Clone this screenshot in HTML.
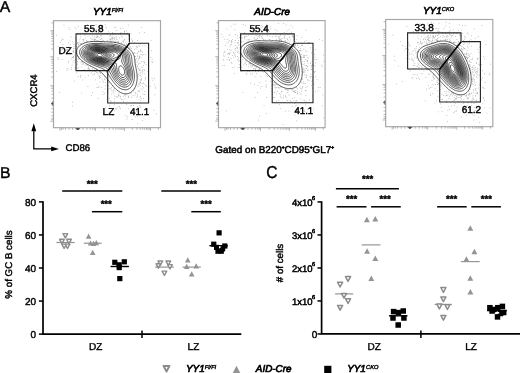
<!DOCTYPE html><html><head><meta charset="utf-8"><title>Figure</title><style>html,body{margin:0;padding:0;background:#fff;}body{width:520px;height:373px;overflow:hidden;font-family:"Liberation Sans",sans-serif;}svg text{font-family:"Liberation Sans",sans-serif;}</style></head><body><svg width="520" height="373" viewBox="0 0 520 373" font-family="Liberation Sans, sans-serif" style="display:block;font-family:'Liberation Sans',sans-serif"><rect x="0" y="0" width="520" height="373" fill="#fff"/><path fill="#555" opacity="0.55" d="M71.7 64.7h.75v.75h-.75zM116.6 40.9h.75v.75h-.75zM79.3 42.5h.75v.75h-.75zM101.0 41.6h.75v.75h-.75zM67.0 49.0h.75v.75h-.75zM75.5 53.0h.75v.75h-.75zM74.6 26.9h.75v.75h-.75zM76.5 43.3h.75v.75h-.75zM73.5 52.0h.75v.75h-.75zM77.0 61.5h.75v.75h-.75zM70.6 58.8h.75v.75h-.75zM94.6 70.8h.75v.75h-.75zM84.3 41.8h.75v.75h-.75zM85.3 37.8h.75v.75h-.75zM97.9 39.9h.75v.75h-.75zM76.1 40.2h.75v.75h-.75zM111.2 41.7h.75v.75h-.75zM101.3 37.8h.75v.75h-.75zM89.4 69.4h.75v.75h-.75zM80.4 43.5h.75v.75h-.75zM86.3 40.3h.75v.75h-.75zM73.4 50.0h.75v.75h-.75zM71.1 52.9h.75v.75h-.75zM76.2 38.7h.75v.75h-.75zM78.5 44.5h.75v.75h-.75zM100.9 38.7h.75v.75h-.75zM82.6 40.7h.75v.75h-.75zM71.7 57.3h.75v.75h-.75zM81.5 43.0h.75v.75h-.75zM68.1 60.9h.75v.75h-.75zM74.8 37.0h.75v.75h-.75zM75.2 52.3h.75v.75h-.75zM93.7 70.0h.75v.75h-.75zM102.6 39.8h.75v.75h-.75zM96.8 41.0h.75v.75h-.75zM73.6 44.0h.75v.75h-.75zM80.9 61.1h.75v.75h-.75zM93.8 74.0h.75v.75h-.75zM87.3 41.1h.75v.75h-.75zM73.2 56.1h.75v.75h-.75zM96.2 68.9h.75v.75h-.75zM66.6 50.0h.75v.75h-.75zM69.6 48.1h.75v.75h-.75zM75.4 44.6h.75v.75h-.75zM88.1 66.7h.75v.75h-.75zM75.4 58.2h.75v.75h-.75zM140.8 54.1h.75v.75h-.75zM76.1 50.8h.75v.75h-.75zM100.2 73.3h.75v.75h-.75zM76.9 61.5h.75v.75h-.75zM77.0 61.0h.75v.75h-.75zM82.4 61.3h.75v.75h-.75zM76.8 63.6h.75v.75h-.75zM137.4 55.3h.75v.75h-.75zM65.9 54.3h.75v.75h-.75zM68.1 42.6h.75v.75h-.75zM103.1 40.5h.75v.75h-.75zM69.7 40.8h.75v.75h-.75zM76.1 53.7h.75v.75h-.75zM82.4 69.9h.75v.75h-.75zM77.9 43.9h.75v.75h-.75zM77.9 56.7h.75v.75h-.75zM76.4 50.8h.75v.75h-.75zM97.4 35.7h.75v.75h-.75zM58.2 58.8h.75v.75h-.75zM97.6 36.4h.75v.75h-.75zM77.6 56.0h.75v.75h-.75zM91.7 39.3h.75v.75h-.75zM57.7 58.8h.75v.75h-.75zM94.1 35.8h.75v.75h-.75zM102.3 30.3h.75v.75h-.75zM57.7 56.9h.75v.75h-.75zM77.6 58.7h.75v.75h-.75zM73.2 48.2h.75v.75h-.75zM90.0 37.6h.75v.75h-.75zM83.2 39.8h.75v.75h-.75zM74.6 48.2h.75v.75h-.75zM73.1 51.1h.75v.75h-.75zM86.3 41.0h.75v.75h-.75zM85.6 28.5h.75v.75h-.75zM89.3 68.7h.75v.75h-.75zM99.5 71.9h.75v.75h-.75zM84.7 34.8h.75v.75h-.75zM80.4 43.4h.75v.75h-.75zM72.7 51.2h.75v.75h-.75zM71.3 53.0h.75v.75h-.75zM77.8 59.1h.75v.75h-.75zM135.3 56.3h.75v.75h-.75zM86.9 64.4h.75v.75h-.75zM72.2 53.6h.75v.75h-.75zM72.9 56.6h.75v.75h-.75zM99.6 41.5h.75v.75h-.75zM78.3 58.1h.75v.75h-.75zM98.8 41.0h.75v.75h-.75zM82.6 63.1h.75v.75h-.75zM90.2 65.8h.75v.75h-.75zM101.6 41.0h.75v.75h-.75zM144.6 84.0h.75v.75h-.75zM135.4 93.1h.75v.75h-.75zM139.8 79.3h.75v.75h-.75zM120.8 42.1h.75v.75h-.75zM130.6 92.7h.75v.75h-.75zM135.5 92.9h.75v.75h-.75zM140.6 87.9h.75v.75h-.75zM121.0 98.9h.75v.75h-.75zM125.1 95.8h.75v.75h-.75zM137.1 85.7h.75v.75h-.75zM124.9 45.5h.75v.75h-.75zM139.5 83.7h.75v.75h-.75zM144.4 73.4h.75v.75h-.75zM124.2 43.7h.75v.75h-.75zM141.0 78.9h.75v.75h-.75zM88.0 75.0h.75v.75h-.75zM119.0 37.4h.75v.75h-.75zM139.9 72.3h.75v.75h-.75zM131.2 47.9h.75v.75h-.75zM133.1 105.2h.75v.75h-.75zM112.4 85.5h.75v.75h-.75zM113.0 92.5h.75v.75h-.75zM110.8 101.2h.75v.75h-.75zM114.0 104.6h.75v.75h-.75zM141.7 82.9h.75v.75h-.75zM136.4 111.0h.75v.75h-.75zM142.7 82.9h.75v.75h-.75zM100.5 75.5h.75v.75h-.75zM139.6 62.9h.75v.75h-.75zM115.7 96.3h.75v.75h-.75zM141.8 67.0h.75v.75h-.75zM126.0 104.0h.75v.75h-.75zM112.6 40.7h.75v.75h-.75zM131.6 119.3h.75v.75h-.75zM146.6 108.4h.75v.75h-.75zM136.8 96.8h.75v.75h-.75zM127.9 24.8h.75v.75h-.75zM140.4 80.0h.75v.75h-.75zM139.3 68.8h.75v.75h-.75zM128.3 97.0h.75v.75h-.75zM100.8 86.9h.75v.75h-.75zM118.5 94.6h.75v.75h-.75zM154.2 78.3h.75v.75h-.75zM134.2 102.3h.75v.75h-.75zM134.6 94.7h.75v.75h-.75zM116.9 96.4h.75v.75h-.75zM137.3 106.1h.75v.75h-.75zM138.1 83.7h.75v.75h-.75zM99.1 77.6h.75v.75h-.75zM123.9 94.9h.75v.75h-.75zM117.8 42.2h.75v.75h-.75zM124.5 98.0h.75v.75h-.75zM119.2 106.8h.75v.75h-.75zM124.7 45.7h.75v.75h-.75zM118.2 94.7h.75v.75h-.75zM137.7 68.6h.75v.75h-.75zM124.2 31.3h.75v.75h-.75zM129.3 34.5h.75v.75h-.75zM142.0 86.2h.75v.75h-.75zM137.8 91.2h.75v.75h-.75zM104.2 78.7h.75v.75h-.75zM139.9 84.9h.75v.75h-.75zM139.6 70.3h.75v.75h-.75zM140.8 76.5h.75v.75h-.75zM124.0 31.7h.75v.75h-.75zM141.6 71.6h.75v.75h-.75zM139.5 73.1h.75v.75h-.75zM128.8 46.7h.75v.75h-.75zM131.1 104.9h.75v.75h-.75zM127.7 95.4h.75v.75h-.75zM128.3 35.0h.75v.75h-.75zM114.1 101.2h.75v.75h-.75zM140.1 82.2h.75v.75h-.75zM140.0 75.1h.75v.75h-.75zM102.6 80.5h.75v.75h-.75zM139.1 83.5h.75v.75h-.75zM144.1 32.2h.75v.75h-.75zM117.9 42.1h.75v.75h-.75zM102.9 81.7h.75v.75h-.75zM137.1 116.6h.75v.75h-.75zM107.9 85.1h.75v.75h-.75zM126.1 30.6h.75v.75h-.75zM137.7 58.0h.75v.75h-.75zM145.3 77.2h.75v.75h-.75zM135.9 109.1h.75v.75h-.75zM104.2 92.9h.75v.75h-.75zM118.8 106.2h.75v.75h-.75zM122.6 99.2h.75v.75h-.75zM113.6 89.3h.75v.75h-.75zM102.5 91.5h.75v.75h-.75zM139.8 54.6h.75v.75h-.75zM122.8 96.1h.75v.75h-.75zM113.9 39.2h.75v.75h-.75zM112.6 37.1h.75v.75h-.75zM111.2 37.4h.75v.75h-.75zM140.9 61.1h.75v.75h-.75zM138.0 74.0h.75v.75h-.75zM132.6 46.2h.75v.75h-.75zM120.1 96.0h.75v.75h-.75zM92.2 68.5h.75v.75h-.75zM140.3 100.3h.75v.75h-.75zM114.1 98.4h.75v.75h-.75zM142.3 54.7h.75v.75h-.75zM138.4 90.0h.75v.75h-.75zM142.5 71.4h.75v.75h-.75zM115.5 26.7h.75v.75h-.75zM142.3 70.0h.75v.75h-.75zM126.9 32.8h.75v.75h-.75zM139.3 102.9h.75v.75h-.75zM134.5 88.6h.75v.75h-.75zM107.8 40.8h.75v.75h-.75zM143.1 87.6h.75v.75h-.75zM114.3 27.0h.75v.75h-.75zM136.8 65.4h.75v.75h-.75zM143.8 69.2h.75v.75h-.75zM141.0 78.1h.75v.75h-.75zM116.6 38.9h.75v.75h-.75zM107.0 97.4h.75v.75h-.75zM137.9 50.7h.75v.75h-.75zM142.1 51.7h.75v.75h-.75zM107.8 80.1h.75v.75h-.75zM135.6 48.5h.75v.75h-.75zM134.4 56.1h.75v.75h-.75zM136.2 58.4h.75v.75h-.75zM126.9 46.4h.75v.75h-.75zM115.3 40.7h.75v.75h-.75zM135.2 59.4h.75v.75h-.75zM128.5 47.9h.75v.75h-.75zM115.9 38.5h.75v.75h-.75zM135.6 64.2h.75v.75h-.75zM140.1 69.7h.75v.75h-.75zM113.6 38.2h.75v.75h-.75zM110.5 42.0h.75v.75h-.75zM135.4 62.3h.75v.75h-.75zM138.5 51.5h.75v.75h-.75zM134.0 49.2h.75v.75h-.75zM125.3 42.3h.75v.75h-.75zM138.7 62.6h.75v.75h-.75zM123.2 41.7h.75v.75h-.75zM99.2 37.1h.75v.75h-.75zM142.6 61.6h.75v.75h-.75zM106.2 40.9h.75v.75h-.75zM94.4 39.2h.75v.75h-.75zM129.0 48.0h.75v.75h-.75zM135.7 46.5h.75v.75h-.75zM117.8 41.2h.75v.75h-.75zM128.9 47.9h.75v.75h-.75zM137.1 56.1h.75v.75h-.75zM144.2 62.5h.75v.75h-.75zM124.2 43.9h.75v.75h-.75zM131.2 38.7h.75v.75h-.75zM137.5 52.5h.75v.75h-.75zM104.0 41.5h.75v.75h-.75zM104.9 82.1h.75v.75h-.75zM73.6 60.0h.75v.75h-.75zM111.4 93.7h.75v.75h-.75zM94.3 40.3h.75v.75h-.75zM139.4 104.9h.75v.75h-.75zM107.3 33.1h.75v.75h-.75zM69.5 29.0h.75v.75h-.75zM139.8 97.2h.75v.75h-.75zM139.4 91.6h.75v.75h-.75zM114.6 90.8h.75v.75h-.75zM92.1 92.3h.75v.75h-.75zM108.7 82.3h.75v.75h-.75zM117.9 95.4h.75v.75h-.75zM91.0 40.9h.75v.75h-.75zM98.1 31.9h.75v.75h-.75zM73.3 50.4h.75v.75h-.75zM82.2 61.0h.75v.75h-.75zM144.0 94.1h.75v.75h-.75zM151.6 77.8h.75v.75h-.75zM138.8 90.3h.75v.75h-.75zM62.6 43.9h.75v.75h-.75zM143.0 98.3h.75v.75h-.75zM110.6 41.3h.75v.75h-.75zM80.4 38.3h.75v.75h-.75zM95.3 30.2h.75v.75h-.75zM102.7 94.2h.75v.75h-.75zM127.9 38.6h.75v.75h-.75zM122.6 28.0h.75v.75h-.75zM118.6 93.1h.75v.75h-.75zM97.2 33.8h.75v.75h-.75zM128.0 96.3h.75v.75h-.75zM114.4 95.7h.75v.75h-.75zM107.2 33.0h.75v.75h-.75zM136.8 61.6h.75v.75h-.75zM77.2 33.7h.75v.75h-.75zM140.1 96.2h.75v.75h-.75zM75.8 28.6h.75v.75h-.75zM97.6 98.0h.75v.75h-.75zM104.9 24.1h.75v.75h-.75zM96.1 37.0h.75v.75h-.75zM92.2 35.6h.75v.75h-.75zM108.0 89.4h.75v.75h-.75zM147.5 71.0h.75v.75h-.75zM74.7 67.1h.75v.75h-.75zM84.1 28.0h.75v.75h-.75zM100.9 35.1h.75v.75h-.75zM138.9 56.9h.75v.75h-.75zM59.9 42.3h.75v.75h-.75zM138.6 99.0h.75v.75h-.75zM115.9 30.2h.75v.75h-.75zM90.7 72.4h.75v.75h-.75zM62.6 38.9h.75v.75h-.75zM99.4 81.5h.75v.75h-.75zM142.2 73.6h.75v.75h-.75zM99.2 77.7h.75v.75h-.75zM82.4 79.6h.75v.75h-.75zM91.7 37.9h.75v.75h-.75zM94.9 41.1h.75v.75h-.75zM94.2 73.4h.75v.75h-.75zM110.9 87.2h.75v.75h-.75zM119.5 95.4h.75v.75h-.75zM109.3 38.4h.75v.75h-.75zM98.4 75.6h.75v.75h-.75zM98.9 76.0h.75v.75h-.75zM137.2 66.3h.75v.75h-.75zM95.1 79.4h.75v.75h-.75zM66.7 69.8h.75v.75h-.75zM84.7 77.5h.75v.75h-.75zM100.7 40.9h.75v.75h-.75zM88.2 29.3h.75v.75h-.75zM120.0 33.3h.75v.75h-.75zM110.7 38.0h.75v.75h-.75zM81.3 66.8h.75v.75h-.75zM84.6 34.2h.75v.75h-.75zM95.4 70.9h.75v.75h-.75zM61.0 53.6h.75v.75h-.75zM139.8 43.7h.75v.75h-.75zM140.8 57.1h.75v.75h-.75zM72.4 61.6h.75v.75h-.75zM80.0 77.3h.75v.75h-.75zM61.7 38.5h.75v.75h-.75zM98.0 32.3h.75v.75h-.75zM87.9 69.5h.75v.75h-.75zM77.5 56.3h.75v.75h-.75zM96.6 36.3h.75v.75h-.75zM80.4 34.2h.75v.75h-.75zM82.6 39.0h.75v.75h-.75zM61.8 59.0h.75v.75h-.75zM62.2 49.3h.75v.75h-.75zM100.0 29.9h.75v.75h-.75zM100.0 35.4h.75v.75h-.75zM123.1 40.5h.75v.75h-.75zM114.0 37.1h.75v.75h-.75zM112.3 39.5h.75v.75h-.75zM97.3 72.6h.75v.75h-.75zM87.5 86.2h.75v.75h-.75zM139.8 75.2h.75v.75h-.75zM74.7 62.0h.75v.75h-.75zM113.9 41.8h.75v.75h-.75zM132.3 40.1h.75v.75h-.75zM71.2 66.9h.75v.75h-.75zM140.6 50.0h.75v.75h-.75zM75.6 60.3h.75v.75h-.75zM79.1 58.6h.75v.75h-.75zM110.2 35.2h.75v.75h-.75zM73.0 57.0h.75v.75h-.75zM66.2 53.3h.75v.75h-.75zM71.3 69.1h.75v.75h-.75zM80.6 62.5h.75v.75h-.75zM76.0 54.0h.75v.75h-.75zM70.7 36.5h.75v.75h-.75zM73.9 46.2h.75v.75h-.75zM61.0 48.6h.75v.75h-.75zM124.0 39.0h.75v.75h-.75zM69.7 44.3h.75v.75h-.75zM80.4 36.3h.75v.75h-.75zM91.9 74.6h.75v.75h-.75zM96.2 40.6h.75v.75h-.75zM77.1 42.3h.75v.75h-.75zM109.1 35.7h.75v.75h-.75zM104.7 33.2h.75v.75h-.75zM114.3 33.0h.75v.75h-.75zM79.4 39.6h.75v.75h-.75zM63.8 50.7h.75v.75h-.75zM84.7 64.8h.75v.75h-.75zM97.2 36.4h.75v.75h-.75zM108.2 31.4h.75v.75h-.75zM80.7 75.7h.75v.75h-.75zM144.6 45.6h.75v.75h-.75zM83.3 63.7h.75v.75h-.75zM136.6 52.9h.75v.75h-.75zM77.3 64.6h.75v.75h-.75zM121.5 43.2h.75v.75h-.75zM143.3 54.0h.75v.75h-.75zM72.0 41.5h.75v.75h-.75zM81.8 61.8h.75v.75h-.75zM118.1 41.8h.75v.75h-.75zM88.2 67.1h.75v.75h-.75zM68.6 46.8h.75v.75h-.75zM99.7 39.0h.75v.75h-.75zM77.3 67.8h.75v.75h-.75zM56.0 71.3h.75v.75h-.75zM72.4 57.1h.75v.75h-.75zM76.2 51.7h.75v.75h-.75zM77.4 42.9h.75v.75h-.75zM57.6 46.1h.75v.75h-.75zM68.6 68.4h.75v.75h-.75zM77.7 76.0h.75v.75h-.75zM86.5 65.3h.75v.75h-.75zM77.8 42.5h.75v.75h-.75zM111.9 33.0h.75v.75h-.75zM76.4 49.6h.75v.75h-.75zM96.3 72.3h.75v.75h-.75zM73.9 80.7h.75v.75h-.75zM78.3 67.6h.75v.75h-.75zM152.4 79.7h.75v.75h-.75zM75.4 55.7h.75v.75h-.75zM66.8 68.6h.75v.75h-.75zM93.0 25.4h.75v.75h-.75zM139.1 56.3h.75v.75h-.75zM138.8 70.1h.75v.75h-.75zM134.6 53.3h.75v.75h-.75zM83.4 39.2h.75v.75h-.75zM81.7 64.0h.75v.75h-.75zM95.3 39.3h.75v.75h-.75zM141.8 45.6h.75v.75h-.75zM130.7 32.9h.75v.75h-.75zM87.5 68.2h.75v.75h-.75zM93.7 39.3h.75v.75h-.75zM66.2 49.0h.75v.75h-.75zM62.3 46.8h.75v.75h-.75zM95.6 37.4h.75v.75h-.75zM56.1 34.7h.75v.75h-.75zM77.2 55.2h.75v.75h-.75zM67.9 62.6h.75v.75h-.75zM63.6 24.8h.75v.75h-.75zM91.9 29.0h.75v.75h-.75zM74.4 54.8h.75v.75h-.75zM110.6 39.0h.75v.75h-.75zM61.0 40.6h.75v.75h-.75zM102.0 27.9h.75v.75h-.75zM109.3 105.5h.75v.75h-.75zM138.2 68.2h.75v.75h-.75zM93.5 68.7h.75v.75h-.75zM156.1 113.4h.75v.75h-.75zM137.9 63.7h.75v.75h-.75zM135.3 92.3h.75v.75h-.75zM139.7 106.6h.75v.75h-.75zM113.0 90.6h.75v.75h-.75zM110.2 88.0h.75v.75h-.75zM120.2 97.7h.75v.75h-.75zM139.6 82.5h.75v.75h-.75zM108.7 88.2h.75v.75h-.75zM104.8 79.4h.75v.75h-.75zM147.8 52.0h.75v.75h-.75zM115.0 108.3h.75v.75h-.75zM134.1 42.0h.75v.75h-.75zM152.3 62.3h.75v.75h-.75zM142.5 93.7h.75v.75h-.75zM137.5 75.6h.75v.75h-.75zM144.1 61.8h.75v.75h-.75zM120.0 28.1h.75v.75h-.75zM134.8 116.6h.75v.75h-.75zM142.7 68.8h.75v.75h-.75zM93.5 29.6h.75v.75h-.75zM120.1 108.0h.75v.75h-.75zM111.7 90.8h.75v.75h-.75zM144.7 79.5h.75v.75h-.75zM98.5 86.3h.75v.75h-.75zM102.1 41.5h.75v.75h-.75zM97.8 87.2h.75v.75h-.75zM120.5 32.1h.75v.75h-.75zM125.4 115.5h.75v.75h-.75zM105.1 107.8h.75v.75h-.75zM139.3 57.6h.75v.75h-.75zM153.6 109.8h.75v.75h-.75zM144.3 91.2h.75v.75h-.75zM132.9 90.8h.75v.75h-.75zM95.7 24.1h.75v.75h-.75zM137.2 94.6h.75v.75h-.75zM116.8 97.0h.75v.75h-.75zM108.7 41.6h.75v.75h-.75zM125.1 94.2h.75v.75h-.75zM96.6 87.0h.75v.75h-.75zM132.2 41.0h.75v.75h-.75zM113.0 33.9h.75v.75h-.75zM139.9 49.0h.75v.75h-.75zM154.4 84.1h.75v.75h-.75zM109.1 111.4h.75v.75h-.75zM139.9 81.4h.75v.75h-.75zM135.6 109.8h.75v.75h-.75zM136.8 95.8h.75v.75h-.75zM145.4 54.1h.75v.75h-.75zM97.7 73.6h.75v.75h-.75zM138.4 107.2h.75v.75h-.75zM114.4 110.4h.75v.75h-.75zM127.7 47.3h.75v.75h-.75zM142.2 120.2h.75v.75h-.75zM139.2 57.8h.75v.75h-.75zM140.5 51.3h.75v.75h-.75zM155.1 87.7h.75v.75h-.75zM131.3 97.0h.75v.75h-.75zM90.1 41.2h.75v.75h-.75zM154.8 86.6h.75v.75h-.75zM107.0 39.8h.75v.75h-.75zM135.3 60.1h.75v.75h-.75zM123.2 101.1h.75v.75h-.75zM109.1 98.0h.75v.75h-.75zM80.2 75.1h.75v.75h-.75zM105.3 26.4h.75v.75h-.75zM145.5 84.9h.75v.75h-.75zM133.3 52.8h.75v.75h-.75zM101.6 78.4h.75v.75h-.75zM122.2 36.5h.75v.75h-.75zM96.7 83.6h.75v.75h-.75zM104.0 75.8h.75v.75h-.75zM129.3 36.9h.75v.75h-.75zM100.2 76.9h.75v.75h-.75zM151.7 59.0h.75v.75h-.75zM145.8 64.0h.75v.75h-.75zM111.3 89.5h.75v.75h-.75zM126.6 118.8h.75v.75h-.75zM128.4 108.4h.75v.75h-.75zM72.2 101.8h.75v.75h-.75zM112.2 115.2h.75v.75h-.75zM119.9 33.9h.75v.75h-.75zM130.5 110.9h.75v.75h-.75zM138.0 85.8h.75v.75h-.75zM142.3 89.4h.75v.75h-.75zM136.5 45.8h.75v.75h-.75zM92.5 71.2h.75v.75h-.75zM137.2 40.3h.75v.75h-.75zM130.1 105.5h.75v.75h-.75zM130.1 46.0h.75v.75h-.75zM112.1 37.2h.75v.75h-.75zM110.1 102.4h.75v.75h-.75zM107.3 92.1h.75v.75h-.75zM132.7 95.5h.75v.75h-.75zM138.0 59.4h.75v.75h-.75zM122.4 40.7h.75v.75h-.75zM114.1 39.4h.75v.75h-.75zM151.6 61.0h.75v.75h-.75zM115.6 37.6h.75v.75h-.75zM120.9 35.8h.75v.75h-.75zM141.4 66.5h.75v.75h-.75zM139.3 56.1h.75v.75h-.75zM124.2 39.8h.75v.75h-.75zM106.2 27.8h.75v.75h-.75zM140.3 50.5h.75v.75h-.75zM137.0 46.7h.75v.75h-.75zM126.1 43.7h.75v.75h-.75zM69.6 52.6h.75v.75h-.75zM114.5 42.3h.75v.75h-.75zM95.6 30.9h.75v.75h-.75zM150.8 40.1h.75v.75h-.75zM130.4 47.4h.75v.75h-.75zM139.2 32.5h.75v.75h-.75zM109.9 39.3h.75v.75h-.75zM134.3 51.9h.75v.75h-.75zM86.9 24.0h.75v.75h-.75zM112.2 38.3h.75v.75h-.75zM84.3 28.7h.75v.75h-.75zM144.1 70.0h.75v.75h-.75zM110.4 39.9h.75v.75h-.75zM96.5 29.5h.75v.75h-.75zM127.9 35.6h.75v.75h-.75zM104.2 41.8h.75v.75h-.75zM138.5 45.3h.75v.75h-.75zM139.3 45.9h.75v.75h-.75zM87.7 35.8h.75v.75h-.75zM112.3 32.0h.75v.75h-.75zM101.3 26.1h.75v.75h-.75zM87.3 29.1h.75v.75h-.75zM142.9 61.6h.75v.75h-.75zM145.1 78.0h.75v.75h-.75zM100.4 28.4h.75v.75h-.75zM90.1 70.4h.75v.75h-.75zM96.3 34.5h.75v.75h-.75zM105.0 85.4h.75v.75h-.75zM137.6 123.4h.75v.75h-.75zM154.5 94.4h.75v.75h-.75zM151.1 50.6h.75v.75h-.75zM150.5 57.0h.75v.75h-.75zM131.9 119.3h.75v.75h-.75zM91.2 95.0h.75v.75h-.75zM76.5 46.0h.75v.75h-.75zM136.8 47.1h.75v.75h-.75zM115.9 36.0h.75v.75h-.75zM127.2 116.5h.75v.75h-.75zM124.1 30.7h.75v.75h-.75zM116.0 108.8h.75v.75h-.75zM107.8 91.7h.75v.75h-.75zM94.6 71.1h.75v.75h-.75zM59.0 92.1h.75v.75h-.75zM93.6 37.6h.75v.75h-.75zM76.4 72.6h.75v.75h-.75zM84.8 32.8h.75v.75h-.75zM146.5 86.2h.75v.75h-.75zM114.1 88.0h.75v.75h-.75zM143.0 65.3h.75v.75h-.75zM143.0 82.7h.75v.75h-.75zM75.7 46.1h.75v.75h-.75zM96.6 41.1h.75v.75h-.75zM140.8 98.0h.75v.75h-.75zM75.2 58.7h.75v.75h-.75zM68.7 27.1h.75v.75h-.75zM78.0 26.1h.75v.75h-.75zM83.7 69.0h.75v.75h-.75zM109.8 100.2h.75v.75h-.75zM141.0 27.1h.75v.75h-.75zM72.3 105.4h.75v.75h-.75zM80.4 43.3h.75v.75h-.75zM80.3 43.1h.75v.75h-.75zM81.4 92.7h.75v.75h-.75zM140.4 106.7h.75v.75h-.75zM111.7 35.5h.75v.75h-.75zM104.8 88.5h.75v.75h-.75zM148.1 80.3h.75v.75h-.75zM88.4 68.2h.75v.75h-.75zM116.6 107.5h.75v.75h-.75zM149.8 86.2h.75v.75h-.75z"/><g fill="none" stroke="#111" stroke-width="0.7" style="filter:blur(0.35px)"><path d="M127.0,93.8 L126.0,93.8 L125.0,93.8 L124.2,93.7 L123.5,93.6 L122.5,93.3 L122.0,93.1 L121.1,92.7 L120.5,92.4 L120.0,92.1 L119.3,91.7 L118.5,91.2 L118.0,90.8 L117.5,90.5 L117.0,90.1 L116.5,89.6 L116.0,89.2 L115.5,88.7 L115.0,88.2 L114.5,87.7 L114.0,87.2 L113.5,86.6 L113.0,86.1 L112.5,85.5 L112.0,84.9 L111.5,84.3 L111.0,83.7 L110.6,83.2 L110.2,82.7 L109.9,82.2 L109.5,81.7 L109.0,81.1 L108.5,80.5 L108.0,79.8 L107.5,79.2 L107.1,78.7 L106.7,78.2 L106.2,77.7 L105.8,77.2 L105.4,76.7 L105.0,76.2 L104.5,75.7 L104.0,75.2 L103.5,74.6 L103.0,74.1 L102.5,73.6 L102.0,73.2 L101.5,72.7 L100.9,72.2 L100.3,71.7 L99.7,71.2 L99.0,70.7 L98.5,70.4 L98.0,70.0 L97.5,69.7 L96.7,69.2 L96.0,68.8 L95.5,68.6 L94.8,68.2 L94.0,67.8 L93.5,67.5 L92.9,67.2 L92.0,66.8 L91.5,66.5 L90.9,66.2 L90.0,65.8 L89.5,65.5 L88.9,65.2 L88.0,64.7 L87.5,64.4 L87.0,64.1 L86.3,63.7 L85.5,63.2 L85.0,62.9 L84.5,62.6 L83.9,62.2 L83.2,61.7 L82.5,61.2 L82.0,60.8 L81.5,60.3 L81.0,59.9 L80.5,59.4 L80.0,58.9 L79.5,58.4 L79.0,57.8 L78.5,57.2 L78.2,56.7 L77.9,56.2 L77.5,55.5 L77.1,54.7 L77.0,54.2 L76.7,53.2 L76.6,52.2 L76.6,51.2 L76.7,50.2 L77.0,49.3 L77.2,48.7 L77.5,48.2 L78.0,47.4 L78.5,46.8 L79.0,46.3 L79.5,45.8 L80.0,45.4 L80.5,45.1 L81.0,44.7 L81.9,44.2 L82.5,43.9 L83.0,43.6 L84.0,43.2 L84.5,43.0 L85.5,42.7 L86.0,42.5 L87.0,42.3 L87.5,42.2 L88.5,41.9 L89.5,41.8 L90.1,41.7 L91.0,41.6 L92.0,41.5 L93.0,41.4 L94.0,41.4 L95.0,41.4 L96.0,41.4 L97.0,41.4 L98.0,41.4 L99.0,41.5 L100.0,41.5 L101.0,41.6 L102.0,41.6 L103.0,41.7 L103.6,41.7 L104.5,41.7 L105.5,41.8 L106.5,41.8 L107.5,41.8 L108.5,41.9 L109.5,41.9 L110.5,41.9 L111.5,42.0 L112.5,42.1 L113.3,42.2 L114.0,42.3 L115.0,42.4 L116.0,42.6 L116.5,42.7 L117.5,42.9 L118.5,43.2 L119.0,43.3 L120.0,43.6 L120.5,43.8 L121.5,44.2 L122.0,44.4 L122.7,44.7 L123.5,45.1 L124.0,45.3 L124.7,45.7 L125.5,46.1 L126.0,46.4 L126.5,46.8 L127.1,47.2 L127.8,47.7 L128.4,48.2 L129.0,48.7 L129.5,49.1 L130.0,49.6 L130.5,50.1 L131.0,50.6 L131.5,51.2 L131.9,51.7 L132.3,52.2 L132.6,52.7 L133.0,53.4 L133.4,54.2 L133.7,54.7 L134.0,55.6 L134.2,56.2 L134.4,57.2 L134.5,57.7 L134.7,58.7 L134.7,59.7 L134.8,60.7 L134.9,61.7 L135.0,62.7 L135.0,63.2 L135.2,64.2 L135.3,65.2 L135.5,66.0 L135.7,66.7 L135.9,67.7 L136.0,68.2 L136.2,69.2 L136.4,70.2 L136.5,70.7 L136.7,71.7 L136.8,72.7 L137.0,73.7 L137.0,74.2 L137.1,75.2 L137.1,76.2 L137.2,77.2 L137.2,78.2 L137.1,79.2 L137.0,80.2 L137.0,80.7 L136.8,81.7 L136.6,82.7 L136.5,83.3 L136.3,84.2 L136.0,85.1 L135.8,85.7 L135.5,86.4 L135.2,87.2 L134.9,87.7 L134.5,88.4 L134.0,89.2 L133.6,89.7 L133.2,90.2 L132.8,90.7 L132.3,91.2 L131.7,91.7 L131.1,92.2 L130.5,92.6 L130.0,92.8 L129.2,93.2 L128.5,93.5 L127.5,93.7 L127.0,93.8Z"/><path d="M126.0,89.8 L125.0,89.8 L124.0,89.7 L123.5,89.6 L122.5,89.4 L122.0,89.2 L121.0,88.8 L120.5,88.5 L120.0,88.2 L119.2,87.7 L118.5,87.2 L118.0,86.8 L117.5,86.4 L117.0,85.9 L116.5,85.5 L116.0,85.0 L115.5,84.4 L115.0,83.9 L114.5,83.3 L114.0,82.7 L113.6,82.2 L113.2,81.7 L112.9,81.2 L112.5,80.7 L112.0,80.0 L111.5,79.2 L111.1,78.7 L110.8,78.2 L110.5,77.7 L110.0,76.9 L109.5,76.2 L109.2,75.7 L108.9,75.2 L108.5,74.5 L108.0,73.8 L107.6,73.2 L107.3,72.7 L106.9,72.2 L106.5,71.7 L106.0,71.1 L105.5,70.6 L105.0,70.2 L104.4,69.7 L103.6,69.2 L103.0,68.9 L102.5,68.6 L101.6,68.2 L101.0,68.0 L100.3,67.7 L99.5,67.4 L99.0,67.2 L98.0,66.8 L97.5,66.6 L96.5,66.3 L96.0,66.1 L95.0,65.7 L94.5,65.5 L93.8,65.2 L93.0,64.9 L92.5,64.7 L91.5,64.2 L91.0,64.0 L90.4,63.7 L89.5,63.2 L89.0,63.0 L88.5,62.7 L87.6,62.2 L87.0,61.8 L86.5,61.5 L86.0,61.2 L85.3,60.7 L84.7,60.2 L84.0,59.7 L83.5,59.2 L83.0,58.7 L82.5,58.2 L82.0,57.7 L81.6,57.2 L81.2,56.7 L80.9,56.2 L80.5,55.4 L80.2,54.7 L80.0,54.2 L79.7,53.2 L79.7,52.2 L79.7,51.2 L80.0,50.2 L80.2,49.7 L80.5,49.1 L81.0,48.4 L81.5,47.8 L82.0,47.3 L82.5,46.9 L83.0,46.5 L83.5,46.2 L84.4,45.7 L85.0,45.4 L85.5,45.2 L86.5,44.8 L87.0,44.6 L88.0,44.3 L88.5,44.2 L89.5,44.0 L90.5,43.8 L91.2,43.7 L92.0,43.6 L93.0,43.5 L94.0,43.5 L95.0,43.4 L96.0,43.4 L97.0,43.4 L98.0,43.5 L99.0,43.5 L100.0,43.6 L101.0,43.6 L102.0,43.7 L102.5,43.7 L103.5,43.8 L104.5,43.8 L105.5,43.8 L106.5,43.9 L107.5,43.9 L108.5,43.9 L109.5,43.9 L110.5,44.0 L111.5,44.0 L112.5,44.1 L113.3,44.2 L114.0,44.3 L115.0,44.4 L116.0,44.6 L116.5,44.7 L117.5,44.9 L118.5,45.2 L119.0,45.3 L120.0,45.7 L120.5,45.9 L121.3,46.2 L122.0,46.5 L122.5,46.7 L123.4,47.2 L124.0,47.5 L124.5,47.8 L125.1,48.2 L125.8,48.7 L126.4,49.2 L127.0,49.7 L127.5,50.1 L128.0,50.6 L128.5,51.1 L129.0,51.7 L129.4,52.2 L129.8,52.7 L130.1,53.2 L130.5,53.9 L130.9,54.7 L131.1,55.2 L131.4,56.2 L131.5,56.7 L131.7,57.7 L131.8,58.7 L131.9,59.7 L131.9,60.7 L132.0,61.7 L132.0,62.2 L132.2,63.2 L132.4,64.2 L132.5,64.7 L132.7,65.7 L133.0,66.7 L133.1,67.2 L133.4,68.2 L133.5,68.8 L133.7,69.7 L133.9,70.7 L134.0,71.3 L134.1,72.2 L134.3,73.2 L134.3,74.2 L134.4,75.2 L134.4,76.2 L134.4,77.2 L134.3,78.2 L134.2,79.2 L134.0,80.2 L133.9,80.7 L133.7,81.7 L133.5,82.4 L133.2,83.2 L133.0,83.8 L132.6,84.7 L132.3,85.2 L132.0,85.7 L131.5,86.4 L131.0,87.0 L130.5,87.6 L130.0,88.0 L129.5,88.4 L129.0,88.7 L128.1,89.2 L127.5,89.4 L126.5,89.7 L126.0,89.8Z"/><path d="M127.0,86.7 L126.0,87.0 L125.0,87.1 L124.0,87.1 L123.0,86.9 L122.2,86.7 L121.5,86.4 L121.0,86.2 L120.1,85.7 L119.5,85.3 L119.0,84.9 L118.5,84.6 L118.0,84.1 L117.5,83.7 L117.0,83.2 L116.5,82.6 L116.0,82.1 L115.5,81.5 L115.0,80.9 L114.5,80.2 L114.2,79.7 L113.8,79.2 L113.5,78.7 L113.0,77.9 L112.6,77.2 L112.3,76.7 L112.0,76.2 L111.5,75.3 L111.2,74.7 L110.9,74.2 L110.5,73.4 L110.1,72.7 L109.9,72.2 L109.5,71.5 L109.0,70.7 L108.7,70.2 L108.3,69.7 L107.9,69.2 L107.4,68.7 L106.7,68.2 L106.0,67.8 L105.5,67.6 L104.5,67.2 L104.0,67.0 L103.0,66.7 L102.5,66.6 L101.5,66.3 L101.0,66.2 L100.0,65.9 L99.3,65.7 L98.5,65.5 L97.6,65.2 L97.0,65.0 L96.1,64.7 L95.5,64.5 L94.7,64.2 L94.0,64.0 L93.4,63.7 L92.5,63.3 L92.0,63.1 L91.1,62.7 L90.5,62.4 L90.0,62.1 L89.2,61.7 L88.5,61.3 L88.0,61.0 L87.5,60.7 L86.8,60.2 L86.1,59.7 L85.5,59.2 L85.0,58.7 L84.5,58.3 L84.0,57.7 L83.5,57.2 L83.2,56.7 L82.8,56.2 L82.5,55.7 L82.1,54.7 L81.9,54.2 L81.7,53.2 L81.6,52.2 L81.8,51.2 L82.0,50.5 L82.4,49.7 L82.7,49.2 L83.1,48.7 L83.6,48.2 L84.2,47.7 L84.9,47.2 L85.5,46.8 L86.0,46.6 L86.8,46.2 L87.5,45.9 L88.2,45.7 L89.0,45.4 L90.0,45.2 L90.5,45.1 L91.5,44.9 L92.5,44.8 L93.5,44.7 L94.0,44.7 L95.0,44.6 L96.0,44.6 L97.0,44.6 L98.0,44.7 L98.5,44.7 L99.5,44.8 L100.5,44.8 L101.5,44.9 L102.5,45.0 L103.5,45.0 L104.5,45.1 L105.5,45.1 L106.5,45.2 L107.0,45.2 L108.0,45.2 L109.0,45.3 L110.0,45.3 L111.0,45.3 L112.0,45.4 L113.0,45.5 L114.0,45.6 L115.0,45.7 L115.5,45.8 L116.5,46.0 L117.4,46.2 L118.0,46.3 L119.0,46.7 L119.5,46.8 L120.5,47.2 L121.0,47.4 L121.6,47.7 L122.5,48.2 L123.0,48.4 L123.5,48.7 L124.2,49.2 L124.9,49.7 L125.5,50.2 L126.0,50.6 L126.5,51.1 L127.0,51.6 L127.5,52.2 L127.9,52.7 L128.2,53.2 L128.5,53.7 L129.0,54.7 L129.2,55.2 L129.5,56.1 L129.6,56.7 L129.8,57.7 L129.9,58.7 L129.9,59.7 L130.0,60.7 L130.0,61.2 L130.1,62.2 L130.3,63.2 L130.5,64.1 L130.7,64.7 L130.9,65.7 L131.1,66.2 L131.4,67.2 L131.5,67.8 L131.7,68.7 L132.0,69.7 L132.1,70.2 L132.3,71.2 L132.4,72.2 L132.5,73.1 L132.6,73.7 L132.6,74.7 L132.6,75.7 L132.6,76.7 L132.5,77.5 L132.4,78.2 L132.2,79.2 L132.0,80.2 L131.9,80.7 L131.5,81.7 L131.3,82.2 L131.0,82.8 L130.5,83.7 L130.2,84.2 L129.8,84.7 L129.3,85.2 L128.7,85.7 L128.0,86.2 L127.5,86.5 L127.0,86.7Z"/><path d="M126.0,84.7 L125.0,85.0 L124.0,85.0 L123.0,84.9 L122.4,84.7 L121.5,84.4 L121.0,84.1 L120.2,83.7 L119.5,83.2 L119.0,82.8 L118.5,82.4 L118.0,81.9 L117.5,81.4 L117.0,80.9 L116.5,80.3 L116.0,79.7 L115.7,79.2 L115.3,78.7 L115.0,78.2 L114.5,77.4 L114.1,76.7 L113.8,76.2 L113.5,75.7 L113.0,74.7 L112.8,74.2 L112.5,73.6 L112.1,72.7 L111.9,72.2 L111.5,71.3 L111.2,70.7 L111.0,70.2 L110.5,69.2 L110.2,68.7 L109.8,68.2 L109.3,67.7 L108.7,67.2 L108.0,66.8 L107.5,66.6 L106.5,66.2 L106.0,66.1 L105.0,65.8 L104.4,65.7 L103.5,65.5 L102.5,65.3 L101.9,65.2 L101.0,65.0 L100.0,64.8 L99.5,64.7 L98.5,64.4 L97.7,64.2 L97.0,64.0 L96.1,63.7 L95.5,63.5 L94.6,63.2 L94.0,63.0 L93.3,62.7 L92.5,62.3 L92.0,62.1 L91.1,61.7 L90.5,61.4 L90.0,61.1 L89.3,60.7 L88.5,60.2 L88.0,59.8 L87.5,59.5 L87.0,59.1 L86.5,58.7 L86.0,58.2 L85.5,57.7 L85.0,57.2 L84.5,56.5 L84.0,55.7 L83.7,55.2 L83.5,54.7 L83.2,53.7 L83.1,52.7 L83.2,51.7 L83.5,50.8 L83.8,50.2 L84.1,49.7 L84.5,49.2 L85.0,48.7 L85.6,48.2 L86.4,47.7 L87.0,47.4 L87.5,47.1 L88.5,46.7 L89.0,46.5 L90.0,46.2 L90.5,46.1 L91.5,45.9 L92.5,45.8 L93.1,45.7 L94.0,45.6 L95.0,45.6 L96.0,45.5 L97.0,45.5 L98.0,45.6 L99.0,45.6 L100.0,45.7 L100.5,45.7 L101.5,45.8 L102.5,45.9 L103.5,46.0 L104.5,46.1 L105.5,46.1 L106.5,46.2 L107.0,46.2 L108.0,46.3 L109.0,46.3 L110.0,46.3 L111.0,46.4 L112.0,46.4 L113.0,46.5 L114.0,46.6 L114.8,46.7 L115.5,46.8 L116.5,47.0 L117.3,47.2 L118.0,47.4 L119.0,47.7 L119.5,47.9 L120.3,48.2 L121.0,48.5 L121.5,48.8 L122.3,49.2 L123.0,49.7 L123.5,50.0 L124.0,50.4 L124.5,50.8 L125.0,51.2 L125.5,51.7 L126.0,52.3 L126.5,52.9 L127.0,53.7 L127.3,54.2 L127.5,54.7 L127.9,55.7 L128.0,56.2 L128.2,57.2 L128.3,58.2 L128.3,59.2 L128.3,60.2 L128.4,61.2 L128.5,61.9 L128.6,62.7 L128.9,63.7 L129.0,64.2 L129.3,65.2 L129.5,65.8 L129.8,66.7 L130.0,67.4 L130.2,68.2 L130.5,69.2 L130.6,69.7 L130.8,70.7 L131.0,71.7 L131.0,72.2 L131.1,73.2 L131.2,74.2 L131.2,75.2 L131.1,76.2 L131.0,77.2 L130.9,77.7 L130.7,78.7 L130.5,79.5 L130.3,80.2 L130.0,80.8 L129.5,81.7 L129.2,82.2 L128.9,82.7 L128.4,83.2 L127.9,83.7 L127.2,84.2 L126.5,84.6 L126.0,84.7Z"/><path d="M125.5,82.9 L124.5,83.1 L123.5,83.1 L122.5,82.9 L121.9,82.7 L121.0,82.3 L120.5,82.0 L120.0,81.7 L119.4,81.2 L118.8,80.7 L118.3,80.2 L117.8,79.7 L117.4,79.2 L117.0,78.7 L116.5,78.1 L116.0,77.3 L115.6,76.7 L115.3,76.2 L115.0,75.6 L114.5,74.7 L114.3,74.2 L114.0,73.5 L113.7,72.7 L113.5,72.2 L113.1,71.2 L112.9,70.7 L112.6,69.7 L112.4,69.2 L112.0,68.4 L111.6,67.7 L111.3,67.2 L110.9,66.7 L110.3,66.2 L109.5,65.7 L109.0,65.5 L108.0,65.2 L107.5,65.1 L106.5,64.9 L105.5,64.8 L104.9,64.7 L104.0,64.6 L103.0,64.5 L102.0,64.3 L101.4,64.2 L100.5,64.0 L99.5,63.8 L98.9,63.7 L98.0,63.5 L97.0,63.2 L96.5,63.0 L95.5,62.7 L95.0,62.5 L94.1,62.2 L93.5,62.0 L92.9,61.7 L92.0,61.3 L91.5,61.0 L90.9,60.7 L90.0,60.2 L89.5,59.9 L89.0,59.6 L88.5,59.2 L87.9,58.7 L87.3,58.2 L86.7,57.7 L86.3,57.2 L85.9,56.7 L85.5,56.2 L85.0,55.4 L84.7,54.7 L84.5,54.0 L84.4,53.2 L84.4,52.2 L84.5,51.7 L84.9,50.7 L85.2,50.2 L85.6,49.7 L86.1,49.2 L86.7,48.7 L87.5,48.2 L88.0,47.9 L88.5,47.7 L89.5,47.3 L90.0,47.1 L91.0,46.9 L91.7,46.7 L92.5,46.6 L93.5,46.4 L94.5,46.3 L95.5,46.3 L96.5,46.3 L97.5,46.3 L98.5,46.3 L99.5,46.4 L100.5,46.5 L101.5,46.6 L102.5,46.7 L103.0,46.7 L104.0,46.8 L105.0,46.9 L106.0,47.0 L107.0,47.1 L108.0,47.1 L109.0,47.2 L109.5,47.2 L110.5,47.3 L111.5,47.3 L112.5,47.4 L113.5,47.4 L114.5,47.6 L115.4,47.7 L116.0,47.8 L117.0,48.0 L117.6,48.2 L118.5,48.5 L119.1,48.7 L120.0,49.1 L120.5,49.3 L121.3,49.7 L122.0,50.1 L122.5,50.4 L123.0,50.8 L123.5,51.2 L124.0,51.7 L124.5,52.2 L125.0,52.7 L125.5,53.4 L125.9,54.2 L126.2,54.7 L126.5,55.6 L126.6,56.2 L126.8,57.2 L126.8,58.2 L126.8,59.2 L126.9,60.2 L126.9,61.2 L127.0,61.7 L127.2,62.7 L127.5,63.7 L127.6,64.2 L128.0,65.2 L128.1,65.7 L128.5,66.7 L128.7,67.2 L129.0,68.2 L129.1,68.7 L129.4,69.7 L129.5,70.3 L129.7,71.2 L129.8,72.2 L129.9,73.2 L129.9,74.2 L129.9,75.2 L129.8,76.2 L129.6,77.2 L129.5,77.7 L129.2,78.7 L129.0,79.2 L128.5,80.2 L128.2,80.7 L127.8,81.2 L127.4,81.7 L126.8,82.2 L126.0,82.7 L125.5,82.9Z"/><path d="M124.5,81.2 L123.5,81.3 L122.7,81.2 L122.0,81.0 L121.3,80.7 L120.5,80.3 L120.0,79.9 L119.5,79.5 L119.0,79.0 L118.5,78.5 L118.0,77.9 L117.5,77.3 L117.1,76.7 L116.8,76.2 L116.5,75.7 L116.0,74.9 L115.7,74.2 L115.5,73.7 L115.0,72.7 L114.9,72.2 L114.5,71.2 L114.4,70.7 L114.1,69.7 L113.9,69.2 L113.6,68.2 L113.5,67.7 L113.0,66.7 L112.7,66.2 L112.3,65.7 L111.8,65.2 L111.0,64.7 L110.5,64.5 L109.5,64.3 L109.0,64.2 L108.0,64.1 L107.0,64.0 L106.0,63.9 L105.0,63.8 L104.0,63.8 L103.4,63.7 L102.5,63.6 L101.5,63.5 L100.5,63.3 L99.9,63.2 L99.0,63.0 L98.0,62.8 L97.5,62.7 L96.5,62.4 L96.0,62.2 L95.0,61.9 L94.5,61.7 L93.5,61.3 L93.0,61.0 L92.3,60.7 L91.5,60.3 L91.0,60.0 L90.5,59.7 L89.7,59.2 L89.0,58.7 L88.5,58.3 L88.0,57.8 L87.5,57.3 L87.0,56.8 L86.6,56.2 L86.2,55.7 L86.0,55.2 L85.6,54.2 L85.5,53.7 L85.5,52.7 L85.5,52.2 L85.9,51.2 L86.1,50.7 L86.5,50.2 L87.0,49.7 L87.6,49.2 L88.4,48.7 L89.0,48.4 L89.5,48.1 L90.5,47.8 L91.0,47.6 L92.0,47.4 L92.9,47.2 L93.5,47.1 L94.5,47.0 L95.5,46.9 L96.5,46.9 L97.5,46.9 L98.5,47.0 L99.5,47.0 L100.5,47.1 L101.2,47.2 L102.0,47.3 L103.0,47.4 L104.0,47.5 L105.0,47.6 L105.5,47.7 L106.5,47.8 L107.5,47.9 L108.5,48.0 L109.5,48.0 L110.5,48.1 L111.5,48.1 L112.5,48.2 L113.0,48.2 L114.0,48.3 L115.0,48.5 L116.0,48.7 L116.5,48.8 L117.5,49.0 L118.1,49.2 L119.0,49.5 L119.5,49.8 L120.4,50.2 L121.0,50.5 L121.5,50.8 L122.0,51.2 L122.6,51.7 L123.2,52.2 L123.6,52.7 L124.0,53.2 L124.5,53.9 L124.9,54.7 L125.1,55.2 L125.3,56.2 L125.4,57.2 L125.4,58.2 L125.4,59.2 L125.4,60.2 L125.5,61.2 L125.5,61.7 L125.8,62.7 L126.0,63.4 L126.3,64.2 L126.5,64.8 L126.9,65.7 L127.1,66.2 L127.4,67.2 L127.6,67.7 L127.9,68.7 L128.1,69.2 L128.3,70.2 L128.5,71.2 L128.6,71.7 L128.7,72.7 L128.7,73.7 L128.7,74.7 L128.6,75.7 L128.5,76.2 L128.2,77.2 L128.0,77.8 L127.6,78.7 L127.3,79.2 L126.9,79.7 L126.4,80.2 L125.8,80.7 L125.0,81.1 L124.5,81.2Z"/><path d="M124.5,79.3 L123.5,79.5 L122.5,79.4 L121.8,79.2 L121.0,78.8 L120.5,78.5 L120.0,78.1 L119.5,77.7 L119.0,77.1 L118.5,76.5 L118.0,75.8 L117.6,75.2 L117.3,74.7 L117.0,74.1 L116.6,73.2 L116.4,72.7 L116.0,71.7 L115.9,71.2 L115.6,70.2 L115.5,69.7 L115.3,68.7 L115.1,67.7 L115.0,67.2 L114.7,66.2 L114.5,65.7 L114.0,64.8 L113.5,64.3 L113.0,63.9 L112.5,63.7 L111.5,63.3 L110.6,63.2 L110.0,63.1 L109.0,63.1 L108.0,63.1 L107.0,63.1 L106.0,63.1 L105.0,63.1 L104.0,63.0 L103.0,63.0 L102.0,62.9 L101.0,62.8 L100.5,62.7 L99.5,62.5 L98.5,62.3 L98.0,62.2 L97.0,61.9 L96.3,61.7 L95.5,61.4 L94.9,61.2 L94.0,60.8 L93.5,60.6 L92.6,60.2 L92.0,59.9 L91.5,59.6 L90.9,59.2 L90.1,58.7 L89.5,58.2 L89.0,57.8 L88.5,57.3 L88.0,56.8 L87.5,56.2 L87.2,55.7 L86.9,55.2 L86.6,54.2 L86.5,53.7 L86.5,52.7 L86.6,52.2 L87.0,51.2 L87.3,50.7 L87.7,50.2 L88.3,49.7 L89.0,49.2 L89.5,49.0 L90.0,48.7 L91.0,48.3 L91.5,48.2 L92.5,47.9 L93.5,47.7 L94.0,47.7 L95.0,47.6 L96.0,47.5 L97.0,47.5 L98.0,47.5 L99.0,47.6 L100.0,47.7 L100.5,47.7 L101.5,47.8 L102.5,47.9 L103.5,48.1 L104.3,48.2 L105.0,48.3 L106.0,48.4 L107.0,48.6 L108.0,48.7 L108.5,48.7 L109.5,48.8 L110.5,48.9 L111.5,49.0 L112.5,49.0 L113.5,49.1 L114.3,49.2 L115.0,49.3 L116.0,49.5 L116.9,49.7 L117.5,49.9 L118.4,50.2 L119.0,50.5 L119.5,50.7 L120.4,51.2 L121.0,51.6 L121.5,52.0 L122.0,52.4 L122.5,52.9 L123.0,53.6 L123.4,54.2 L123.6,54.7 L123.9,55.7 L124.0,56.2 L124.1,57.2 L124.0,58.0 L123.9,58.7 L123.8,59.7 L123.8,60.7 L123.9,61.7 L124.1,62.2 L124.4,63.2 L124.6,63.7 L125.0,64.6 L125.3,65.2 L125.5,65.7 L126.0,66.7 L126.2,67.2 L126.5,68.0 L126.7,68.7 L127.0,69.6 L127.2,70.2 L127.3,71.2 L127.5,72.2 L127.5,72.9 L127.5,73.6 L127.5,74.2 L127.3,75.2 L127.1,76.2 L126.9,76.7 L126.5,77.5 L126.0,78.2 L125.5,78.7 L125.0,79.1 L124.5,79.3Z"/><path d="M124.0,77.4 L123.0,77.6 L122.0,77.4 L121.5,77.2 L120.7,76.7 L120.1,76.2 L119.6,75.7 L119.2,75.2 L118.8,74.7 L118.5,74.2 L118.0,73.2 L117.8,72.7 L117.5,71.9 L117.3,71.2 L117.0,70.2 L116.9,69.7 L116.8,68.7 L116.7,67.7 L116.6,66.7 L116.6,65.7 L116.5,65.1 L116.3,64.2 L116.0,63.6 L115.5,63.0 L115.0,62.6 L114.0,62.2 L113.5,62.1 L112.5,62.0 L111.5,62.0 L110.5,62.0 L109.5,62.1 L108.5,62.2 L108.0,62.2 L107.0,62.3 L106.0,62.4 L105.0,62.4 L104.0,62.4 L103.0,62.4 L102.0,62.3 L101.2,62.2 L100.5,62.1 L99.5,61.9 L98.5,61.7 L98.0,61.6 L97.0,61.3 L96.5,61.2 L95.5,60.9 L95.0,60.7 L94.0,60.3 L93.5,60.0 L92.9,59.7 L92.0,59.2 L91.5,58.9 L91.0,58.6 L90.5,58.2 L89.9,57.7 L89.3,57.2 L88.8,56.7 L88.4,56.2 L88.0,55.5 L87.6,54.7 L87.5,54.2 L87.4,53.2 L87.5,52.3 L87.7,51.7 L88.0,51.2 L88.5,50.6 L89.0,50.2 L89.6,49.7 L90.5,49.2 L91.0,49.0 L91.9,48.7 L92.5,48.5 L93.5,48.3 L94.3,48.2 L95.0,48.1 L96.0,48.1 L97.0,48.0 L98.0,48.1 L99.0,48.1 L100.0,48.2 L100.5,48.2 L101.5,48.4 L102.5,48.5 L103.5,48.7 L104.0,48.8 L105.0,48.9 L106.0,49.1 L106.7,49.2 L107.5,49.3 L108.5,49.5 L109.5,49.6 L110.5,49.7 L111.0,49.7 L112.0,49.8 L113.0,49.9 L114.0,50.0 L115.0,50.2 L115.5,50.3 L116.5,50.5 L117.2,50.7 L118.0,51.0 L118.5,51.2 L119.4,51.7 L120.0,52.1 L120.5,52.5 L121.0,52.9 L121.5,53.5 L122.0,54.2 L122.2,54.7 L122.5,55.7 L122.6,56.2 L122.5,57.2 L122.4,57.7 L122.2,58.7 L122.0,59.3 L121.8,60.2 L121.7,61.2 L121.9,62.2 L122.1,62.7 L122.5,63.4 L123.0,64.2 L123.3,64.7 L123.6,65.2 L124.0,65.8 L124.5,66.7 L124.8,67.2 L125.0,67.7 L125.4,68.7 L125.6,69.2 L125.9,70.2 L126.0,70.7 L126.2,71.7 L126.2,72.7 L126.2,73.7 L126.0,74.6 L125.8,75.2 L125.5,75.9 L125.0,76.6 L124.5,77.1 L124.0,77.4Z"/><path d="M105.5,61.7 L104.5,61.8 L103.5,61.8 L102.5,61.8 L101.6,61.7 L101.0,61.6 L100.0,61.5 L99.0,61.3 L98.5,61.2 L97.5,61.0 L96.6,60.7 L96.0,60.5 L95.2,60.2 L94.5,59.9 L94.0,59.7 L93.0,59.2 L92.5,58.9 L92.0,58.6 L91.4,58.2 L90.8,57.7 L90.2,57.2 L89.7,56.7 L89.3,56.2 L89.0,55.7 L88.5,54.8 L88.3,54.2 L88.2,53.2 L88.5,52.2 L88.7,51.7 L89.1,51.2 L89.5,50.7 L90.2,50.2 L91.0,49.7 L91.5,49.5 L92.3,49.2 L93.0,49.0 L94.0,48.8 L94.7,48.7 L95.5,48.6 L96.5,48.6 L97.5,48.5 L98.5,48.6 L99.5,48.7 L100.0,48.7 L101.0,48.8 L102.0,49.0 L103.0,49.1 L103.5,49.2 L104.5,49.4 L105.5,49.6 L106.0,49.7 L107.0,49.9 L108.0,50.1 L108.6,50.2 L109.5,50.4 L110.5,50.5 L111.5,50.6 L112.0,50.7 L113.0,50.8 L114.0,51.0 L115.0,51.1 L115.5,51.2 L116.5,51.5 L117.0,51.7 L118.0,52.1 L118.5,52.4 L119.0,52.7 L119.6,53.2 L120.0,53.7 L120.5,54.5 L120.8,55.2 L120.8,56.2 L120.5,57.2 L120.2,57.7 L119.9,58.2 L119.4,58.7 L118.7,59.2 L118.0,59.6 L117.5,59.7 L116.5,59.9 L115.5,60.0 L114.5,60.1 L114.0,60.2 L113.0,60.4 L112.0,60.6 L111.5,60.7 L110.5,60.9 L109.5,61.2 L109.0,61.3 L108.0,61.4 L107.0,61.6 L106.0,61.7 L105.5,61.7Z"/><path d="M123.5,74.9 L122.5,75.2 L121.5,74.9 L121.0,74.6 L120.5,74.1 L120.0,73.5 L119.5,72.7 L119.3,72.2 L119.0,71.4 L118.8,70.7 L118.7,69.7 L118.7,68.7 L118.8,67.7 L119.0,66.9 L119.5,66.2 L120.0,65.8 L121.0,65.8 L121.7,66.2 L122.3,66.7 L122.8,67.2 L123.2,67.7 L123.5,68.2 L124.0,69.2 L124.2,69.7 L124.5,70.7 L124.5,71.2 L124.6,72.2 L124.5,73.1 L124.3,73.7 L124.0,74.4 L123.5,74.9Z"/><path d="M104.0,61.2 L103.0,61.2 L102.0,61.2 L101.5,61.2 L100.5,61.1 L99.5,60.9 L98.5,60.7 L98.0,60.6 L97.0,60.3 L96.5,60.2 L95.5,59.8 L95.0,59.6 L94.1,59.2 L93.5,58.9 L93.0,58.6 L92.4,58.2 L91.7,57.7 L91.1,57.2 L90.6,56.7 L90.1,56.2 L89.8,55.7 L89.5,55.2 L89.1,54.2 L89.1,53.2 L89.4,52.2 L89.7,51.7 L90.1,51.2 L90.7,50.7 L91.5,50.2 L92.0,50.0 L92.7,49.7 L93.5,49.5 L94.5,49.3 L95.0,49.2 L96.0,49.1 L97.0,49.0 L98.0,49.0 L99.0,49.1 L100.0,49.2 L100.5,49.2 L101.5,49.4 L102.5,49.6 L103.2,49.7 L104.0,49.9 L105.0,50.1 L105.5,50.2 L106.5,50.4 L107.5,50.7 L108.0,50.8 L109.0,51.1 L109.6,51.2 L110.5,51.4 L111.5,51.6 L112.0,51.7 L113.0,51.9 L114.0,52.1 L114.5,52.2 L115.5,52.5 L116.0,52.7 L117.0,53.2 L117.5,53.6 L118.0,54.1 L118.3,54.7 L118.3,55.7 L118.0,56.3 L117.5,56.7 L116.7,57.2 L116.0,57.5 L115.5,57.7 L114.5,58.1 L114.0,58.3 L113.2,58.7 L112.5,59.0 L112.0,59.2 L111.0,59.7 L110.5,59.9 L109.6,60.2 L109.0,60.4 L108.0,60.7 L107.5,60.8 L106.5,61.0 L105.5,61.1 L104.5,61.2 L104.0,61.2Z"/><path d="M103.0,60.7 L102.1,60.7 L101.5,60.7 L100.5,60.6 L99.5,60.4 L98.5,60.2 L98.0,60.1 L97.0,59.8 L96.5,59.7 L95.5,59.3 L95.0,59.1 L94.2,58.7 L93.5,58.3 L93.0,58.0 L92.5,57.6 L91.9,57.2 L91.4,56.7 L91.0,56.2 L90.5,55.6 L90.1,54.7 L89.9,54.2 L89.9,53.2 L90.1,52.7 L90.5,51.9 L91.0,51.4 L91.5,51.0 L92.0,50.6 L93.0,50.2 L93.5,50.0 L94.5,49.8 L95.0,49.7 L96.0,49.6 L97.0,49.5 L98.0,49.5 L99.0,49.6 L100.0,49.7 L100.5,49.7 L101.5,49.9 L102.5,50.1 L103.2,50.2 L104.0,50.4 L105.0,50.7 L105.5,50.8 L106.5,51.1 L107.0,51.2 L108.0,51.6 L108.5,51.7 L109.5,52.1 L110.0,52.3 L111.0,52.6 L111.5,52.9 L112.3,53.2 L113.0,53.6 L113.5,54.0 L114.0,54.6 L114.1,55.2 L113.8,55.7 L113.5,56.2 L113.0,56.7 L112.5,57.2 L111.9,57.7 L111.2,58.2 L110.5,58.7 L110.0,59.0 L109.5,59.2 L108.5,59.7 L108.0,59.9 L107.0,60.2 L106.5,60.3 L105.5,60.5 L104.5,60.6 L103.5,60.7 L103.0,60.7Z"/><path d="M106.0,59.7 L105.0,60.0 L104.0,60.1 L103.0,60.2 L102.0,60.2 L101.0,60.1 L100.0,60.0 L99.0,59.9 L98.3,59.7 L97.5,59.5 L96.6,59.2 L96.0,59.0 L95.3,58.7 L94.5,58.3 L94.0,58.0 L93.5,57.7 L92.8,57.2 L92.2,56.7 L91.8,56.2 L91.4,55.7 L91.0,55.0 L90.8,54.2 L90.8,53.2 L91.0,52.6 L91.5,51.9 L92.0,51.4 L92.5,51.1 L93.3,50.7 L94.0,50.5 L95.0,50.2 L95.5,50.1 L96.5,50.0 L97.5,50.0 L98.5,50.0 L99.5,50.1 L100.5,50.2 L101.0,50.3 L102.0,50.4 L103.0,50.7 L103.5,50.8 L104.5,51.1 L105.0,51.2 L106.0,51.6 L106.5,51.8 L107.5,52.2 L108.0,52.4 L108.6,52.7 L109.5,53.2 L110.0,53.6 L110.5,54.0 L111.0,54.7 L111.1,55.2 L111.0,56.1 L110.7,56.7 L110.4,57.2 L109.9,57.7 L109.3,58.2 L108.6,58.7 L108.0,59.0 L107.5,59.2 L106.5,59.6 L106.0,59.7Z"/><path d="M105.5,59.2 L104.5,59.5 L103.5,59.6 L102.5,59.7 L101.5,59.7 L100.5,59.6 L99.5,59.5 L98.5,59.3 L98.0,59.2 L97.0,58.8 L96.5,58.7 L95.5,58.2 L95.0,58.0 L94.5,57.7 L93.7,57.2 L93.1,56.7 L92.6,56.2 L92.2,55.7 L91.9,55.2 L91.6,54.2 L91.6,53.2 L92.0,52.5 L92.5,52.0 L93.0,51.6 L93.7,51.2 L94.5,50.9 L95.3,50.7 L96.0,50.6 L97.0,50.5 L98.0,50.5 L99.0,50.5 L100.0,50.6 L100.7,50.7 L101.5,50.8 L102.5,51.1 L103.0,51.2 L104.0,51.5 L104.6,51.7 L105.5,52.0 L106.0,52.3 L106.9,52.7 L107.5,53.1 L108.0,53.4 L108.5,53.8 L109.0,54.4 L109.4,55.2 L109.3,56.2 L109.0,56.9 L108.5,57.5 L108.0,58.0 L107.5,58.3 L106.8,58.7 L106.0,59.0 L105.5,59.2Z"/><path d="M104.5,58.8 L103.5,59.0 L102.5,59.1 L101.5,59.2 L100.5,59.1 L99.5,59.0 L98.5,58.8 L98.0,58.7 L97.0,58.3 L96.5,58.1 L95.5,57.7 L95.0,57.4 L94.5,57.1 L94.0,56.7 L93.5,56.2 L93.0,55.6 L92.5,54.7 L92.4,54.2 L92.5,53.4 L92.9,52.7 L93.3,52.2 L94.0,51.8 L94.5,51.5 L95.5,51.2 L96.0,51.1 L97.0,51.0 L98.0,50.9 L99.0,51.0 L100.0,51.1 L100.8,51.2 L101.5,51.3 L102.5,51.6 L103.0,51.7 L104.0,52.1 L104.5,52.3 L105.4,52.7 L106.0,53.1 L106.5,53.4 L107.0,53.8 L107.5,54.3 L107.9,55.2 L108.0,55.7 L107.9,56.2 L107.5,57.0 L107.0,57.6 L106.5,58.0 L106.0,58.3 L105.0,58.7 L104.5,58.8Z"/><path d="M104.0,58.3 L103.0,58.5 L102.0,58.6 L101.0,58.6 L100.0,58.5 L99.0,58.4 L98.2,58.2 L97.5,58.0 L96.8,57.7 L96.0,57.3 L95.5,57.0 L95.0,56.7 L94.4,56.2 L93.9,55.7 L93.5,55.0 L93.3,54.2 L93.5,53.3 L94.0,52.7 L94.5,52.3 L95.0,52.0 L96.0,51.7 L96.5,51.6 L97.5,51.5 L98.5,51.5 L99.5,51.5 L100.5,51.7 L101.0,51.8 L102.0,52.0 L102.7,52.2 L103.5,52.5 L104.0,52.7 L104.9,53.2 L105.5,53.6 L106.0,54.1 L106.5,54.7 L106.7,55.2 L106.7,56.2 L106.4,56.7 L106.0,57.2 L105.4,57.7 L104.5,58.1 L104.0,58.3Z"/><path d="M103.0,57.8 L102.0,58.0 L101.0,58.1 L100.0,58.0 L99.0,57.8 L98.4,57.7 L97.5,57.4 L97.0,57.2 L96.1,56.7 L95.5,56.3 L95.0,55.8 L94.5,55.2 L94.3,54.7 L94.4,53.7 L94.7,53.2 L95.3,52.7 L96.0,52.4 L96.6,52.2 L97.5,52.1 L98.5,52.0 L99.5,52.1 L100.4,52.2 L101.0,52.3 L102.0,52.6 L102.5,52.8 L103.4,53.2 L104.0,53.5 L104.5,53.9 L105.0,54.4 L105.4,55.2 L105.4,56.2 L105.0,56.8 L104.5,57.2 L103.5,57.7 L103.0,57.8Z"/><path d="M102.0,57.3 L101.0,57.4 L100.0,57.4 L99.0,57.2 L98.5,57.1 L97.5,56.7 L97.0,56.4 L96.5,56.1 L96.0,55.7 L95.5,54.8 L95.4,54.2 L95.7,53.7 L96.2,53.2 L97.0,52.9 L97.8,52.7 L98.5,52.7 L99.5,52.7 L100.0,52.8 L101.0,53.0 L101.7,53.2 L102.5,53.6 L103.0,53.9 L103.5,54.3 L104.0,55.0 L104.1,55.7 L103.9,56.2 L103.5,56.7 L102.5,57.2 L102.0,57.3Z"/><path d="M101.5,56.4 L100.5,56.5 L99.5,56.5 L98.5,56.2 L98.0,56.0 L97.5,55.6 L97.0,55.0 L97.0,54.3 L97.5,53.8 L98.0,53.6 L99.0,53.5 L100.0,53.6 L100.5,53.7 L101.5,54.1 L102.0,54.5 L102.5,55.2 L102.5,55.2 L102.0,56.1 L101.5,56.4Z"/></g><path fill="#555" opacity="0.55" d="M250.0 63.2h.75v.75h-.75zM237.1 52.1h.75v.75h-.75zM233.1 52.4h.75v.75h-.75zM259.0 69.6h.75v.75h-.75zM233.2 52.0h.75v.75h-.75zM246.3 36.0h.75v.75h-.75zM244.8 62.1h.75v.75h-.75zM240.5 56.5h.75v.75h-.75zM255.0 71.2h.75v.75h-.75zM242.5 41.0h.75v.75h-.75zM229.6 34.4h.75v.75h-.75zM230.5 50.1h.75v.75h-.75zM229.8 52.0h.75v.75h-.75zM266.4 40.7h.75v.75h-.75zM237.1 56.0h.75v.75h-.75zM244.1 36.9h.75v.75h-.75zM307.0 66.1h.75v.75h-.75zM266.1 29.7h.75v.75h-.75zM233.9 66.7h.75v.75h-.75zM223.3 52.7h.75v.75h-.75zM228.8 34.8h.75v.75h-.75zM252.4 65.2h.75v.75h-.75zM280.3 33.8h.75v.75h-.75zM232.3 39.1h.75v.75h-.75zM237.1 47.1h.75v.75h-.75zM252.7 64.4h.75v.75h-.75zM250.0 32.9h.75v.75h-.75zM229.2 40.2h.75v.75h-.75zM246.2 43.2h.75v.75h-.75zM246.0 64.3h.75v.75h-.75zM240.1 46.3h.75v.75h-.75zM242.5 59.1h.75v.75h-.75zM247.3 41.8h.75v.75h-.75zM252.1 73.6h.75v.75h-.75zM221.0 34.0h.75v.75h-.75zM254.3 37.6h.75v.75h-.75zM238.1 39.9h.75v.75h-.75zM237.3 50.5h.75v.75h-.75zM239.7 47.4h.75v.75h-.75zM244.0 38.5h.75v.75h-.75zM241.1 53.3h.75v.75h-.75zM249.4 62.8h.75v.75h-.75zM231.3 42.5h.75v.75h-.75zM256.4 35.3h.75v.75h-.75zM245.7 42.3h.75v.75h-.75zM248.4 63.8h.75v.75h-.75zM257.7 69.6h.75v.75h-.75zM225.1 45.3h.75v.75h-.75zM229.5 46.4h.75v.75h-.75zM259.1 40.4h.75v.75h-.75zM235.4 23.7h.75v.75h-.75zM257.0 37.9h.75v.75h-.75zM247.9 40.8h.75v.75h-.75zM258.7 68.6h.75v.75h-.75zM241.0 37.6h.75v.75h-.75zM249.7 62.3h.75v.75h-.75zM228.2 57.0h.75v.75h-.75zM223.1 55.5h.75v.75h-.75zM239.8 32.4h.75v.75h-.75zM224.6 51.3h.75v.75h-.75zM278.7 37.7h.75v.75h-.75zM238.8 53.1h.75v.75h-.75zM230.3 44.5h.75v.75h-.75zM241.9 37.8h.75v.75h-.75zM230.9 41.5h.75v.75h-.75zM306.0 68.0h.75v.75h-.75zM234.6 55.0h.75v.75h-.75zM258.1 40.6h.75v.75h-.75zM227.6 53.3h.75v.75h-.75zM302.7 54.8h.75v.75h-.75zM229.3 49.3h.75v.75h-.75zM253.3 68.6h.75v.75h-.75zM235.5 49.7h.75v.75h-.75zM250.4 64.7h.75v.75h-.75zM246.6 39.5h.75v.75h-.75zM262.2 35.4h.75v.75h-.75zM226.9 39.2h.75v.75h-.75zM234.5 41.8h.75v.75h-.75zM234.7 51.8h.75v.75h-.75zM224.0 51.7h.75v.75h-.75zM244.0 35.9h.75v.75h-.75zM249.0 30.6h.75v.75h-.75zM245.9 61.5h.75v.75h-.75zM302.9 69.3h.75v.75h-.75zM245.2 60.3h.75v.75h-.75zM238.8 64.2h.75v.75h-.75zM243.8 43.5h.75v.75h-.75zM236.9 48.0h.75v.75h-.75zM239.2 37.1h.75v.75h-.75zM239.4 47.4h.75v.75h-.75zM257.4 36.7h.75v.75h-.75zM250.7 64.4h.75v.75h-.75zM257.9 35.8h.75v.75h-.75zM233.3 57.1h.75v.75h-.75zM272.2 40.3h.75v.75h-.75zM306.1 77.2h.75v.75h-.75zM304.1 100.3h.75v.75h-.75zM263.2 39.1h.75v.75h-.75zM273.8 82.3h.75v.75h-.75zM276.7 87.3h.75v.75h-.75zM305.9 74.6h.75v.75h-.75zM306.4 65.5h.75v.75h-.75zM303.5 48.7h.75v.75h-.75zM302.4 61.5h.75v.75h-.75zM299.8 98.5h.75v.75h-.75zM292.5 27.5h.75v.75h-.75zM294.7 40.9h.75v.75h-.75zM300.2 48.2h.75v.75h-.75zM304.1 74.5h.75v.75h-.75zM260.4 76.1h.75v.75h-.75zM265.5 85.7h.75v.75h-.75zM285.6 24.5h.75v.75h-.75zM297.1 88.4h.75v.75h-.75zM302.2 79.3h.75v.75h-.75zM278.3 87.1h.75v.75h-.75zM295.1 90.3h.75v.75h-.75zM305.3 83.2h.75v.75h-.75zM268.9 31.1h.75v.75h-.75zM264.8 39.5h.75v.75h-.75zM313.3 64.9h.75v.75h-.75zM273.6 33.5h.75v.75h-.75zM311.0 65.6h.75v.75h-.75zM301.9 87.0h.75v.75h-.75zM304.6 71.4h.75v.75h-.75zM283.0 23.2h.75v.75h-.75zM287.7 34.1h.75v.75h-.75zM305.3 104.6h.75v.75h-.75zM305.6 90.3h.75v.75h-.75zM307.0 69.7h.75v.75h-.75zM283.2 95.4h.75v.75h-.75zM270.7 40.6h.75v.75h-.75zM272.0 98.3h.75v.75h-.75zM285.0 89.1h.75v.75h-.75zM294.6 114.4h.75v.75h-.75zM292.9 91.1h.75v.75h-.75zM273.0 84.5h.75v.75h-.75zM301.8 88.4h.75v.75h-.75zM303.9 63.4h.75v.75h-.75zM313.2 76.9h.75v.75h-.75zM300.2 50.5h.75v.75h-.75zM300.7 56.1h.75v.75h-.75zM308.0 42.1h.75v.75h-.75zM301.2 59.2h.75v.75h-.75zM275.6 36.2h.75v.75h-.75zM288.6 94.7h.75v.75h-.75zM315.3 76.0h.75v.75h-.75zM281.4 91.0h.75v.75h-.75zM303.8 82.7h.75v.75h-.75zM272.5 83.8h.75v.75h-.75zM307.7 69.8h.75v.75h-.75zM289.8 100.0h.75v.75h-.75zM316.5 78.9h.75v.75h-.75zM302.9 71.0h.75v.75h-.75zM296.3 87.0h.75v.75h-.75zM281.3 97.4h.75v.75h-.75zM279.0 93.2h.75v.75h-.75zM301.4 50.2h.75v.75h-.75zM273.8 83.4h.75v.75h-.75zM274.2 92.3h.75v.75h-.75zM292.7 90.3h.75v.75h-.75zM280.3 86.2h.75v.75h-.75zM279.0 40.6h.75v.75h-.75zM266.1 23.7h.75v.75h-.75zM271.5 85.5h.75v.75h-.75zM295.0 45.1h.75v.75h-.75zM285.1 40.4h.75v.75h-.75zM301.0 45.0h.75v.75h-.75zM304.6 65.1h.75v.75h-.75zM305.7 100.9h.75v.75h-.75zM274.8 87.1h.75v.75h-.75zM287.7 40.5h.75v.75h-.75zM295.6 100.8h.75v.75h-.75zM305.6 94.9h.75v.75h-.75zM275.2 83.5h.75v.75h-.75zM289.4 41.8h.75v.75h-.75zM305.5 68.2h.75v.75h-.75zM298.7 91.9h.75v.75h-.75zM301.2 93.7h.75v.75h-.75zM292.4 90.4h.75v.75h-.75zM297.1 93.6h.75v.75h-.75zM272.1 80.8h.75v.75h-.75zM312.5 79.6h.75v.75h-.75zM274.2 84.8h.75v.75h-.75zM287.1 92.0h.75v.75h-.75zM289.1 36.9h.75v.75h-.75zM302.3 86.0h.75v.75h-.75zM265.6 80.6h.75v.75h-.75zM286.6 30.5h.75v.75h-.75zM294.0 91.4h.75v.75h-.75zM297.1 92.8h.75v.75h-.75zM306.8 86.2h.75v.75h-.75zM294.4 45.6h.75v.75h-.75zM291.8 89.3h.75v.75h-.75zM311.3 85.3h.75v.75h-.75zM270.1 28.4h.75v.75h-.75zM292.5 36.8h.75v.75h-.75zM263.1 71.4h.75v.75h-.75zM267.3 76.2h.75v.75h-.75zM266.1 97.1h.75v.75h-.75zM297.5 45.2h.75v.75h-.75zM294.1 45.9h.75v.75h-.75zM307.1 60.9h.75v.75h-.75zM276.3 93.4h.75v.75h-.75zM301.6 37.2h.75v.75h-.75zM274.8 87.8h.75v.75h-.75zM258.3 71.0h.75v.75h-.75zM274.1 82.0h.75v.75h-.75zM314.6 56.8h.75v.75h-.75zM286.7 89.4h.75v.75h-.75zM307.3 66.6h.75v.75h-.75zM312.3 64.5h.75v.75h-.75zM279.1 41.0h.75v.75h-.75zM259.0 35.2h.75v.75h-.75zM301.3 53.8h.75v.75h-.75zM299.5 49.8h.75v.75h-.75zM306.4 55.0h.75v.75h-.75zM258.1 40.7h.75v.75h-.75zM261.0 25.5h.75v.75h-.75zM254.7 31.4h.75v.75h-.75zM304.3 71.8h.75v.75h-.75zM301.0 57.4h.75v.75h-.75zM306.5 51.0h.75v.75h-.75zM304.3 61.0h.75v.75h-.75zM276.2 38.8h.75v.75h-.75zM307.4 56.9h.75v.75h-.75zM295.3 44.3h.75v.75h-.75zM299.6 50.3h.75v.75h-.75zM310.7 67.4h.75v.75h-.75zM304.3 57.0h.75v.75h-.75zM276.0 40.6h.75v.75h-.75zM269.4 39.3h.75v.75h-.75zM260.7 36.4h.75v.75h-.75zM280.9 40.4h.75v.75h-.75zM303.8 55.6h.75v.75h-.75zM291.7 43.8h.75v.75h-.75zM276.9 84.4h.75v.75h-.75zM301.1 91.2h.75v.75h-.75zM250.1 82.7h.75v.75h-.75zM254.8 97.1h.75v.75h-.75zM261.8 37.8h.75v.75h-.75zM311.4 64.9h.75v.75h-.75zM292.1 98.3h.75v.75h-.75zM243.9 34.2h.75v.75h-.75zM295.7 102.0h.75v.75h-.75zM310.8 69.1h.75v.75h-.75zM309.2 99.5h.75v.75h-.75zM267.6 32.8h.75v.75h-.75zM256.5 66.9h.75v.75h-.75zM307.4 80.5h.75v.75h-.75zM312.3 95.6h.75v.75h-.75zM226.7 42.6h.75v.75h-.75zM231.6 63.2h.75v.75h-.75zM300.4 88.3h.75v.75h-.75zM254.9 39.1h.75v.75h-.75zM252.0 65.7h.75v.75h-.75zM304.9 90.1h.75v.75h-.75zM258.5 31.8h.75v.75h-.75zM254.8 34.7h.75v.75h-.75zM274.6 91.4h.75v.75h-.75zM251.8 34.3h.75v.75h-.75zM305.5 87.0h.75v.75h-.75zM275.9 83.9h.75v.75h-.75zM302.7 83.0h.75v.75h-.75zM262.3 37.9h.75v.75h-.75zM255.4 27.0h.75v.75h-.75zM293.5 99.9h.75v.75h-.75zM255.0 68.4h.75v.75h-.75zM237.3 43.1h.75v.75h-.75zM231.1 44.4h.75v.75h-.75zM260.7 27.3h.75v.75h-.75zM228.0 53.1h.75v.75h-.75zM244.6 63.2h.75v.75h-.75zM295.2 91.9h.75v.75h-.75zM248.6 42.0h.75v.75h-.75zM276.9 30.4h.75v.75h-.75zM289.5 36.6h.75v.75h-.75zM295.0 105.7h.75v.75h-.75zM235.2 34.0h.75v.75h-.75zM248.9 71.1h.75v.75h-.75zM266.0 86.7h.75v.75h-.75zM237.7 66.9h.75v.75h-.75zM255.9 24.9h.75v.75h-.75zM280.1 96.6h.75v.75h-.75zM307.5 79.2h.75v.75h-.75zM306.0 65.1h.75v.75h-.75zM312.6 77.1h.75v.75h-.75zM284.7 40.6h.75v.75h-.75zM269.8 81.3h.75v.75h-.75zM319.8 86.9h.75v.75h-.75zM278.9 87.4h.75v.75h-.75zM260.3 87.8h.75v.75h-.75zM265.7 28.4h.75v.75h-.75zM255.0 69.2h.75v.75h-.75zM259.0 82.2h.75v.75h-.75zM250.8 64.5h.75v.75h-.75zM269.5 36.3h.75v.75h-.75zM259.7 35.3h.75v.75h-.75zM285.3 94.8h.75v.75h-.75zM238.4 51.4h.75v.75h-.75zM308.6 80.3h.75v.75h-.75zM278.7 39.8h.75v.75h-.75zM302.6 99.8h.75v.75h-.75zM248.0 66.4h.75v.75h-.75zM322.5 94.6h.75v.75h-.75zM250.1 73.7h.75v.75h-.75zM224.5 55.8h.75v.75h-.75zM276.4 87.2h.75v.75h-.75zM248.4 38.9h.75v.75h-.75zM256.2 39.1h.75v.75h-.75zM253.8 37.7h.75v.75h-.75zM241.5 71.1h.75v.75h-.75zM299.5 50.3h.75v.75h-.75zM231.9 55.2h.75v.75h-.75zM234.0 73.0h.75v.75h-.75zM241.2 56.4h.75v.75h-.75zM240.5 50.6h.75v.75h-.75zM318.9 39.2h.75v.75h-.75zM228.1 41.4h.75v.75h-.75zM228.8 58.9h.75v.75h-.75zM250.8 66.8h.75v.75h-.75zM244.3 38.6h.75v.75h-.75zM247.3 71.6h.75v.75h-.75zM266.5 25.5h.75v.75h-.75zM222.8 59.6h.75v.75h-.75zM306.5 60.5h.75v.75h-.75zM239.7 64.7h.75v.75h-.75zM231.1 39.9h.75v.75h-.75zM314.6 65.6h.75v.75h-.75zM239.4 44.2h.75v.75h-.75zM248.7 70.0h.75v.75h-.75zM245.4 25.2h.75v.75h-.75zM231.6 41.2h.75v.75h-.75zM241.0 35.6h.75v.75h-.75zM248.6 69.9h.75v.75h-.75zM226.9 49.3h.75v.75h-.75zM238.2 57.8h.75v.75h-.75zM314.1 53.7h.75v.75h-.75zM253.5 68.0h.75v.75h-.75zM228.9 53.3h.75v.75h-.75zM246.4 74.2h.75v.75h-.75zM249.4 40.9h.75v.75h-.75zM246.0 64.5h.75v.75h-.75zM222.6 36.6h.75v.75h-.75zM305.3 59.2h.75v.75h-.75zM235.0 47.9h.75v.75h-.75zM234.2 53.7h.75v.75h-.75zM253.8 65.6h.75v.75h-.75zM226.5 28.6h.75v.75h-.75zM235.2 40.3h.75v.75h-.75zM265.9 75.2h.75v.75h-.75zM222.2 65.2h.75v.75h-.75zM254.6 76.6h.75v.75h-.75zM235.1 45.2h.75v.75h-.75zM253.7 68.6h.75v.75h-.75zM259.2 37.0h.75v.75h-.75zM301.8 43.5h.75v.75h-.75zM231.9 67.0h.75v.75h-.75zM267.2 35.4h.75v.75h-.75zM254.2 83.8h.75v.75h-.75zM241.5 45.7h.75v.75h-.75zM234.5 29.4h.75v.75h-.75zM248.8 63.5h.75v.75h-.75zM237.3 34.9h.75v.75h-.75zM226.6 59.6h.75v.75h-.75zM304.3 40.9h.75v.75h-.75zM244.9 36.6h.75v.75h-.75zM293.8 35.7h.75v.75h-.75zM287.1 39.0h.75v.75h-.75zM240.0 64.9h.75v.75h-.75zM304.7 70.0h.75v.75h-.75zM249.8 63.1h.75v.75h-.75zM255.6 66.7h.75v.75h-.75zM236.0 46.7h.75v.75h-.75zM237.9 45.2h.75v.75h-.75zM304.6 55.3h.75v.75h-.75zM242.0 45.5h.75v.75h-.75zM230.9 61.9h.75v.75h-.75zM278.2 36.2h.75v.75h-.75zM243.9 43.9h.75v.75h-.75zM307.8 58.6h.75v.75h-.75zM243.5 64.5h.75v.75h-.75zM244.3 32.0h.75v.75h-.75zM246.4 35.7h.75v.75h-.75zM241.5 54.7h.75v.75h-.75zM237.5 42.3h.75v.75h-.75zM230.6 57.9h.75v.75h-.75zM293.9 91.0h.75v.75h-.75zM310.1 47.6h.75v.75h-.75zM311.2 52.5h.75v.75h-.75zM239.7 49.1h.75v.75h-.75zM263.9 26.5h.75v.75h-.75zM292.5 35.7h.75v.75h-.75zM293.0 42.9h.75v.75h-.75zM245.7 73.2h.75v.75h-.75zM241.0 66.7h.75v.75h-.75zM223.4 59.6h.75v.75h-.75zM239.2 67.0h.75v.75h-.75zM241.0 41.8h.75v.75h-.75zM252.8 70.0h.75v.75h-.75zM256.3 67.1h.75v.75h-.75zM238.2 42.4h.75v.75h-.75zM256.0 73.0h.75v.75h-.75zM224.4 38.7h.75v.75h-.75zM234.7 48.6h.75v.75h-.75zM238.1 60.5h.75v.75h-.75zM239.0 60.6h.75v.75h-.75zM239.9 51.3h.75v.75h-.75zM242.3 55.7h.75v.75h-.75zM303.0 71.9h.75v.75h-.75zM229.2 53.4h.75v.75h-.75zM254.8 28.1h.75v.75h-.75zM250.6 65.5h.75v.75h-.75zM277.0 84.6h.75v.75h-.75zM296.4 104.8h.75v.75h-.75zM280.3 34.2h.75v.75h-.75zM295.9 39.3h.75v.75h-.75zM281.0 91.8h.75v.75h-.75zM258.3 119.7h.75v.75h-.75zM261.9 71.2h.75v.75h-.75zM305.7 40.3h.75v.75h-.75zM280.1 39.2h.75v.75h-.75zM259.7 68.0h.75v.75h-.75zM303.8 69.1h.75v.75h-.75zM271.6 88.2h.75v.75h-.75zM301.3 81.8h.75v.75h-.75zM301.2 93.8h.75v.75h-.75zM294.4 103.2h.75v.75h-.75zM278.8 87.7h.75v.75h-.75zM314.7 59.3h.75v.75h-.75zM299.7 86.7h.75v.75h-.75zM274.0 96.9h.75v.75h-.75zM278.5 100.3h.75v.75h-.75zM322.1 105.6h.75v.75h-.75zM318.2 87.3h.75v.75h-.75zM269.9 26.5h.75v.75h-.75zM252.9 32.2h.75v.75h-.75zM302.9 67.4h.75v.75h-.75zM280.4 108.3h.75v.75h-.75zM257.0 92.3h.75v.75h-.75zM304.9 76.7h.75v.75h-.75zM278.9 104.2h.75v.75h-.75zM293.7 45.8h.75v.75h-.75zM288.8 29.2h.75v.75h-.75zM262.4 26.3h.75v.75h-.75zM284.6 35.2h.75v.75h-.75zM274.9 85.2h.75v.75h-.75zM278.8 85.2h.75v.75h-.75zM291.8 35.6h.75v.75h-.75zM299.6 46.1h.75v.75h-.75zM315.3 62.4h.75v.75h-.75zM296.8 91.2h.75v.75h-.75zM315.3 49.0h.75v.75h-.75zM291.9 105.9h.75v.75h-.75zM286.6 100.1h.75v.75h-.75zM248.2 34.8h.75v.75h-.75zM273.0 96.9h.75v.75h-.75zM263.7 105.2h.75v.75h-.75zM303.5 56.3h.75v.75h-.75zM291.0 31.7h.75v.75h-.75zM271.1 90.7h.75v.75h-.75zM275.0 32.8h.75v.75h-.75zM267.3 31.7h.75v.75h-.75zM265.8 84.2h.75v.75h-.75zM301.5 88.7h.75v.75h-.75zM310.4 74.0h.75v.75h-.75zM323.2 54.7h.75v.75h-.75zM310.0 63.2h.75v.75h-.75zM266.0 113.0h.75v.75h-.75zM304.3 111.2h.75v.75h-.75zM294.5 92.0h.75v.75h-.75zM301.9 57.1h.75v.75h-.75zM312.3 87.8h.75v.75h-.75zM288.5 110.8h.75v.75h-.75zM283.7 37.2h.75v.75h-.75zM302.0 45.0h.75v.75h-.75zM307.0 108.5h.75v.75h-.75zM284.9 110.7h.75v.75h-.75zM285.9 97.0h.75v.75h-.75zM310.3 61.7h.75v.75h-.75zM312.4 83.8h.75v.75h-.75zM290.6 25.5h.75v.75h-.75zM285.8 89.1h.75v.75h-.75zM313.7 83.4h.75v.75h-.75zM276.2 101.3h.75v.75h-.75zM308.9 42.4h.75v.75h-.75zM294.2 38.7h.75v.75h-.75zM296.0 120.5h.75v.75h-.75zM285.4 40.8h.75v.75h-.75zM301.8 78.1h.75v.75h-.75zM290.6 101.2h.75v.75h-.75zM287.2 38.5h.75v.75h-.75zM282.7 124.1h.75v.75h-.75zM321.3 64.8h.75v.75h-.75zM287.9 90.5h.75v.75h-.75zM302.9 81.5h.75v.75h-.75zM322.2 40.0h.75v.75h-.75zM305.9 75.6h.75v.75h-.75zM310.9 76.3h.75v.75h-.75zM277.9 23.0h.75v.75h-.75zM296.3 99.9h.75v.75h-.75zM296.7 35.0h.75v.75h-.75zM258.8 68.8h.75v.75h-.75zM299.7 93.7h.75v.75h-.75zM303.8 101.9h.75v.75h-.75zM280.7 87.0h.75v.75h-.75zM277.3 91.0h.75v.75h-.75zM307.5 62.8h.75v.75h-.75zM309.4 76.0h.75v.75h-.75zM317.7 90.4h.75v.75h-.75zM284.2 36.0h.75v.75h-.75zM252.0 28.9h.75v.75h-.75zM278.8 37.6h.75v.75h-.75zM278.8 38.2h.75v.75h-.75zM294.1 41.9h.75v.75h-.75zM301.8 43.7h.75v.75h-.75zM279.8 35.5h.75v.75h-.75zM272.2 36.6h.75v.75h-.75zM281.2 40.0h.75v.75h-.75zM281.8 38.1h.75v.75h-.75zM280.8 38.6h.75v.75h-.75zM305.5 29.7h.75v.75h-.75zM268.7 39.1h.75v.75h-.75zM297.0 43.5h.75v.75h-.75zM254.8 65.8h.75v.75h-.75zM311.3 69.3h.75v.75h-.75zM263.6 40.0h.75v.75h-.75zM315.9 59.3h.75v.75h-.75zM298.2 46.9h.75v.75h-.75zM307.1 60.1h.75v.75h-.75zM302.7 64.2h.75v.75h-.75zM270.6 40.7h.75v.75h-.75zM278.8 33.4h.75v.75h-.75zM321.9 66.3h.75v.75h-.75zM323.4 60.9h.75v.75h-.75zM303.2 57.0h.75v.75h-.75zM315.1 71.0h.75v.75h-.75zM283.8 31.9h.75v.75h-.75zM279.5 39.3h.75v.75h-.75zM313.7 71.2h.75v.75h-.75zM228.0 41.6h.75v.75h-.75zM275.1 36.0h.75v.75h-.75zM278.6 36.4h.75v.75h-.75zM255.4 32.6h.75v.75h-.75zM290.2 39.6h.75v.75h-.75zM261.2 36.2h.75v.75h-.75zM274.8 29.4h.75v.75h-.75zM233.4 23.7h.75v.75h-.75zM310.2 77.4h.75v.75h-.75zM323.0 117.4h.75v.75h-.75zM261.6 86.3h.75v.75h-.75zM287.0 89.7h.75v.75h-.75zM287.5 100.0h.75v.75h-.75zM226.3 110.5h.75v.75h-.75zM305.4 50.6h.75v.75h-.75zM311.8 80.4h.75v.75h-.75zM230.5 25.9h.75v.75h-.75zM229.2 60.2h.75v.75h-.75zM284.6 38.1h.75v.75h-.75zM253.0 30.2h.75v.75h-.75zM315.2 90.9h.75v.75h-.75zM249.5 39.6h.75v.75h-.75zM235.0 56.2h.75v.75h-.75zM237.4 37.8h.75v.75h-.75zM294.4 96.9h.75v.75h-.75zM228.7 54.2h.75v.75h-.75zM237.5 58.9h.75v.75h-.75zM285.1 96.2h.75v.75h-.75zM266.6 34.4h.75v.75h-.75zM311.7 81.3h.75v.75h-.75zM224.3 65.1h.75v.75h-.75zM282.8 97.5h.75v.75h-.75zM313.1 108.7h.75v.75h-.75zM303.8 109.6h.75v.75h-.75zM280.1 94.6h.75v.75h-.75zM242.5 92.1h.75v.75h-.75zM314.3 71.9h.75v.75h-.75zM243.1 24.2h.75v.75h-.75zM259.2 115.8h.75v.75h-.75zM250.3 31.1h.75v.75h-.75zM257.6 85.0h.75v.75h-.75zM259.0 69.2h.75v.75h-.75z"/><g fill="none" stroke="#111" stroke-width="0.7" style="filter:blur(0.35px)"><path d="M291.0,88.6 L290.0,88.7 L289.0,88.7 L288.0,88.7 L287.5,88.6 L286.5,88.4 L285.5,88.2 L285.0,88.0 L284.0,87.7 L283.5,87.5 L282.6,87.1 L282.0,86.8 L281.5,86.6 L280.6,86.1 L280.0,85.7 L279.5,85.4 L279.0,85.1 L278.3,84.6 L277.6,84.1 L277.0,83.6 L276.5,83.2 L276.0,82.8 L275.5,82.4 L275.0,82.0 L274.5,81.5 L274.0,81.0 L273.5,80.6 L273.0,80.1 L272.5,79.6 L272.0,79.1 L271.5,78.6 L271.0,78.1 L270.5,77.6 L270.0,77.0 L269.5,76.5 L269.0,76.0 L268.5,75.4 L268.0,74.9 L267.5,74.4 L267.0,73.8 L266.5,73.3 L266.0,72.8 L265.5,72.3 L265.0,71.8 L264.5,71.4 L264.0,70.9 L263.5,70.5 L263.0,70.1 L262.3,69.6 L261.6,69.1 L261.0,68.7 L260.5,68.4 L260.0,68.1 L259.1,67.6 L258.5,67.3 L258.0,67.0 L257.3,66.6 L256.5,66.2 L256.0,65.9 L255.4,65.6 L254.5,65.1 L254.0,64.9 L253.5,64.6 L252.6,64.1 L252.0,63.7 L251.5,63.5 L250.9,63.1 L250.1,62.6 L249.5,62.2 L249.0,61.9 L248.5,61.6 L247.8,61.1 L247.1,60.6 L246.5,60.1 L246.0,59.7 L245.5,59.3 L245.0,58.8 L244.5,58.3 L244.0,57.8 L243.5,57.3 L243.0,56.7 L242.6,56.1 L242.2,55.6 L241.9,55.1 L241.5,54.3 L241.2,53.6 L241.0,53.1 L240.7,52.1 L240.6,51.1 L240.6,50.1 L240.8,49.1 L241.0,48.4 L241.3,47.6 L241.6,47.1 L242.0,46.5 L242.5,45.9 L243.0,45.4 L243.5,45.0 L244.0,44.6 L244.7,44.1 L245.5,43.6 L246.0,43.3 L246.5,43.1 L247.5,42.6 L248.0,42.4 L248.9,42.1 L249.5,41.9 L250.5,41.6 L251.0,41.5 L252.0,41.3 L253.0,41.1 L253.5,41.0 L254.5,40.9 L255.5,40.8 L256.5,40.7 L257.5,40.7 L258.5,40.7 L259.5,40.7 L260.5,40.7 L261.5,40.7 L262.5,40.8 L263.5,40.8 L264.5,40.8 L265.5,40.9 L266.5,40.9 L267.5,40.9 L268.5,40.9 L269.5,40.9 L270.5,40.9 L271.5,40.9 L272.5,40.8 L273.5,40.8 L274.5,40.8 L275.5,40.8 L276.5,40.8 L277.5,40.9 L278.5,41.0 L279.5,41.1 L280.0,41.1 L281.0,41.3 L282.0,41.4 L282.8,41.6 L283.5,41.8 L284.5,42.0 L285.0,42.2 L286.0,42.5 L286.5,42.7 L287.5,43.1 L288.0,43.3 L288.7,43.6 L289.5,44.0 L290.0,44.3 L290.6,44.6 L291.5,45.1 L292.0,45.4 L292.5,45.8 L293.0,46.1 L293.7,46.6 L294.3,47.1 L294.9,47.6 L295.4,48.1 L296.0,48.6 L296.4,49.1 L296.9,49.6 L297.3,50.1 L297.7,50.6 L298.1,51.1 L298.5,51.8 L299.0,52.6 L299.2,53.1 L299.5,53.7 L299.8,54.6 L300.0,55.1 L300.3,56.1 L300.4,57.1 L300.5,57.6 L300.6,58.6 L300.7,59.6 L300.8,60.6 L301.0,61.6 L301.0,62.1 L301.2,63.1 L301.3,64.1 L301.5,65.1 L301.6,65.6 L301.7,66.6 L301.9,67.6 L302.0,68.4 L302.1,69.1 L302.2,70.1 L302.2,71.1 L302.3,72.1 L302.3,73.1 L302.2,74.1 L302.1,75.1 L302.0,76.1 L301.9,76.6 L301.7,77.6 L301.5,78.6 L301.3,79.1 L301.0,80.1 L300.8,80.6 L300.5,81.3 L300.1,82.1 L299.9,82.6 L299.5,83.2 L299.0,83.9 L298.5,84.5 L298.0,85.1 L297.5,85.6 L297.0,86.1 L296.5,86.5 L296.0,86.8 L295.5,87.1 L294.6,87.6 L294.0,87.9 L293.4,88.1 L292.5,88.4 L291.5,88.6 L291.0,88.6Z"/><path d="M290.5,84.7 L289.5,84.8 L288.5,84.9 L287.5,84.8 L286.5,84.7 L286.0,84.6 L285.0,84.3 L284.4,84.1 L283.5,83.7 L283.0,83.5 L282.1,83.1 L281.5,82.7 L281.0,82.5 L280.4,82.1 L279.7,81.6 L279.0,81.1 L278.5,80.7 L278.0,80.3 L277.5,79.8 L277.0,79.4 L276.5,78.9 L276.0,78.4 L275.5,77.9 L275.0,77.4 L274.5,76.9 L274.0,76.3 L273.5,75.7 L273.0,75.1 L272.6,74.6 L272.1,74.1 L271.7,73.6 L271.3,73.1 L270.9,72.6 L270.5,72.1 L270.0,71.5 L269.5,70.9 L269.0,70.4 L268.5,69.9 L268.0,69.5 L267.5,69.1 L266.8,68.6 L266.0,68.1 L265.5,67.8 L265.0,67.6 L264.1,67.1 L263.5,66.8 L263.0,66.6 L262.0,66.2 L261.5,66.0 L260.6,65.6 L260.0,65.3 L259.4,65.1 L258.5,64.7 L258.0,64.5 L257.2,64.1 L256.5,63.8 L256.0,63.6 L255.1,63.1 L254.5,62.8 L254.0,62.6 L253.2,62.1 L252.5,61.7 L252.0,61.4 L251.5,61.1 L250.7,60.6 L250.0,60.1 L249.5,59.8 L249.0,59.4 L248.5,59.0 L248.0,58.5 L247.5,58.1 L247.0,57.6 L246.5,57.1 L246.0,56.5 L245.5,55.8 L245.0,55.1 L244.7,54.6 L244.5,54.1 L244.1,53.1 L244.0,52.6 L243.8,51.6 L243.8,50.6 L244.0,49.8 L244.2,49.1 L244.5,48.5 L245.0,47.7 L245.5,47.1 L246.0,46.6 L246.5,46.2 L247.0,45.8 L247.5,45.5 L248.2,45.1 L249.0,44.7 L249.5,44.5 L250.4,44.1 L251.0,43.9 L252.0,43.6 L252.5,43.5 L253.5,43.3 L254.5,43.1 L255.0,43.0 L256.0,42.9 L257.0,42.8 L258.0,42.8 L259.0,42.8 L260.0,42.8 L261.0,42.8 L262.0,42.8 L263.0,42.8 L264.0,42.9 L265.0,43.0 L266.0,43.0 L267.0,43.0 L268.0,43.1 L269.0,43.1 L270.0,43.1 L271.0,43.0 L272.0,43.0 L273.0,43.0 L274.0,42.9 L275.0,42.9 L276.0,42.9 L277.0,42.9 L278.0,42.9 L279.0,43.0 L279.7,43.1 L280.5,43.2 L281.5,43.4 L282.5,43.6 L283.0,43.7 L284.0,43.9 L284.6,44.1 L285.5,44.4 L286.0,44.6 L287.0,45.0 L287.5,45.2 L288.3,45.6 L289.0,45.9 L289.5,46.2 L290.1,46.6 L290.9,47.1 L291.5,47.5 L292.0,47.9 L292.5,48.3 L293.0,48.7 L293.5,49.2 L294.0,49.7 L294.5,50.2 L295.0,50.9 L295.5,51.5 L295.9,52.1 L296.2,52.6 L296.5,53.3 L296.8,54.1 L297.0,54.6 L297.3,55.6 L297.5,56.6 L297.6,57.1 L297.7,58.1 L297.8,59.1 L297.9,60.1 L298.0,61.1 L298.0,61.6 L298.2,62.6 L298.3,63.6 L298.5,64.5 L298.6,65.1 L298.8,66.1 L298.9,67.1 L299.0,67.6 L299.1,68.6 L299.2,69.6 L299.3,70.6 L299.3,71.6 L299.2,72.6 L299.1,73.6 L299.0,74.6 L298.9,75.1 L298.7,76.1 L298.5,76.8 L298.2,77.6 L298.0,78.2 L297.6,79.1 L297.3,79.6 L297.0,80.1 L296.5,80.9 L296.0,81.5 L295.5,82.0 L295.0,82.5 L294.5,82.9 L294.0,83.3 L293.5,83.6 L292.5,84.1 L292.0,84.3 L291.0,84.6 L290.5,84.7Z"/><path d="M290.0,82.1 L289.0,82.3 L288.0,82.3 L287.0,82.3 L286.0,82.1 L285.5,82.0 L284.5,81.7 L284.0,81.5 L283.1,81.1 L282.5,80.8 L282.0,80.5 L281.3,80.1 L280.6,79.6 L280.0,79.2 L279.5,78.8 L279.0,78.4 L278.5,77.9 L278.0,77.5 L277.5,77.0 L277.0,76.4 L276.5,75.9 L276.0,75.3 L275.5,74.7 L275.0,74.1 L274.6,73.6 L274.2,73.1 L273.9,72.6 L273.5,72.1 L273.0,71.4 L272.5,70.8 L272.0,70.2 L271.5,69.6 L271.0,69.1 L270.5,68.6 L270.0,68.2 L269.5,67.8 L269.0,67.5 L268.3,67.1 L267.5,66.7 L267.0,66.5 L266.0,66.1 L265.5,65.9 L264.7,65.6 L264.0,65.4 L263.2,65.1 L262.5,64.8 L261.8,64.6 L261.0,64.3 L260.5,64.1 L259.5,63.7 L259.0,63.5 L258.0,63.1 L257.5,62.9 L256.8,62.6 L256.0,62.2 L255.5,62.0 L254.8,61.6 L254.0,61.2 L253.5,60.9 L253.0,60.6 L252.2,60.1 L251.5,59.6 L251.0,59.2 L250.5,58.9 L250.0,58.5 L249.5,58.0 L249.0,57.6 L248.5,57.1 L248.0,56.5 L247.5,55.9 L247.0,55.1 L246.7,54.6 L246.4,54.1 L246.1,53.1 L246.0,52.6 L245.8,51.6 L245.9,50.6 L246.1,50.1 L246.5,49.1 L246.8,48.6 L247.2,48.1 L247.6,47.6 L248.2,47.1 L248.9,46.6 L249.5,46.2 L250.0,45.9 L250.7,45.6 L251.5,45.3 L252.0,45.1 L253.0,44.8 L253.9,44.6 L254.5,44.5 L255.5,44.3 L256.5,44.2 L257.3,44.1 L258.0,44.1 L259.0,44.0 L260.0,44.0 L261.0,44.0 L262.0,44.0 L263.0,44.1 L263.5,44.1 L264.5,44.2 L265.5,44.2 L266.5,44.3 L267.5,44.3 L268.5,44.4 L269.5,44.4 L270.5,44.4 L271.5,44.4 L272.5,44.3 L273.5,44.3 L274.5,44.3 L275.5,44.2 L276.5,44.2 L277.5,44.2 L278.5,44.3 L279.5,44.3 L280.5,44.5 L281.3,44.6 L282.0,44.7 L283.0,45.0 L283.5,45.1 L284.5,45.4 L285.1,45.6 L286.0,45.9 L286.5,46.1 L287.5,46.6 L288.0,46.8 L288.5,47.1 L289.3,47.6 L290.0,48.1 L290.5,48.4 L291.0,48.8 L291.5,49.2 L292.0,49.7 L292.5,50.2 L293.0,50.8 L293.5,51.4 L294.0,52.1 L294.3,52.6 L294.6,53.1 L295.0,54.1 L295.2,54.6 L295.4,55.6 L295.5,56.1 L295.7,57.1 L295.8,58.1 L295.8,59.1 L295.9,60.1 L296.0,60.9 L296.1,61.6 L296.3,62.6 L296.4,63.6 L296.5,64.1 L296.7,65.1 L296.9,66.1 L297.0,66.8 L297.1,67.6 L297.2,68.6 L297.3,69.6 L297.3,70.6 L297.3,71.6 L297.2,72.6 L297.1,73.6 L297.0,74.1 L296.7,75.1 L296.5,75.8 L296.2,76.6 L296.0,77.1 L295.5,78.0 L295.1,78.6 L294.7,79.1 L294.3,79.6 L293.8,80.1 L293.2,80.6 L292.5,81.1 L292.0,81.4 L291.5,81.6 L290.5,82.0 L290.0,82.1Z"/><path d="M289.0,80.2 L288.0,80.3 L287.0,80.3 L286.0,80.1 L285.5,80.0 L284.5,79.7 L284.0,79.5 L283.1,79.1 L282.5,78.8 L282.0,78.5 L281.4,78.1 L280.7,77.6 L280.1,77.1 L279.5,76.6 L279.0,76.1 L278.5,75.6 L278.0,75.1 L277.6,74.6 L277.2,74.1 L276.8,73.6 L276.4,73.1 L276.0,72.6 L275.5,71.9 L275.0,71.2 L274.6,70.6 L274.2,70.1 L273.9,69.6 L273.5,69.1 L273.0,68.6 L272.5,68.0 L272.0,67.6 L271.4,67.1 L270.5,66.6 L270.0,66.3 L269.5,66.1 L268.5,65.7 L268.0,65.5 L267.0,65.2 L266.5,65.0 L265.5,64.7 L265.0,64.5 L264.0,64.3 L263.5,64.1 L262.5,63.8 L262.0,63.6 L261.0,63.3 L260.5,63.1 L259.5,62.7 L259.0,62.5 L258.0,62.1 L257.5,61.9 L256.9,61.6 L256.0,61.2 L255.5,60.9 L254.9,60.6 L254.0,60.1 L253.5,59.8 L253.0,59.5 L252.5,59.1 L251.8,58.6 L251.2,58.1 L250.6,57.6 L250.1,57.1 L249.6,56.6 L249.2,56.1 L248.8,55.6 L248.5,55.1 L248.0,54.2 L247.7,53.6 L247.5,52.7 L247.4,52.1 L247.5,51.1 L247.6,50.6 L248.0,49.6 L248.3,49.1 L248.6,48.6 L249.1,48.1 L249.7,47.6 L250.4,47.1 L251.0,46.8 L251.5,46.5 L252.5,46.1 L253.0,45.9 L254.0,45.6 L254.5,45.5 L255.5,45.3 L256.5,45.2 L257.0,45.1 L258.0,45.0 L259.0,44.9 L260.0,44.9 L261.0,44.9 L262.0,44.9 L263.0,45.0 L264.0,45.1 L264.6,45.1 L265.5,45.2 L266.5,45.2 L267.5,45.3 L268.5,45.4 L269.5,45.4 L270.5,45.4 L271.5,45.4 L272.5,45.4 L273.5,45.3 L274.5,45.3 L275.5,45.3 L276.5,45.2 L277.5,45.3 L278.5,45.3 L279.5,45.4 L280.5,45.5 L281.3,45.6 L282.0,45.7 L283.0,46.0 L283.5,46.1 L284.5,46.4 L285.0,46.6 L286.0,47.0 L286.5,47.2 L287.3,47.6 L288.0,48.0 L288.5,48.3 L289.0,48.6 L289.6,49.1 L290.3,49.6 L290.8,50.1 L291.3,50.6 L291.8,51.1 L292.2,51.6 L292.5,52.1 L293.0,52.9 L293.3,53.6 L293.5,54.1 L293.8,55.1 L294.0,56.0 L294.1,56.6 L294.2,57.6 L294.2,58.6 L294.3,59.6 L294.4,60.6 L294.5,61.3 L294.6,62.1 L294.8,63.1 L295.0,64.1 L295.1,64.6 L295.3,65.6 L295.5,66.6 L295.5,67.1 L295.7,68.1 L295.7,69.1 L295.7,70.1 L295.7,71.1 L295.6,72.1 L295.5,72.7 L295.3,73.6 L295.0,74.6 L294.8,75.1 L294.5,75.8 L294.1,76.6 L293.8,77.1 L293.4,77.6 L292.9,78.1 L292.4,78.6 L291.7,79.1 L291.0,79.5 L290.5,79.8 L289.5,80.1 L289.0,80.2Z"/><path d="M289.5,78.1 L288.5,78.4 L287.5,78.5 L286.5,78.4 L285.5,78.3 L284.9,78.1 L284.0,77.8 L283.5,77.5 L282.7,77.1 L282.0,76.7 L281.5,76.3 L281.0,75.9 L280.5,75.5 L280.0,75.0 L279.5,74.5 L279.0,74.0 L278.5,73.4 L278.0,72.8 L277.5,72.1 L277.1,71.6 L276.8,71.1 L276.4,70.6 L276.0,70.0 L275.5,69.2 L275.0,68.6 L274.6,68.1 L274.2,67.6 L273.7,67.1 L273.1,66.6 L272.5,66.2 L272.0,65.9 L271.4,65.6 L270.5,65.2 L270.0,65.0 L269.0,64.7 L268.5,64.6 L267.5,64.3 L266.7,64.1 L266.0,63.9 L265.0,63.7 L264.5,63.5 L263.5,63.2 L263.0,63.1 L262.0,62.8 L261.4,62.6 L260.5,62.3 L260.0,62.1 L259.0,61.7 L258.5,61.5 L257.6,61.1 L257.0,60.8 L256.5,60.6 L255.6,60.1 L255.0,59.8 L254.5,59.5 L253.9,59.1 L253.2,58.6 L252.5,58.1 L252.0,57.7 L251.5,57.2 L251.0,56.7 L250.5,56.2 L250.0,55.6 L249.7,55.1 L249.4,54.6 L249.0,53.6 L248.8,53.1 L248.7,52.1 L248.8,51.1 L249.0,50.5 L249.4,49.6 L249.8,49.1 L250.3,48.6 L250.9,48.1 L251.5,47.7 L252.0,47.4 L252.6,47.1 L253.5,46.7 L254.0,46.6 L255.0,46.3 L255.8,46.1 L256.5,46.0 L257.5,45.8 L258.5,45.7 L259.5,45.7 L260.5,45.7 L261.5,45.7 L262.5,45.7 L263.5,45.8 L264.5,45.8 L265.5,45.9 L266.5,46.0 L267.5,46.1 L268.0,46.1 L269.0,46.2 L270.0,46.3 L271.0,46.3 L272.0,46.3 L273.0,46.3 L274.0,46.2 L275.0,46.2 L276.0,46.2 L277.0,46.1 L278.0,46.2 L279.0,46.2 L280.0,46.3 L281.0,46.4 L282.0,46.6 L282.5,46.7 L283.5,47.0 L284.0,47.1 L285.0,47.5 L285.5,47.7 L286.3,48.1 L287.0,48.5 L287.5,48.7 L288.1,49.1 L288.8,49.6 L289.4,50.1 L289.9,50.6 L290.4,51.1 L290.8,51.6 L291.2,52.1 L291.5,52.6 L292.0,53.5 L292.2,54.1 L292.5,55.0 L292.6,55.6 L292.8,56.6 L292.8,57.6 L292.9,58.6 L292.9,59.6 L293.0,60.4 L293.1,61.1 L293.3,62.1 L293.4,63.1 L293.5,63.6 L293.8,64.6 L294.0,65.6 L294.0,66.1 L294.2,67.1 L294.3,68.1 L294.4,69.1 L294.3,70.1 L294.3,71.1 L294.1,72.1 L294.0,72.6 L293.7,73.6 L293.5,74.1 L293.0,75.1 L292.7,75.6 L292.3,76.1 L291.9,76.6 L291.3,77.1 L290.6,77.6 L290.0,77.9 L289.5,78.1Z"/><path d="M288.5,76.6 L287.5,76.8 L286.5,76.8 L285.5,76.6 L285.0,76.5 L284.0,76.1 L283.5,75.9 L283.0,75.6 L282.3,75.1 L281.6,74.6 L281.0,74.1 L280.5,73.6 L280.0,73.1 L279.6,72.6 L279.2,72.1 L278.8,71.6 L278.4,71.1 L278.0,70.5 L277.5,69.8 L277.1,69.1 L276.7,68.6 L276.4,68.1 L276.0,67.6 L275.5,67.0 L275.0,66.5 L274.5,66.1 L273.9,65.6 L273.0,65.1 L272.5,64.9 L271.8,64.6 L271.0,64.3 L270.2,64.1 L269.5,63.9 L268.5,63.7 L268.0,63.6 L267.0,63.4 L266.0,63.1 L265.5,63.0 L264.5,62.8 L263.8,62.6 L263.0,62.4 L262.0,62.1 L261.5,61.9 L260.5,61.6 L260.0,61.4 L259.2,61.1 L258.5,60.8 L258.0,60.6 L257.0,60.1 L256.5,59.8 L256.0,59.6 L255.2,59.1 L254.5,58.6 L254.0,58.3 L253.5,57.9 L253.0,57.5 L252.5,57.1 L252.0,56.6 L251.5,56.0 L251.0,55.4 L250.5,54.6 L250.3,54.1 L250.0,53.3 L249.9,52.6 L249.9,51.6 L250.0,51.1 L250.4,50.1 L250.8,49.6 L251.2,49.1 L251.8,48.6 L252.5,48.1 L253.0,47.9 L253.6,47.6 L254.5,47.2 L255.0,47.1 L256.0,46.8 L257.0,46.6 L257.5,46.5 L258.5,46.4 L259.5,46.4 L260.5,46.3 L261.5,46.3 L262.5,46.4 L263.5,46.4 L264.5,46.5 L265.5,46.6 L266.0,46.6 L267.0,46.7 L268.0,46.8 L269.0,46.9 L270.0,47.0 L271.0,47.0 L272.0,47.1 L273.0,47.1 L274.0,47.1 L275.0,47.0 L276.0,47.0 L277.0,47.0 L278.0,47.0 L279.0,47.0 L280.0,47.1 L280.5,47.2 L281.5,47.3 L282.5,47.5 L283.0,47.7 L284.0,48.0 L284.5,48.2 L285.5,48.6 L286.0,48.8 L286.5,49.1 L287.3,49.6 L288.0,50.1 L288.5,50.5 L289.0,51.0 L289.5,51.5 L290.0,52.1 L290.3,52.6 L290.6,53.1 L291.0,54.0 L291.2,54.6 L291.4,55.6 L291.5,56.5 L291.5,57.1 L291.6,58.1 L291.6,59.1 L291.7,60.1 L291.8,61.1 L292.0,62.1 L292.1,62.6 L292.3,63.6 L292.5,64.6 L292.6,65.1 L292.8,66.1 L292.9,67.1 L293.0,67.7 L293.1,68.6 L293.0,69.6 L293.0,70.2 L292.9,71.1 L292.6,72.1 L292.5,72.6 L292.1,73.6 L291.8,74.1 L291.4,74.6 L291.0,75.1 L290.5,75.6 L289.7,76.1 L289.0,76.5 L288.5,76.6Z"/><path d="M287.0,75.1 L286.1,75.1 L285.5,75.0 L284.5,74.7 L284.0,74.5 L283.3,74.1 L282.6,73.6 L282.0,73.2 L281.5,72.7 L281.0,72.2 L280.5,71.7 L280.1,71.1 L279.7,70.6 L279.3,70.1 L279.0,69.6 L278.5,68.9 L278.0,68.1 L277.7,67.6 L277.3,67.1 L276.9,66.6 L276.5,66.1 L275.9,65.6 L275.3,65.1 L274.5,64.6 L274.0,64.4 L273.4,64.1 L272.5,63.8 L271.7,63.6 L271.0,63.4 L270.0,63.2 L269.3,63.1 L268.5,63.0 L267.5,62.8 L266.6,62.6 L266.0,62.5 L265.0,62.3 L264.3,62.1 L263.5,61.9 L262.5,61.6 L262.0,61.5 L261.0,61.1 L260.5,61.0 L259.5,60.6 L259.0,60.4 L258.4,60.1 L257.5,59.7 L257.0,59.4 L256.4,59.1 L255.6,58.6 L255.0,58.2 L254.5,57.9 L254.0,57.5 L253.5,57.0 L253.0,56.6 L252.5,56.0 L252.0,55.4 L251.5,54.6 L251.3,54.1 L251.0,53.3 L250.9,52.6 L251.0,51.6 L251.1,51.1 L251.5,50.3 L252.0,49.7 L252.5,49.2 L253.0,48.8 L253.5,48.5 L254.3,48.1 L255.0,47.8 L255.7,47.6 L256.5,47.4 L257.5,47.2 L258.1,47.1 L259.0,47.0 L260.0,46.9 L261.0,46.9 L262.0,46.9 L263.0,47.0 L264.0,47.0 L264.7,47.1 L265.5,47.2 L266.5,47.3 L267.5,47.4 L268.5,47.5 L269.3,47.6 L270.0,47.7 L271.0,47.7 L272.0,47.8 L273.0,47.8 L274.0,47.8 L275.0,47.8 L276.0,47.8 L277.0,47.8 L278.0,47.8 L279.0,47.8 L280.0,47.9 L281.0,48.0 L281.6,48.1 L282.5,48.3 L283.5,48.6 L284.0,48.8 L284.7,49.1 L285.5,49.5 L286.0,49.7 L286.6,50.1 L287.2,50.6 L287.8,51.1 L288.3,51.6 L288.8,52.1 L289.1,52.6 L289.5,53.3 L289.9,54.1 L290.0,54.6 L290.2,55.6 L290.3,56.6 L290.3,57.6 L290.3,58.6 L290.4,59.6 L290.4,60.6 L290.5,61.1 L290.7,62.1 L290.9,63.1 L291.0,63.6 L291.3,64.6 L291.5,65.6 L291.6,66.1 L291.7,67.1 L291.8,68.1 L291.8,69.1 L291.7,70.1 L291.5,70.9 L291.3,71.6 L291.0,72.3 L290.5,73.1 L290.1,73.6 L289.6,74.1 L289.0,74.5 L288.5,74.8 L287.5,75.1 L287.0,75.1Z"/><path d="M287.5,73.2 L286.5,73.4 L285.5,73.3 L284.8,73.1 L284.0,72.7 L283.5,72.4 L283.0,72.1 L282.4,71.6 L281.9,71.1 L281.4,70.6 L281.0,70.1 L280.5,69.4 L280.0,68.7 L279.6,68.1 L279.3,67.6 L278.9,67.1 L278.5,66.5 L278.0,65.8 L277.5,65.3 L277.0,64.8 L276.5,64.4 L276.0,64.1 L275.0,63.6 L274.5,63.4 L273.5,63.1 L273.0,63.0 L272.0,62.8 L271.0,62.6 L270.5,62.6 L269.5,62.4 L268.5,62.3 L267.5,62.1 L267.0,62.1 L266.0,61.9 L265.0,61.7 L264.5,61.6 L263.5,61.3 L262.7,61.1 L262.0,60.9 L261.1,60.6 L260.5,60.4 L259.7,60.1 L259.0,59.8 L258.5,59.6 L257.6,59.1 L257.0,58.8 L256.5,58.5 L255.9,58.1 L255.2,57.6 L254.6,57.1 L254.0,56.6 L253.5,56.1 L253.1,55.6 L252.7,55.1 L252.4,54.6 L252.0,53.6 L251.9,53.1 L251.9,52.1 L252.0,51.5 L252.4,50.6 L252.8,50.1 L253.3,49.6 L254.0,49.1 L254.5,48.8 L255.0,48.6 L256.0,48.2 L256.5,48.0 L257.5,47.8 L258.5,47.6 L259.0,47.6 L260.0,47.5 L261.0,47.5 L262.0,47.5 L263.0,47.5 L264.0,47.6 L264.5,47.6 L265.5,47.7 L266.5,47.8 L267.5,48.0 L268.5,48.1 L269.0,48.2 L270.0,48.3 L271.0,48.4 L272.0,48.5 L273.0,48.5 L274.0,48.6 L275.0,48.6 L276.0,48.6 L277.0,48.5 L278.0,48.5 L279.0,48.6 L279.6,48.6 L280.5,48.7 L281.5,48.9 L282.5,49.1 L283.0,49.3 L283.9,49.6 L284.5,49.9 L285.0,50.1 L285.8,50.6 L286.5,51.1 L287.0,51.5 L287.5,52.1 L287.9,52.6 L288.2,53.1 L288.5,53.6 L288.8,54.6 L289.0,55.5 L289.1,56.1 L289.1,57.1 L289.0,58.1 L289.0,59.1 L289.0,60.1 L289.2,61.1 L289.4,62.1 L289.5,62.7 L289.7,63.6 L290.0,64.6 L290.1,65.1 L290.3,66.1 L290.4,67.1 L290.4,68.1 L290.3,69.1 L290.1,70.1 L290.0,70.6 L289.5,71.6 L289.1,72.1 L288.6,72.6 L288.0,73.0 L287.5,73.2Z"/><path d="M286.5,71.2 L285.5,71.3 L284.8,71.1 L284.0,70.7 L283.5,70.4 L283.0,70.0 L282.5,69.5 L282.0,68.9 L281.5,68.2 L281.1,67.6 L280.7,67.1 L280.4,66.6 L280.0,66.0 L279.5,65.3 L279.0,64.8 L278.5,64.3 L278.0,63.8 L277.5,63.5 L276.7,63.1 L276.0,62.8 L275.4,62.6 L274.5,62.4 L273.5,62.2 L272.6,62.1 L272.0,62.0 L271.0,61.9 L270.0,61.8 L269.0,61.7 L268.0,61.6 L267.5,61.6 L266.5,61.4 L265.5,61.2 L264.8,61.1 L264.0,60.9 L263.0,60.7 L262.5,60.5 L261.5,60.2 L261.0,60.0 L260.0,59.7 L259.5,59.4 L258.7,59.1 L258.0,58.7 L257.5,58.4 L256.9,58.1 L256.2,57.6 L255.5,57.1 L255.0,56.7 L254.5,56.2 L254.0,55.6 L253.6,55.1 L253.3,54.6 L253.0,53.9 L252.8,53.1 L252.8,52.1 L253.0,51.4 L253.5,50.6 L254.0,50.1 L254.5,49.7 L255.0,49.4 L255.5,49.1 L256.5,48.7 L257.0,48.5 L258.0,48.3 L259.0,48.1 L259.5,48.1 L260.5,48.0 L261.5,48.0 L262.5,48.0 L263.5,48.0 L264.2,48.1 L265.0,48.2 L266.0,48.3 L267.0,48.4 L268.0,48.6 L268.5,48.7 L269.5,48.8 L270.5,49.0 L271.5,49.1 L272.0,49.1 L273.0,49.2 L274.0,49.3 L275.0,49.3 L276.0,49.3 L277.0,49.3 L278.0,49.3 L279.0,49.4 L280.0,49.4 L281.0,49.6 L281.5,49.7 L282.5,50.0 L283.0,50.1 L284.0,50.5 L284.5,50.8 L285.0,51.1 L285.6,51.6 L286.2,52.1 L286.6,52.6 L287.0,53.1 L287.5,54.1 L287.6,54.6 L287.7,55.6 L287.7,56.6 L287.7,57.6 L287.6,58.6 L287.5,59.6 L287.6,60.6 L287.7,61.6 L288.0,62.6 L288.1,63.1 L288.3,64.1 L288.5,64.7 L288.7,65.6 L288.8,66.6 L288.8,67.6 L288.7,68.6 L288.5,69.4 L288.1,70.1 L287.7,70.6 L287.0,71.1 L286.5,71.2Z"/><path d="M285.5,68.2 L284.8,68.1 L284.0,67.7 L283.5,67.3 L283.0,66.7 L282.5,66.1 L282.1,65.6 L281.8,65.1 L281.4,64.6 L281.0,64.1 L280.5,63.6 L279.9,63.1 L279.1,62.6 L278.5,62.3 L278.0,62.1 L277.0,61.8 L276.0,61.6 L275.5,61.5 L274.5,61.4 L273.5,61.4 L272.5,61.3 L271.5,61.3 L270.5,61.2 L269.5,61.2 L268.5,61.1 L268.0,61.1 L267.0,60.9 L266.0,60.8 L265.0,60.6 L264.5,60.5 L263.5,60.3 L262.8,60.1 L262.0,59.9 L261.2,59.6 L260.5,59.3 L259.9,59.1 L259.0,58.7 L258.5,58.4 L257.9,58.1 L257.1,57.6 L256.5,57.2 L256.0,56.8 L255.5,56.3 L255.0,55.8 L254.5,55.2 L254.1,54.6 L253.9,54.1 L253.6,53.1 L253.7,52.1 L254.0,51.4 L254.5,50.7 L255.0,50.2 L255.5,49.9 L256.0,49.6 L257.0,49.2 L257.5,49.0 L258.5,48.8 L259.5,48.6 L260.0,48.6 L261.0,48.5 L262.0,48.5 L263.0,48.5 L264.0,48.6 L264.5,48.6 L265.5,48.7 L266.5,48.9 L267.5,49.0 L268.0,49.1 L269.0,49.3 L270.0,49.5 L270.8,49.6 L271.5,49.7 L272.5,49.9 L273.5,50.0 L274.5,50.1 L275.0,50.1 L276.0,50.2 L277.0,50.2 L278.0,50.2 L279.0,50.3 L280.0,50.3 L281.0,50.5 L281.5,50.6 L282.5,50.9 L283.0,51.1 L283.9,51.6 L284.5,52.0 L285.0,52.5 L285.5,53.1 L285.8,53.6 L286.1,54.1 L286.3,55.1 L286.3,56.1 L286.1,57.1 L286.0,57.8 L285.8,58.6 L285.7,59.6 L285.7,60.6 L285.7,61.6 L285.9,62.6 L286.0,63.1 L286.3,64.1 L286.5,65.1 L286.6,65.6 L286.6,66.6 L286.5,67.1 L286.0,67.9 L285.5,68.2Z"/><path d="M271.0,60.6 L270.0,60.6 L269.5,60.6 L268.5,60.5 L267.5,60.5 L266.5,60.4 L265.5,60.2 L264.9,60.1 L264.0,59.9 L263.0,59.7 L262.5,59.5 L261.5,59.2 L261.0,59.0 L260.0,58.6 L259.5,58.4 L259.0,58.1 L258.1,57.6 L257.5,57.2 L257.0,56.8 L256.5,56.4 L256.0,56.0 L255.5,55.4 L255.0,54.7 L254.7,54.1 L254.5,53.1 L254.6,52.1 L255.0,51.4 L255.5,50.8 L256.0,50.4 L256.5,50.1 L257.5,49.6 L258.0,49.5 L259.0,49.2 L259.8,49.1 L260.5,49.0 L261.5,49.0 L262.5,49.0 L263.5,49.0 L264.5,49.1 L265.0,49.1 L266.0,49.3 L267.0,49.4 L267.8,49.6 L268.5,49.7 L269.5,49.9 L270.3,50.1 L271.0,50.3 L272.0,50.5 L272.7,50.6 L273.5,50.7 L274.5,50.9 L275.5,51.0 L276.3,51.1 L277.0,51.2 L278.0,51.2 L279.0,51.3 L280.0,51.4 L280.9,51.6 L281.5,51.8 L282.3,52.1 L283.0,52.5 L283.5,53.0 L284.0,53.5 L284.3,54.1 L284.5,55.1 L284.4,56.1 L284.0,57.1 L283.8,57.6 L283.5,58.2 L283.0,59.0 L282.5,59.6 L282.0,60.0 L281.5,60.3 L280.5,60.4 L279.5,60.4 L278.5,60.4 L277.5,60.4 L276.5,60.4 L275.5,60.4 L274.5,60.5 L273.5,60.5 L272.5,60.6 L271.5,60.6 L271.0,60.6Z"/><path d="M273.5,59.7 L272.5,59.8 L271.5,59.9 L270.5,60.0 L269.5,60.0 L268.5,60.0 L267.5,59.9 L266.5,59.9 L265.5,59.7 L264.8,59.6 L264.0,59.4 L263.0,59.2 L262.5,59.0 L261.5,58.7 L261.0,58.5 L260.1,58.1 L259.5,57.8 L259.0,57.5 L258.3,57.1 L257.6,56.6 L257.0,56.1 L256.5,55.6 L256.1,55.1 L255.8,54.6 L255.5,53.9 L255.4,53.1 L255.5,52.3 L255.8,51.6 L256.3,51.1 L257.0,50.6 L257.5,50.3 L258.0,50.1 L259.0,49.8 L260.0,49.6 L260.5,49.5 L261.5,49.5 L262.5,49.4 L263.5,49.5 L264.5,49.6 L265.0,49.6 L266.0,49.8 L267.0,49.9 L267.8,50.1 L268.5,50.3 L269.5,50.5 L270.0,50.6 L271.0,50.9 L271.9,51.1 L272.5,51.3 L273.5,51.5 L274.0,51.7 L275.0,51.9 L275.8,52.1 L276.5,52.3 L277.5,52.5 L278.2,52.6 L279.0,52.8 L280.0,53.1 L280.5,53.4 L281.0,53.7 L281.5,54.4 L281.6,55.1 L281.5,55.6 L281.0,56.4 L280.5,57.0 L280.0,57.4 L279.5,57.8 L278.9,58.1 L278.0,58.5 L277.5,58.7 L276.5,59.0 L276.0,59.2 L275.0,59.4 L274.0,59.6 L273.5,59.7Z"/><path d="M272.0,59.1 L271.0,59.3 L270.0,59.4 L269.0,59.4 L268.0,59.4 L267.0,59.4 L266.0,59.3 L265.0,59.1 L264.5,59.1 L263.5,58.8 L262.7,58.6 L262.0,58.4 L261.3,58.1 L260.5,57.8 L260.0,57.5 L259.3,57.1 L258.5,56.6 L258.0,56.2 L257.5,55.7 L257.0,55.2 L256.6,54.6 L256.4,54.1 L256.2,53.1 L256.5,52.1 L256.9,51.6 L257.5,51.1 L258.0,50.8 L258.5,50.6 L259.5,50.2 L260.2,50.1 L261.0,50.0 L262.0,49.9 L263.0,49.9 L264.0,50.0 L265.0,50.1 L265.5,50.2 L266.5,50.3 L267.5,50.5 L268.0,50.7 L269.0,50.9 L269.6,51.1 L270.5,51.4 L271.2,51.6 L272.0,51.9 L272.6,52.1 L273.5,52.4 L274.0,52.6 L275.0,53.1 L275.5,53.4 L276.0,53.7 L276.6,54.1 L277.1,54.6 L277.3,55.6 L277.0,56.4 L276.5,57.1 L276.0,57.5 L275.5,57.8 L275.0,58.1 L274.0,58.6 L273.5,58.7 L272.5,59.0 L272.0,59.1Z"/><path d="M270.5,58.7 L269.5,58.8 L268.5,58.9 L267.5,58.9 L266.5,58.8 L265.5,58.7 L264.7,58.6 L264.0,58.5 L263.0,58.2 L262.5,58.0 L261.5,57.7 L261.0,57.4 L260.3,57.1 L259.5,56.6 L259.0,56.3 L258.5,55.8 L258.0,55.3 L257.5,54.6 L257.2,54.1 L257.1,53.1 L257.5,52.2 L258.0,51.7 L258.5,51.3 L259.0,51.1 L260.0,50.7 L260.5,50.6 L261.5,50.5 L262.5,50.4 L263.5,50.4 L264.5,50.5 L265.1,50.6 L266.0,50.7 L267.0,51.0 L267.6,51.1 L268.5,51.4 L269.3,51.6 L270.0,51.9 L270.7,52.1 L271.5,52.5 L272.0,52.7 L272.7,53.1 L273.5,53.6 L274.0,54.0 L274.5,54.6 L274.7,55.1 L274.7,56.1 L274.5,56.6 L274.0,57.2 L273.4,57.6 L272.5,58.1 L272.0,58.3 L271.0,58.6 L270.5,58.7Z"/><path d="M269.5,58.1 L268.5,58.3 L267.5,58.3 L266.5,58.3 L265.5,58.2 L264.8,58.1 L264.0,57.9 L263.0,57.7 L262.5,57.5 L261.5,57.1 L261.0,56.8 L260.5,56.6 L259.8,56.1 L259.2,55.6 L258.7,55.1 L258.4,54.6 L258.1,53.6 L258.3,52.6 L258.7,52.1 L259.5,51.6 L260.0,51.4 L261.0,51.1 L261.5,51.0 L262.5,51.0 L263.5,51.0 L264.5,51.0 L265.0,51.1 L266.0,51.3 L267.0,51.5 L267.5,51.6 L268.5,52.0 L269.0,52.1 L270.0,52.6 L270.5,52.8 L271.0,53.1 L271.8,53.6 L272.3,54.1 L272.7,54.6 L273.0,55.6 L272.6,56.6 L272.1,57.1 L271.5,57.5 L271.0,57.7 L270.0,58.0 L269.5,58.1Z"/><path d="M268.0,57.6 L267.0,57.7 L266.0,57.7 L265.2,57.6 L264.5,57.5 L263.5,57.2 L263.0,57.1 L262.0,56.7 L261.5,56.4 L260.9,56.1 L260.2,55.6 L259.7,55.1 L259.4,54.6 L259.1,53.6 L259.5,52.7 L260.0,52.3 L260.5,52.0 L261.5,51.7 L262.0,51.6 L263.0,51.5 L264.0,51.5 L264.6,51.6 L265.5,51.7 L266.5,52.0 L267.0,52.1 L268.0,52.4 L268.5,52.6 L269.4,53.1 L270.0,53.5 L270.5,53.9 L271.0,54.4 L271.3,55.1 L271.2,56.1 L270.8,56.6 L270.0,57.1 L269.5,57.3 L268.5,57.6 L268.0,57.6Z"/><path d="M268.5,56.7 L267.5,56.9 L266.5,57.0 L265.5,57.0 L264.5,56.8 L263.5,56.6 L263.0,56.4 L262.3,56.1 L261.5,55.6 L261.0,55.2 L260.5,54.6 L260.3,54.1 L260.5,53.2 L261.0,52.8 L261.5,52.5 L262.5,52.2 L263.5,52.2 L264.5,52.2 L265.5,52.4 L266.4,52.6 L267.0,52.8 L267.7,53.1 L268.5,53.5 L269.0,53.9 L269.5,54.5 L269.8,55.1 L269.5,56.0 L269.0,56.4 L268.5,56.7Z"/><path d="M266.0,56.1 L265.0,56.1 L264.5,56.0 L263.5,55.7 L263.0,55.5 L262.5,55.1 L262.0,54.6 L262.0,53.8 L262.5,53.3 L263.1,53.1 L264.0,53.0 L264.9,53.1 L265.5,53.2 L266.5,53.6 L267.0,53.9 L267.5,54.3 L267.9,55.1 L267.5,55.7 L266.5,56.1 L266.0,56.1Z"/></g><path fill="#555" opacity="0.55" d="M414.9 50.3h.75v.75h-.75zM417.4 65.5h.75v.75h-.75zM424.5 66.4h.75v.75h-.75zM412.9 54.4h.75v.75h-.75zM427.5 68.8h.75v.75h-.75zM416.3 55.7h.75v.75h-.75zM428.0 40.2h.75v.75h-.75zM460.6 50.0h.75v.75h-.75zM436.6 39.2h.75v.75h-.75zM421.2 63.3h.75v.75h-.75zM414.3 65.1h.75v.75h-.75zM420.5 43.3h.75v.75h-.75zM471.7 73.8h.75v.75h-.75zM407.8 42.3h.75v.75h-.75zM426.6 69.5h.75v.75h-.75zM418.2 50.8h.75v.75h-.75zM408.0 43.7h.75v.75h-.75zM419.7 65.2h.75v.75h-.75zM428.3 36.4h.75v.75h-.75zM411.6 57.8h.75v.75h-.75zM416.9 51.0h.75v.75h-.75zM418.1 51.4h.75v.75h-.75zM425.5 77.3h.75v.75h-.75zM412.9 60.0h.75v.75h-.75zM413.9 57.4h.75v.75h-.75zM404.8 46.1h.75v.75h-.75zM425.8 42.4h.75v.75h-.75zM414.5 63.2h.75v.75h-.75zM421.2 66.5h.75v.75h-.75zM406.7 52.3h.75v.75h-.75zM417.8 49.0h.75v.75h-.75zM411.9 59.4h.75v.75h-.75zM420.1 40.9h.75v.75h-.75zM406.6 54.8h.75v.75h-.75zM415.6 51.7h.75v.75h-.75zM462.3 51.6h.75v.75h-.75zM437.2 40.4h.75v.75h-.75zM420.7 73.6h.75v.75h-.75zM415.7 48.3h.75v.75h-.75zM419.4 47.0h.75v.75h-.75zM421.7 41.7h.75v.75h-.75zM412.9 50.5h.75v.75h-.75zM433.4 78.7h.75v.75h-.75zM471.8 69.1h.75v.75h-.75zM456.7 106.7h.75v.75h-.75zM442.2 32.9h.75v.75h-.75zM434.8 88.6h.75v.75h-.75zM455.7 95.4h.75v.75h-.75zM477.1 92.2h.75v.75h-.75zM466.2 57.3h.75v.75h-.75zM478.9 64.7h.75v.75h-.75zM470.1 66.1h.75v.75h-.75zM474.8 67.4h.75v.75h-.75zM453.1 42.3h.75v.75h-.75zM452.0 34.9h.75v.75h-.75zM476.1 76.5h.75v.75h-.75zM446.3 100.6h.75v.75h-.75zM453.8 41.8h.75v.75h-.75zM472.6 98.5h.75v.75h-.75zM454.6 98.8h.75v.75h-.75zM464.1 48.3h.75v.75h-.75zM437.2 38.0h.75v.75h-.75zM453.7 105.1h.75v.75h-.75zM450.4 38.3h.75v.75h-.75zM449.1 39.6h.75v.75h-.75zM473.9 75.2h.75v.75h-.75zM449.0 33.4h.75v.75h-.75zM470.0 70.0h.75v.75h-.75zM473.4 67.7h.75v.75h-.75zM461.0 96.1h.75v.75h-.75zM476.6 93.3h.75v.75h-.75zM451.4 91.7h.75v.75h-.75zM454.5 99.6h.75v.75h-.75zM433.8 38.5h.75v.75h-.75zM475.4 88.3h.75v.75h-.75zM437.3 79.8h.75v.75h-.75zM465.6 57.2h.75v.75h-.75zM465.9 52.7h.75v.75h-.75zM466.6 105.6h.75v.75h-.75zM470.2 65.9h.75v.75h-.75zM459.6 35.2h.75v.75h-.75zM437.4 35.0h.75v.75h-.75zM435.7 39.0h.75v.75h-.75zM469.1 43.2h.75v.75h-.75zM456.5 33.1h.75v.75h-.75zM427.6 37.8h.75v.75h-.75zM472.4 66.9h.75v.75h-.75zM465.8 94.8h.75v.75h-.75zM449.9 98.4h.75v.75h-.75zM470.7 93.1h.75v.75h-.75zM461.1 96.0h.75v.75h-.75zM453.9 97.0h.75v.75h-.75zM437.7 40.0h.75v.75h-.75zM456.2 98.1h.75v.75h-.75zM468.9 66.9h.75v.75h-.75zM428.8 40.3h.75v.75h-.75zM441.5 86.4h.75v.75h-.75zM460.0 97.1h.75v.75h-.75zM436.4 81.6h.75v.75h-.75zM478.9 84.5h.75v.75h-.75zM463.5 99.3h.75v.75h-.75zM476.7 77.2h.75v.75h-.75zM438.5 33.6h.75v.75h-.75zM453.7 100.4h.75v.75h-.75zM428.9 42.6h.75v.75h-.75zM438.4 27.9h.75v.75h-.75zM477.0 92.6h.75v.75h-.75zM472.3 57.5h.75v.75h-.75zM471.9 99.7h.75v.75h-.75zM472.9 98.4h.75v.75h-.75zM468.3 93.8h.75v.75h-.75zM463.0 39.9h.75v.75h-.75zM471.4 100.5h.75v.75h-.75zM455.9 109.8h.75v.75h-.75zM428.5 74.1h.75v.75h-.75zM470.3 101.5h.75v.75h-.75zM472.9 83.9h.75v.75h-.75zM481.1 79.5h.75v.75h-.75zM458.0 41.2h.75v.75h-.75zM478.6 64.1h.75v.75h-.75zM474.7 112.3h.75v.75h-.75zM450.0 94.6h.75v.75h-.75zM451.7 41.7h.75v.75h-.75zM457.7 44.5h.75v.75h-.75zM440.4 36.0h.75v.75h-.75zM444.0 85.0h.75v.75h-.75zM472.7 97.1h.75v.75h-.75zM472.4 79.3h.75v.75h-.75zM430.5 25.4h.75v.75h-.75zM441.1 84.6h.75v.75h-.75zM439.7 85.0h.75v.75h-.75zM445.8 95.1h.75v.75h-.75zM454.5 44.4h.75v.75h-.75zM456.4 96.2h.75v.75h-.75zM438.3 83.0h.75v.75h-.75zM471.3 78.7h.75v.75h-.75zM451.0 105.5h.75v.75h-.75zM435.5 42.5h.75v.75h-.75zM450.2 29.7h.75v.75h-.75zM468.2 102.5h.75v.75h-.75zM460.9 48.8h.75v.75h-.75zM446.8 34.9h.75v.75h-.75zM472.7 72.1h.75v.75h-.75zM455.8 98.7h.75v.75h-.75zM482.6 86.8h.75v.75h-.75zM469.2 93.3h.75v.75h-.75zM432.7 75.4h.75v.75h-.75zM460.8 94.9h.75v.75h-.75zM450.3 40.4h.75v.75h-.75zM437.0 40.0h.75v.75h-.75zM448.4 98.1h.75v.75h-.75zM462.4 100.9h.75v.75h-.75zM455.1 98.3h.75v.75h-.75zM488.9 73.5h.75v.75h-.75zM470.7 61.9h.75v.75h-.75zM452.1 92.5h.75v.75h-.75zM466.1 108.9h.75v.75h-.75zM462.9 110.0h.75v.75h-.75zM462.5 49.6h.75v.75h-.75zM474.5 82.4h.75v.75h-.75zM458.5 47.6h.75v.75h-.75zM444.2 91.0h.75v.75h-.75zM455.2 102.8h.75v.75h-.75zM462.5 49.2h.75v.75h-.75zM457.5 94.9h.75v.75h-.75zM446.1 33.3h.75v.75h-.75zM424.8 37.5h.75v.75h-.75zM474.5 115.0h.75v.75h-.75zM464.1 94.5h.75v.75h-.75zM449.7 34.4h.75v.75h-.75zM466.8 102.2h.75v.75h-.75zM461.9 33.0h.75v.75h-.75zM454.4 94.9h.75v.75h-.75zM449.1 23.2h.75v.75h-.75zM461.6 46.1h.75v.75h-.75zM467.1 102.3h.75v.75h-.75zM469.7 61.8h.75v.75h-.75zM474.9 95.3h.75v.75h-.75zM469.3 64.7h.75v.75h-.75zM458.5 47.0h.75v.75h-.75zM431.0 43.2h.75v.75h-.75zM447.0 121.3h.75v.75h-.75zM466.7 97.4h.75v.75h-.75zM467.8 97.1h.75v.75h-.75zM472.1 66.5h.75v.75h-.75zM472.3 81.3h.75v.75h-.75zM467.8 94.5h.75v.75h-.75zM420.2 42.2h.75v.75h-.75zM467.8 57.6h.75v.75h-.75zM443.4 28.0h.75v.75h-.75zM484.8 82.0h.75v.75h-.75zM475.7 90.4h.75v.75h-.75zM447.6 36.1h.75v.75h-.75zM469.3 59.9h.75v.75h-.75zM468.9 91.6h.75v.75h-.75zM440.4 89.3h.75v.75h-.75zM473.5 99.1h.75v.75h-.75zM472.3 113.7h.75v.75h-.75zM476.3 108.2h.75v.75h-.75zM463.4 102.9h.75v.75h-.75zM431.3 42.5h.75v.75h-.75zM469.6 64.0h.75v.75h-.75zM474.6 110.0h.75v.75h-.75zM436.9 84.2h.75v.75h-.75zM433.0 23.0h.75v.75h-.75zM445.7 91.1h.75v.75h-.75zM425.8 68.3h.75v.75h-.75zM471.5 71.7h.75v.75h-.75zM466.4 54.5h.75v.75h-.75zM467.2 98.2h.75v.75h-.75zM472.1 59.1h.75v.75h-.75zM471.4 67.6h.75v.75h-.75zM473.7 103.2h.75v.75h-.75zM459.8 42.6h.75v.75h-.75zM427.9 68.7h.75v.75h-.75zM464.9 53.8h.75v.75h-.75zM477.0 68.2h.75v.75h-.75zM437.1 41.3h.75v.75h-.75zM473.8 103.2h.75v.75h-.75zM479.5 46.9h.75v.75h-.75zM481.9 77.2h.75v.75h-.75zM467.3 58.3h.75v.75h-.75zM453.6 42.9h.75v.75h-.75zM476.7 71.1h.75v.75h-.75zM427.4 24.4h.75v.75h-.75zM438.4 83.3h.75v.75h-.75zM451.4 92.1h.75v.75h-.75zM478.6 75.3h.75v.75h-.75zM471.3 73.5h.75v.75h-.75zM468.9 93.4h.75v.75h-.75zM445.6 95.5h.75v.75h-.75zM460.6 96.5h.75v.75h-.75zM465.9 94.4h.75v.75h-.75zM428.9 37.2h.75v.75h-.75zM458.2 47.3h.75v.75h-.75zM481.9 70.2h.75v.75h-.75zM442.8 32.8h.75v.75h-.75zM479.7 73.5h.75v.75h-.75zM475.3 88.6h.75v.75h-.75zM481.2 64.3h.75v.75h-.75zM424.9 68.3h.75v.75h-.75zM464.7 48.7h.75v.75h-.75zM472.9 75.8h.75v.75h-.75zM465.4 95.8h.75v.75h-.75zM470.0 70.0h.75v.75h-.75zM466.7 49.9h.75v.75h-.75zM463.6 101.9h.75v.75h-.75zM445.2 38.7h.75v.75h-.75zM452.9 94.1h.75v.75h-.75zM454.8 35.9h.75v.75h-.75zM458.3 41.7h.75v.75h-.75zM472.6 79.4h.75v.75h-.75zM472.4 80.8h.75v.75h-.75zM472.2 82.9h.75v.75h-.75zM451.3 36.0h.75v.75h-.75zM451.3 93.2h.75v.75h-.75zM456.0 45.3h.75v.75h-.75zM438.4 37.0h.75v.75h-.75zM437.6 40.4h.75v.75h-.75zM466.3 54.0h.75v.75h-.75zM446.5 36.9h.75v.75h-.75zM432.0 38.6h.75v.75h-.75zM449.3 42.0h.75v.75h-.75zM468.4 65.4h.75v.75h-.75zM460.9 47.9h.75v.75h-.75zM435.9 39.9h.75v.75h-.75zM420.9 68.7h.75v.75h-.75zM432.1 36.4h.75v.75h-.75zM404.5 49.7h.75v.75h-.75zM430.1 93.7h.75v.75h-.75zM433.1 73.7h.75v.75h-.75zM392.5 34.8h.75v.75h-.75zM410.8 53.6h.75v.75h-.75zM422.5 64.9h.75v.75h-.75zM409.5 54.0h.75v.75h-.75zM427.9 35.0h.75v.75h-.75zM417.0 51.1h.75v.75h-.75zM418.0 64.2h.75v.75h-.75zM432.5 93.0h.75v.75h-.75zM463.5 47.9h.75v.75h-.75zM419.0 78.8h.75v.75h-.75zM428.2 38.5h.75v.75h-.75zM411.8 78.2h.75v.75h-.75zM465.4 55.9h.75v.75h-.75zM433.0 43.3h.75v.75h-.75zM434.0 78.0h.75v.75h-.75zM446.5 101.6h.75v.75h-.75zM475.3 89.0h.75v.75h-.75zM432.3 40.2h.75v.75h-.75zM418.3 66.9h.75v.75h-.75zM472.9 98.6h.75v.75h-.75zM412.7 31.3h.75v.75h-.75zM426.3 42.9h.75v.75h-.75zM423.1 39.0h.75v.75h-.75zM405.7 48.3h.75v.75h-.75zM409.8 70.7h.75v.75h-.75zM431.7 79.9h.75v.75h-.75zM428.3 40.5h.75v.75h-.75zM408.8 58.6h.75v.75h-.75zM456.2 45.4h.75v.75h-.75zM429.4 40.6h.75v.75h-.75zM433.8 37.2h.75v.75h-.75zM422.1 42.9h.75v.75h-.75zM409.7 45.8h.75v.75h-.75zM416.0 46.0h.75v.75h-.75zM432.6 76.5h.75v.75h-.75zM466.7 60.0h.75v.75h-.75zM443.8 35.9h.75v.75h-.75zM463.3 47.2h.75v.75h-.75zM430.5 41.1h.75v.75h-.75zM408.2 49.4h.75v.75h-.75zM418.1 77.6h.75v.75h-.75zM409.8 69.0h.75v.75h-.75zM423.5 45.7h.75v.75h-.75zM398.3 65.8h.75v.75h-.75zM396.2 83.8h.75v.75h-.75zM413.4 61.6h.75v.75h-.75zM414.9 68.4h.75v.75h-.75zM425.3 39.0h.75v.75h-.75zM447.3 39.6h.75v.75h-.75zM433.0 32.8h.75v.75h-.75zM409.2 44.7h.75v.75h-.75zM418.7 44.3h.75v.75h-.75zM406.5 48.5h.75v.75h-.75zM422.4 72.9h.75v.75h-.75zM440.0 39.8h.75v.75h-.75zM416.8 74.6h.75v.75h-.75zM427.3 42.7h.75v.75h-.75zM410.8 59.0h.75v.75h-.75zM456.8 43.7h.75v.75h-.75zM467.7 56.9h.75v.75h-.75zM430.0 35.2h.75v.75h-.75zM477.8 57.7h.75v.75h-.75zM476.0 62.1h.75v.75h-.75zM450.6 41.5h.75v.75h-.75zM416.3 78.0h.75v.75h-.75zM421.7 67.2h.75v.75h-.75zM412.1 59.6h.75v.75h-.75zM407.6 55.4h.75v.75h-.75zM408.7 52.4h.75v.75h-.75zM417.8 62.9h.75v.75h-.75zM411.6 51.5h.75v.75h-.75zM388.4 43.8h.75v.75h-.75zM446.6 39.5h.75v.75h-.75zM418.7 66.9h.75v.75h-.75zM394.2 55.8h.75v.75h-.75zM402.3 81.0h.75v.75h-.75zM453.2 33.7h.75v.75h-.75zM402.2 44.9h.75v.75h-.75zM411.8 77.3h.75v.75h-.75zM416.3 57.4h.75v.75h-.75zM449.3 34.2h.75v.75h-.75zM433.1 35.4h.75v.75h-.75zM423.6 38.6h.75v.75h-.75zM408.3 69.3h.75v.75h-.75zM435.1 42.1h.75v.75h-.75zM467.4 46.3h.75v.75h-.75zM412.7 68.2h.75v.75h-.75zM460.1 41.4h.75v.75h-.75zM462.4 49.4h.75v.75h-.75zM474.7 85.1h.75v.75h-.75zM448.5 32.0h.75v.75h-.75zM473.9 106.9h.75v.75h-.75zM428.8 88.1h.75v.75h-.75zM477.3 93.4h.75v.75h-.75zM441.6 94.3h.75v.75h-.75zM420.3 39.4h.75v.75h-.75zM442.4 37.2h.75v.75h-.75zM454.1 111.4h.75v.75h-.75zM438.7 31.2h.75v.75h-.75zM458.1 29.9h.75v.75h-.75zM436.9 35.2h.75v.75h-.75zM421.1 43.6h.75v.75h-.75zM437.7 84.1h.75v.75h-.75zM473.7 74.2h.75v.75h-.75zM426.2 88.7h.75v.75h-.75zM464.2 53.4h.75v.75h-.75zM442.5 34.9h.75v.75h-.75zM474.9 69.2h.75v.75h-.75zM439.1 41.2h.75v.75h-.75zM453.3 112.6h.75v.75h-.75zM427.7 39.3h.75v.75h-.75zM448.5 106.5h.75v.75h-.75zM477.8 87.8h.75v.75h-.75zM478.5 51.7h.75v.75h-.75zM461.2 116.6h.75v.75h-.75zM473.1 77.8h.75v.75h-.75zM448.9 30.7h.75v.75h-.75zM476.1 99.8h.75v.75h-.75zM435.1 36.0h.75v.75h-.75zM470.8 58.9h.75v.75h-.75zM412.7 74.1h.75v.75h-.75zM445.9 101.9h.75v.75h-.75zM477.9 101.3h.75v.75h-.75zM476.8 72.0h.75v.75h-.75zM473.9 80.8h.75v.75h-.75zM435.0 84.0h.75v.75h-.75zM417.0 32.3h.75v.75h-.75zM433.4 84.4h.75v.75h-.75zM474.6 101.5h.75v.75h-.75zM423.7 33.7h.75v.75h-.75zM482.6 87.4h.75v.75h-.75zM471.4 92.8h.75v.75h-.75zM473.3 92.1h.75v.75h-.75zM434.6 40.6h.75v.75h-.75zM456.5 39.0h.75v.75h-.75zM431.8 40.2h.75v.75h-.75zM476.2 107.0h.75v.75h-.75zM481.7 25.3h.75v.75h-.75zM472.6 70.9h.75v.75h-.75zM460.5 100.2h.75v.75h-.75zM469.4 95.5h.75v.75h-.75zM461.2 98.6h.75v.75h-.75zM465.8 56.3h.75v.75h-.75zM438.0 82.8h.75v.75h-.75zM474.2 79.1h.75v.75h-.75zM444.6 39.3h.75v.75h-.75zM475.2 72.2h.75v.75h-.75zM437.6 96.0h.75v.75h-.75zM468.3 55.2h.75v.75h-.75zM459.4 45.0h.75v.75h-.75zM437.0 90.5h.75v.75h-.75zM459.0 34.4h.75v.75h-.75zM455.6 42.1h.75v.75h-.75zM464.3 42.8h.75v.75h-.75zM476.4 73.3h.75v.75h-.75zM474.9 67.2h.75v.75h-.75zM450.9 34.9h.75v.75h-.75zM460.9 29.6h.75v.75h-.75zM479.1 122.3h.75v.75h-.75zM477.8 35.9h.75v.75h-.75zM463.3 44.3h.75v.75h-.75zM469.6 88.8h.75v.75h-.75zM428.2 32.0h.75v.75h-.75zM464.5 107.5h.75v.75h-.75zM466.7 57.5h.75v.75h-.75zM469.5 94.0h.75v.75h-.75zM486.5 112.7h.75v.75h-.75zM427.5 22.8h.75v.75h-.75zM466.3 114.8h.75v.75h-.75zM467.6 33.7h.75v.75h-.75zM484.5 107.5h.75v.75h-.75zM445.1 32.7h.75v.75h-.75zM475.8 100.2h.75v.75h-.75zM475.9 63.3h.75v.75h-.75zM445.7 93.0h.75v.75h-.75zM437.5 29.8h.75v.75h-.75zM469.7 68.3h.75v.75h-.75zM489.7 107.7h.75v.75h-.75zM424.0 41.6h.75v.75h-.75zM475.4 83.9h.75v.75h-.75zM475.5 92.7h.75v.75h-.75zM476.7 74.3h.75v.75h-.75zM473.1 89.7h.75v.75h-.75zM431.2 21.9h.75v.75h-.75zM453.2 29.2h.75v.75h-.75zM484.3 100.1h.75v.75h-.75zM477.1 59.3h.75v.75h-.75zM430.4 37.6h.75v.75h-.75zM453.4 100.2h.75v.75h-.75zM417.6 35.5h.75v.75h-.75zM482.0 103.4h.75v.75h-.75zM476.5 102.3h.75v.75h-.75zM468.8 40.1h.75v.75h-.75zM472.4 77.7h.75v.75h-.75zM432.1 41.9h.75v.75h-.75zM459.3 24.4h.75v.75h-.75zM464.0 36.3h.75v.75h-.75zM484.0 58.5h.75v.75h-.75zM452.2 100.9h.75v.75h-.75zM447.6 94.8h.75v.75h-.75zM461.1 35.5h.75v.75h-.75zM467.7 52.7h.75v.75h-.75zM475.2 37.8h.75v.75h-.75zM442.0 99.0h.75v.75h-.75zM449.0 109.1h.75v.75h-.75zM456.8 97.1h.75v.75h-.75zM473.4 89.5h.75v.75h-.75zM440.8 107.3h.75v.75h-.75zM453.0 93.0h.75v.75h-.75zM485.7 44.2h.75v.75h-.75zM468.2 98.5h.75v.75h-.75zM455.7 110.9h.75v.75h-.75zM447.8 90.7h.75v.75h-.75zM417.8 38.1h.75v.75h-.75zM464.0 38.8h.75v.75h-.75zM471.4 102.8h.75v.75h-.75zM470.5 53.1h.75v.75h-.75zM452.2 95.4h.75v.75h-.75zM447.5 109.9h.75v.75h-.75zM434.8 102.5h.75v.75h-.75zM460.3 44.9h.75v.75h-.75zM438.4 33.9h.75v.75h-.75zM471.2 45.7h.75v.75h-.75zM421.2 35.9h.75v.75h-.75zM467.6 43.8h.75v.75h-.75zM445.4 25.6h.75v.75h-.75zM431.6 86.8h.75v.75h-.75zM446.4 115.0h.75v.75h-.75zM427.2 35.7h.75v.75h-.75zM421.6 25.2h.75v.75h-.75zM438.1 80.0h.75v.75h-.75zM483.4 56.1h.75v.75h-.75zM464.8 25.1h.75v.75h-.75zM467.0 58.1h.75v.75h-.75zM416.7 66.2h.75v.75h-.75zM407.4 49.0h.75v.75h-.75zM466.2 52.9h.75v.75h-.75zM483.2 98.2h.75v.75h-.75zM475.6 71.2h.75v.75h-.75zM463.2 94.6h.75v.75h-.75zM435.3 28.2h.75v.75h-.75zM435.4 35.0h.75v.75h-.75zM472.7 95.5h.75v.75h-.75zM470.6 38.7h.75v.75h-.75zM427.9 85.3h.75v.75h-.75zM449.3 96.1h.75v.75h-.75zM448.8 92.5h.75v.75h-.75zM467.4 32.6h.75v.75h-.75zM457.4 100.7h.75v.75h-.75zM417.1 42.6h.75v.75h-.75zM471.3 105.0h.75v.75h-.75zM461.4 46.3h.75v.75h-.75zM475.4 95.8h.75v.75h-.75zM418.2 42.2h.75v.75h-.75zM431.8 83.8h.75v.75h-.75zM468.6 55.6h.75v.75h-.75zM458.3 100.9h.75v.75h-.75zM458.9 94.7h.75v.75h-.75zM483.8 73.2h.75v.75h-.75zM445.6 21.7h.75v.75h-.75zM469.9 69.4h.75v.75h-.75zM462.1 25.1h.75v.75h-.75zM475.7 109.8h.75v.75h-.75zM452.8 42.1h.75v.75h-.75zM440.4 103.6h.75v.75h-.75zM419.6 23.4h.75v.75h-.75zM471.0 35.6h.75v.75h-.75zM445.3 40.1h.75v.75h-.75zM478.0 117.2h.75v.75h-.75zM436.2 100.0h.75v.75h-.75zM443.0 95.1h.75v.75h-.75zM413.0 64.9h.75v.75h-.75zM446.5 94.8h.75v.75h-.75zM427.1 32.4h.75v.75h-.75zM430.0 94.9h.75v.75h-.75zM426.6 36.7h.75v.75h-.75zM458.6 97.0h.75v.75h-.75zM449.0 41.2h.75v.75h-.75zM441.4 99.1h.75v.75h-.75zM473.8 28.6h.75v.75h-.75zM468.8 61.2h.75v.75h-.75zM423.5 70.5h.75v.75h-.75zM441.8 111.2h.75v.75h-.75zM431.8 41.4h.75v.75h-.75zM439.2 83.0h.75v.75h-.75zM432.7 35.8h.75v.75h-.75zM476.9 74.6h.75v.75h-.75zM449.4 26.8h.75v.75h-.75zM469.3 56.2h.75v.75h-.75zM479.6 62.6h.75v.75h-.75zM406.5 26.1h.75v.75h-.75zM467.7 47.4h.75v.75h-.75zM465.1 37.4h.75v.75h-.75zM426.4 40.5h.75v.75h-.75zM454.5 41.9h.75v.75h-.75zM428.7 73.3h.75v.75h-.75zM474.1 70.1h.75v.75h-.75zM468.8 54.3h.75v.75h-.75zM431.9 32.6h.75v.75h-.75zM400.0 40.9h.75v.75h-.75zM473.5 119.8h.75v.75h-.75zM437.9 111.4h.75v.75h-.75zM414.3 48.4h.75v.75h-.75zM417.2 42.2h.75v.75h-.75zM484.0 73.6h.75v.75h-.75zM433.1 36.8h.75v.75h-.75zM476.1 102.3h.75v.75h-.75zM421.1 30.9h.75v.75h-.75zM489.2 73.9h.75v.75h-.75zM477.4 69.7h.75v.75h-.75zM437.6 31.2h.75v.75h-.75zM437.0 82.0h.75v.75h-.75zM421.8 30.0h.75v.75h-.75zM445.5 21.8h.75v.75h-.75zM406.3 58.3h.75v.75h-.75zM490.1 63.8h.75v.75h-.75zM433.2 77.3h.75v.75h-.75zM466.3 95.5h.75v.75h-.75zM480.3 85.4h.75v.75h-.75zM414.5 74.2h.75v.75h-.75zM427.1 39.3h.75v.75h-.75zM450.6 94.5h.75v.75h-.75zM424.9 100.4h.75v.75h-.75zM456.2 45.0h.75v.75h-.75zM473.6 65.1h.75v.75h-.75zM436.1 28.1h.75v.75h-.75zM415.8 52.7h.75v.75h-.75zM482.8 97.1h.75v.75h-.75zM433.6 73.9h.75v.75h-.75zM476.8 58.1h.75v.75h-.75zM445.9 36.1h.75v.75h-.75zM425.6 26.9h.75v.75h-.75zM426.6 45.1h.75v.75h-.75zM394.5 60.2h.75v.75h-.75zM433.4 36.0h.75v.75h-.75zM483.9 87.9h.75v.75h-.75zM477.4 49.2h.75v.75h-.75zM430.1 87.0h.75v.75h-.75zM472.6 69.3h.75v.75h-.75zM429.4 32.4h.75v.75h-.75zM438.7 22.7h.75v.75h-.75zM442.6 88.6h.75v.75h-.75z"/><g fill="none" stroke="#111" stroke-width="0.7" style="filter:blur(0.35px)"><path d="M463.2,94.5 L462.2,94.7 L461.2,94.8 L460.2,94.8 L459.2,94.7 L458.2,94.6 L457.7,94.4 L456.7,94.1 L456.2,94.0 L455.2,93.6 L454.7,93.3 L454.0,93.0 L453.2,92.5 L452.7,92.3 L452.2,91.9 L451.5,91.5 L450.8,91.0 L450.2,90.5 L449.7,90.2 L449.2,89.8 L448.7,89.4 L448.2,88.9 L447.7,88.5 L447.1,88.0 L446.6,87.5 L446.1,87.0 L445.6,86.5 L445.1,86.0 L444.6,85.5 L444.1,85.0 L443.6,84.5 L443.1,84.0 L442.6,83.5 L442.2,83.0 L441.7,82.5 L441.2,82.0 L440.7,81.4 L440.2,80.9 L439.7,80.4 L439.2,79.8 L438.7,79.3 L438.2,78.8 L437.7,78.2 L437.2,77.7 L436.7,77.2 L436.2,76.6 L435.7,76.1 L435.2,75.6 L434.7,75.0 L434.2,74.5 L433.7,74.0 L433.2,73.5 L432.7,73.0 L432.2,72.5 L431.7,72.0 L431.2,71.5 L430.7,71.0 L430.2,70.6 L429.7,70.2 L429.2,69.8 L428.7,69.4 L428.2,69.0 L427.6,68.5 L426.9,68.0 L426.3,67.5 L425.7,67.1 L425.2,66.7 L424.7,66.3 L424.2,65.9 L423.7,65.5 L423.1,65.0 L422.5,64.5 L422.0,64.0 L421.5,63.5 L421.0,63.0 L420.5,62.5 L420.1,62.0 L419.7,61.5 L419.2,60.7 L418.7,60.0 L418.5,59.5 L418.2,58.9 L417.8,58.0 L417.7,57.5 L417.5,56.5 L417.4,55.5 L417.4,54.5 L417.5,53.5 L417.7,52.9 L418.0,52.0 L418.2,51.5 L418.7,50.7 L419.2,50.0 L419.6,49.5 L420.1,49.0 L420.6,48.5 L421.2,48.0 L421.7,47.6 L422.2,47.3 L422.7,47.0 L423.5,46.5 L424.2,46.2 L424.7,45.9 L425.7,45.5 L426.2,45.3 L427.2,45.0 L427.7,44.8 L428.7,44.5 L429.2,44.4 L430.2,44.1 L430.7,44.0 L431.7,43.6 L432.2,43.5 L433.2,43.2 L433.8,43.0 L434.7,42.7 L435.3,42.5 L436.2,42.2 L437.0,42.0 L437.7,41.8 L438.7,41.5 L439.2,41.4 L440.2,41.2 L441.2,41.1 L442.2,41.0 L443.2,41.0 L444.2,41.0 L445.2,41.1 L446.2,41.3 L447.2,41.5 L447.7,41.6 L448.7,41.9 L449.2,42.1 L450.2,42.4 L450.7,42.7 L451.4,43.0 L452.2,43.4 L452.7,43.7 L453.3,44.0 L454.1,44.5 L454.7,44.9 L455.2,45.3 L455.7,45.6 L456.2,46.0 L456.7,46.5 L457.3,47.0 L457.9,47.5 L458.4,48.0 L458.9,48.5 L459.3,49.0 L459.8,49.5 L460.2,50.0 L460.7,50.6 L461.2,51.2 L461.7,51.9 L462.1,52.5 L462.4,53.0 L462.7,53.5 L463.2,54.2 L463.6,55.0 L463.9,55.5 L464.2,56.0 L464.7,56.9 L465.0,57.5 L465.2,58.0 L465.7,59.0 L466.0,59.5 L466.2,60.0 L466.6,61.0 L466.9,61.5 L467.2,62.3 L467.5,63.0 L467.7,63.5 L468.1,64.5 L468.3,65.0 L468.6,66.0 L468.8,66.5 L469.1,67.5 L469.3,68.0 L469.6,69.0 L469.7,69.5 L470.0,70.5 L470.2,71.4 L470.4,72.0 L470.6,73.0 L470.7,73.9 L470.8,74.5 L470.9,75.5 L471.1,76.5 L471.1,77.5 L471.2,78.5 L471.2,79.1 L471.2,80.0 L471.2,80.5 L471.2,81.5 L471.1,82.5 L471.0,83.5 L470.8,84.5 L470.7,85.0 L470.5,86.0 L470.2,86.9 L470.0,87.5 L469.7,88.2 L469.4,89.0 L469.1,89.5 L468.7,90.2 L468.2,90.9 L467.8,91.5 L467.3,92.0 L466.8,92.5 L466.2,93.0 L465.7,93.4 L465.2,93.7 L464.6,94.0 L463.7,94.4 L463.2,94.5Z"/><path d="M461.2,91.1 L460.2,91.2 L459.2,91.2 L458.2,91.1 L457.4,91.0 L456.7,90.8 L455.7,90.5 L455.2,90.3 L454.5,90.0 L453.7,89.6 L453.2,89.3 L452.7,89.0 L451.9,88.5 L451.2,88.0 L450.7,87.7 L450.2,87.3 L449.7,86.9 L449.2,86.5 L448.6,86.0 L448.1,85.5 L447.5,85.0 L447.0,84.5 L446.5,84.0 L446.0,83.5 L445.5,83.0 L445.1,82.5 L444.6,82.0 L444.2,81.5 L443.7,81.0 L443.2,80.4 L442.7,79.8 L442.2,79.2 L441.7,78.6 L441.2,78.0 L440.8,77.5 L440.4,77.0 L440.0,76.5 L439.6,76.0 L439.2,75.5 L438.7,74.8 L438.2,74.2 L437.7,73.5 L437.3,73.0 L436.9,72.5 L436.5,72.0 L436.0,71.5 L435.6,71.0 L435.1,70.5 L434.6,70.0 L434.0,69.5 L433.4,69.0 L432.7,68.5 L432.2,68.2 L431.7,67.8 L431.2,67.5 L430.4,67.0 L429.7,66.6 L429.2,66.3 L428.7,66.0 L427.9,65.5 L427.2,65.0 L426.7,64.7 L426.2,64.3 L425.7,64.0 L425.1,63.5 L424.5,63.0 L424.0,62.5 L423.5,62.0 L423.0,61.5 L422.6,61.0 L422.2,60.5 L421.7,59.8 L421.2,59.0 L421.0,58.5 L420.7,57.7 L420.5,57.0 L420.4,56.0 L420.4,55.0 L420.5,54.0 L420.7,53.3 L421.0,52.5 L421.3,52.0 L421.7,51.4 L422.2,50.8 L422.7,50.2 L423.2,49.8 L423.7,49.4 L424.3,49.0 L425.1,48.5 L425.7,48.2 L426.2,47.9 L427.2,47.5 L427.7,47.3 L428.6,47.0 L429.2,46.8 L430.2,46.5 L430.7,46.4 L431.7,46.1 L432.2,46.0 L433.2,45.7 L433.8,45.5 L434.7,45.2 L435.5,45.0 L436.2,44.8 L437.1,44.5 L437.7,44.3 L438.7,44.1 L439.2,43.9 L440.2,43.7 L441.2,43.6 L442.1,43.5 L442.7,43.5 L443.7,43.4 L444.7,43.5 L445.2,43.5 L446.2,43.7 L447.2,43.9 L447.7,44.0 L448.7,44.3 L449.2,44.5 L450.2,44.9 L450.7,45.1 L451.5,45.5 L452.2,45.9 L452.7,46.2 L453.2,46.5 L454.0,47.0 L454.7,47.5 L455.2,47.9 L455.7,48.3 L456.2,48.8 L456.7,49.2 L457.2,49.7 L457.7,50.3 L458.2,50.8 L458.7,51.4 L459.2,52.0 L459.5,52.5 L459.9,53.0 L460.2,53.5 L460.7,54.2 L461.2,55.0 L461.5,55.5 L461.8,56.0 L462.2,56.8 L462.6,57.5 L462.9,58.0 L463.2,58.7 L463.6,59.5 L463.8,60.0 L464.2,60.8 L464.5,61.5 L464.7,62.0 L465.2,63.0 L465.4,63.5 L465.7,64.3 L466.0,65.0 L466.2,65.6 L466.5,66.5 L466.7,67.0 L467.0,68.0 L467.2,68.6 L467.5,69.5 L467.7,70.4 L467.9,71.0 L468.1,72.0 L468.2,72.7 L468.3,73.5 L468.5,74.5 L468.6,75.5 L468.7,76.5 L468.7,77.4 L468.7,78.0 L468.7,79.0 L468.7,79.5 L468.6,80.5 L468.5,81.5 L468.3,82.5 L468.2,83.1 L468.0,84.0 L467.7,84.8 L467.4,85.5 L467.2,86.1 L466.7,87.0 L466.4,87.5 L466.0,88.0 L465.6,88.5 L465.2,89.0 L464.6,89.5 L463.9,90.0 L463.2,90.4 L462.7,90.7 L461.7,91.0 L461.2,91.1Z"/><path d="M459.2,89.0 L458.6,89.0 L457.7,88.9 L456.7,88.7 L455.9,88.5 L455.2,88.3 L454.6,88.0 L453.7,87.6 L453.2,87.3 L452.7,87.0 L451.9,86.5 L451.2,86.0 L450.7,85.7 L450.2,85.3 L449.7,84.9 L449.2,84.4 L448.7,84.0 L448.2,83.5 L447.7,83.0 L447.2,82.5 L446.7,82.0 L446.2,81.5 L445.7,80.9 L445.2,80.4 L444.7,79.8 L444.2,79.2 L443.7,78.6 L443.3,78.0 L442.9,77.5 L442.5,77.0 L442.1,76.5 L441.7,75.9 L441.2,75.2 L440.7,74.5 L440.3,74.0 L440.0,73.5 L439.6,73.0 L439.2,72.3 L438.7,71.6 L438.2,71.0 L437.8,70.5 L437.4,70.0 L437.0,69.5 L436.5,69.0 L436.0,68.5 L435.3,68.0 L434.7,67.5 L434.2,67.2 L433.7,66.9 L433.0,66.5 L432.2,66.1 L431.7,65.8 L431.1,65.5 L430.2,65.0 L429.7,64.7 L429.2,64.4 L428.5,64.0 L427.7,63.5 L427.2,63.2 L426.7,62.8 L426.2,62.4 L425.7,62.0 L425.2,61.5 L424.7,61.0 L424.2,60.4 L423.7,59.8 L423.2,59.0 L423.0,58.5 L422.7,57.9 L422.4,57.0 L422.3,56.0 L422.3,55.0 L422.5,54.0 L422.7,53.4 L423.2,52.5 L423.5,52.0 L423.9,51.5 L424.4,51.0 L425.0,50.5 L425.7,50.0 L426.2,49.7 L426.7,49.4 L427.6,49.0 L428.2,48.7 L428.8,48.5 L429.7,48.2 L430.3,48.0 L431.2,47.7 L432.1,47.5 L432.7,47.3 L433.7,47.1 L434.2,46.9 L435.2,46.6 L435.7,46.5 L436.7,46.2 L437.4,46.0 L438.2,45.8 L439.2,45.5 L439.7,45.4 L440.7,45.2 L441.7,45.0 L442.2,45.0 L443.2,44.9 L444.2,44.9 L445.1,45.0 L445.7,45.1 L446.7,45.2 L447.7,45.5 L448.2,45.6 L449.2,46.0 L449.7,46.1 L450.5,46.5 L451.2,46.8 L451.7,47.1 L452.3,47.5 L453.1,48.0 L453.7,48.4 L454.2,48.8 L454.7,49.2 L455.2,49.6 L455.7,50.1 L456.2,50.6 L456.7,51.1 L457.2,51.7 L457.7,52.3 L458.2,52.9 L458.6,53.5 L459.0,54.0 L459.3,54.5 L459.7,55.1 L460.2,56.0 L460.5,56.5 L460.8,57.0 L461.2,57.8 L461.6,58.5 L461.8,59.0 L462.2,59.7 L462.6,60.5 L462.8,61.0 L463.2,61.8 L463.5,62.5 L463.7,63.0 L464.2,64.0 L464.4,64.5 L464.7,65.4 L464.9,66.0 L465.2,66.7 L465.5,67.5 L465.7,68.3 L465.9,69.0 L466.2,70.0 L466.3,70.5 L466.5,71.5 L466.7,72.4 L466.8,73.0 L466.9,74.0 L467.0,75.0 L467.1,76.0 L467.1,77.0 L467.1,78.0 L467.1,79.0 L467.0,80.0 L466.8,81.0 L466.7,81.6 L466.5,82.5 L466.2,83.3 L465.9,84.0 L465.7,84.5 L465.2,85.4 L464.8,86.0 L464.4,86.5 L463.9,87.0 L463.4,87.5 L462.7,88.0 L462.2,88.3 L461.7,88.5 L460.7,88.8 L459.7,89.0 L459.2,89.0Z"/><path d="M460.2,87.1 L459.2,87.3 L458.2,87.3 L457.2,87.2 L456.2,87.0 L455.7,86.8 L454.8,86.5 L454.2,86.3 L453.7,86.0 L452.8,85.5 L452.2,85.2 L451.7,84.8 L451.2,84.5 L450.6,84.0 L450.0,83.5 L449.4,83.0 L448.8,82.5 L448.3,82.0 L447.8,81.5 L447.3,81.0 L446.9,80.5 L446.4,80.0 L446.0,79.5 L445.5,79.0 L445.1,78.5 L444.7,78.0 L444.2,77.3 L443.7,76.6 L443.2,76.0 L442.9,75.5 L442.6,75.0 L442.2,74.5 L441.7,73.7 L441.2,73.0 L440.9,72.5 L440.6,72.0 L440.2,71.3 L439.7,70.6 L439.3,70.0 L439.0,69.5 L438.6,69.0 L438.1,68.5 L437.7,68.0 L437.1,67.5 L436.5,67.0 L435.8,66.5 L435.2,66.2 L434.7,65.9 L434.0,65.5 L433.2,65.1 L432.7,64.9 L431.9,64.5 L431.2,64.2 L430.7,63.9 L430.0,63.5 L429.2,63.1 L428.7,62.7 L428.2,62.4 L427.6,62.0 L427.0,61.5 L426.4,61.0 L426.0,60.5 L425.5,60.0 L425.1,59.5 L424.7,58.8 L424.3,58.0 L424.1,57.5 L423.9,56.5 L423.8,55.5 L424.0,54.5 L424.2,53.8 L424.6,53.0 L425.0,52.5 L425.4,52.0 L425.9,51.5 L426.6,51.0 L427.2,50.6 L427.7,50.3 L428.3,50.0 L429.2,49.6 L429.7,49.4 L430.7,49.1 L431.2,48.9 L432.2,48.6 L432.7,48.5 L433.7,48.2 L434.6,48.0 L435.2,47.8 L436.2,47.5 L436.7,47.4 L437.7,47.1 L438.2,47.0 L439.2,46.7 L440.1,46.5 L440.7,46.4 L441.7,46.2 L442.7,46.1 L443.7,46.1 L444.7,46.1 L445.7,46.2 L446.7,46.3 L447.4,46.5 L448.2,46.7 L449.0,47.0 L449.7,47.3 L450.2,47.5 L451.2,48.0 L451.7,48.3 L452.2,48.6 L452.8,49.0 L453.4,49.5 L454.1,50.0 L454.6,50.5 L455.2,51.0 L455.7,51.5 L456.1,52.0 L456.6,52.5 L457.0,53.0 L457.3,53.5 L457.7,54.0 L458.2,54.7 L458.7,55.5 L459.0,56.0 L459.3,56.5 L459.7,57.2 L460.1,58.0 L460.4,58.5 L460.7,59.1 L461.2,60.0 L461.4,60.5 L461.7,61.1 L462.2,62.0 L462.4,62.5 L462.7,63.2 L463.0,64.0 L463.3,64.5 L463.7,65.5 L463.8,66.0 L464.2,67.0 L464.4,67.5 L464.7,68.5 L464.8,69.0 L465.1,70.0 L465.2,70.5 L465.4,71.5 L465.6,72.5 L465.7,73.1 L465.8,74.0 L465.9,75.0 L465.9,76.0 L466.0,77.0 L465.9,78.0 L465.8,79.0 L465.7,79.7 L465.5,80.5 L465.3,81.5 L465.1,82.0 L464.7,83.0 L464.5,83.5 L464.2,84.0 L463.7,84.7 L463.2,85.3 L462.7,85.7 L462.2,86.1 L461.6,86.5 L460.7,86.9 L460.2,87.1Z"/><path d="M459.7,85.6 L458.7,85.8 L457.7,85.9 L456.7,85.8 L455.7,85.5 L455.2,85.4 L454.3,85.0 L453.7,84.7 L453.2,84.5 L452.4,84.0 L451.7,83.5 L451.2,83.2 L450.7,82.8 L450.2,82.4 L449.7,82.0 L449.2,81.5 L448.7,81.0 L448.2,80.5 L447.7,80.0 L447.2,79.5 L446.7,78.9 L446.2,78.3 L445.7,77.7 L445.2,77.0 L444.8,76.5 L444.4,76.0 L444.1,75.5 L443.7,74.9 L443.2,74.2 L442.8,73.5 L442.5,73.0 L442.2,72.5 L441.7,71.7 L441.3,71.0 L441.0,70.5 L440.7,70.0 L440.2,69.2 L439.7,68.5 L439.3,68.0 L438.9,67.5 L438.4,67.0 L437.9,66.5 L437.2,66.0 L436.7,65.7 L436.2,65.4 L435.5,65.0 L434.7,64.6 L434.2,64.4 L433.3,64.0 L432.7,63.7 L432.2,63.5 L431.2,63.0 L430.7,62.8 L430.2,62.5 L429.4,62.0 L428.7,61.5 L428.2,61.1 L427.7,60.7 L427.2,60.2 L426.7,59.7 L426.2,59.0 L425.9,58.5 L425.6,58.0 L425.3,57.0 L425.2,56.5 L425.2,55.5 L425.2,55.0 L425.6,54.0 L425.8,53.5 L426.2,53.0 L426.7,52.4 L427.2,51.9 L427.8,51.5 L428.6,51.0 L429.2,50.7 L429.7,50.5 L430.7,50.1 L431.2,49.9 L432.2,49.6 L432.7,49.5 L433.7,49.2 L434.6,49.0 L435.2,48.8 L436.2,48.6 L436.7,48.4 L437.7,48.1 L438.2,48.0 L439.2,47.7 L440.1,47.5 L440.7,47.4 L441.7,47.2 L442.7,47.1 L443.7,47.0 L444.7,47.0 L445.7,47.1 L446.7,47.3 L447.6,47.5 L448.2,47.7 L449.1,48.0 L449.7,48.2 L450.2,48.5 L451.2,49.0 L451.7,49.3 L452.2,49.7 L452.7,50.0 L453.3,50.5 L453.9,51.0 L454.4,51.5 L454.9,52.0 L455.4,52.5 L455.8,53.0 L456.2,53.5 L456.7,54.1 L457.2,54.8 L457.7,55.5 L458.0,56.0 L458.3,56.5 L458.7,57.2 L459.1,58.0 L459.4,58.5 L459.7,59.0 L460.2,60.0 L460.5,60.5 L460.7,61.0 L461.2,62.0 L461.4,62.5 L461.7,63.1 L462.1,64.0 L462.3,64.5 L462.7,65.4 L462.9,66.0 L463.2,66.7 L463.5,67.5 L463.7,68.3 L463.9,69.0 L464.2,70.0 L464.3,70.5 L464.5,71.5 L464.7,72.5 L464.8,73.0 L464.9,74.0 L464.9,75.0 L465.0,76.0 L464.9,77.0 L464.8,78.0 L464.7,79.0 L464.6,79.5 L464.3,80.5 L464.2,81.0 L463.8,82.0 L463.5,82.5 L463.2,83.0 L462.7,83.7 L462.2,84.2 L461.7,84.6 L461.2,85.0 L460.2,85.5 L459.7,85.6Z"/><path d="M458.7,84.5 L457.7,84.6 L456.7,84.6 L456.2,84.5 L455.2,84.2 L454.6,84.0 L453.7,83.6 L453.2,83.3 L452.6,83.0 L451.9,82.5 L451.2,82.0 L450.7,81.6 L450.2,81.2 L449.7,80.8 L449.2,80.3 L448.7,79.8 L448.2,79.3 L447.7,78.8 L447.2,78.2 L446.7,77.6 L446.2,77.0 L445.8,76.5 L445.5,76.0 L445.1,75.5 L444.7,74.9 L444.2,74.1 L443.8,73.5 L443.5,73.0 L443.2,72.5 L442.7,71.6 L442.4,71.0 L442.1,70.5 L441.7,69.8 L441.2,69.0 L440.9,68.5 L440.6,68.0 L440.2,67.4 L439.7,66.8 L439.2,66.2 L438.7,65.8 L438.2,65.4 L437.6,65.0 L436.7,64.5 L436.2,64.2 L435.7,64.0 L434.7,63.6 L434.2,63.4 L433.3,63.0 L432.7,62.7 L432.2,62.5 L431.2,62.0 L430.7,61.7 L430.2,61.4 L429.6,61.0 L428.9,60.5 L428.4,60.0 L427.9,59.5 L427.5,59.0 L427.1,58.5 L426.7,57.6 L426.5,57.0 L426.4,56.0 L426.5,55.0 L426.7,54.4 L427.2,53.5 L427.7,53.0 L428.2,52.5 L428.7,52.1 L429.2,51.8 L429.8,51.5 L430.7,51.1 L431.2,50.9 L432.2,50.6 L432.7,50.4 L433.7,50.1 L434.2,50.0 L435.2,49.7 L436.2,49.5 L436.7,49.3 L437.7,49.1 L438.2,48.9 L439.2,48.7 L439.8,48.5 L440.7,48.3 L441.7,48.1 L442.2,48.0 L443.2,47.9 L444.2,47.9 L445.2,47.9 L446.0,48.0 L446.7,48.1 L447.7,48.4 L448.2,48.5 L449.2,48.9 L449.7,49.1 L450.5,49.5 L451.2,49.9 L451.7,50.2 L452.2,50.6 L452.7,51.0 L453.3,51.5 L453.9,52.0 L454.4,52.5 L454.8,53.0 L455.2,53.5 L455.7,54.1 L456.2,54.7 L456.7,55.5 L457.1,56.0 L457.4,56.5 L457.7,57.0 L458.2,57.9 L458.5,58.5 L458.8,59.0 L459.2,59.7 L459.6,60.5 L459.9,61.0 L460.2,61.7 L460.6,62.5 L460.8,63.0 L461.2,63.8 L461.5,64.5 L461.7,65.0 L462.1,66.0 L462.3,66.5 L462.7,67.5 L462.8,68.0 L463.1,69.0 L463.3,69.5 L463.5,70.5 L463.7,71.5 L463.8,72.0 L463.9,73.0 L464.0,74.0 L464.1,75.0 L464.1,76.0 L464.0,77.0 L463.9,78.0 L463.7,78.9 L463.5,79.5 L463.2,80.5 L463.0,81.0 L462.7,81.5 L462.2,82.3 L461.7,82.9 L461.2,83.4 L460.7,83.7 L460.2,84.0 L459.2,84.4 L458.7,84.5Z"/><path d="M459.2,83.1 L458.2,83.4 L457.2,83.5 L456.2,83.4 L455.2,83.2 L454.7,83.0 L453.7,82.6 L453.2,82.3 L452.7,82.0 L451.9,81.5 L451.2,81.0 L450.7,80.6 L450.2,80.2 L449.7,79.7 L449.2,79.2 L448.7,78.7 L448.2,78.2 L447.7,77.6 L447.2,77.0 L446.8,76.5 L446.4,76.0 L446.0,75.5 L445.7,75.0 L445.2,74.3 L444.7,73.5 L444.4,73.0 L444.1,72.5 L443.7,71.7 L443.3,71.0 L443.0,70.5 L442.7,69.9 L442.2,69.0 L442.0,68.5 L441.7,68.0 L441.2,67.2 L440.7,66.5 L440.3,66.0 L439.9,65.5 L439.3,65.0 L438.7,64.5 L438.2,64.2 L437.7,63.9 L436.8,63.5 L436.2,63.2 L435.6,63.0 L434.7,62.6 L434.2,62.4 L433.2,62.0 L432.7,61.8 L432.1,61.5 L431.2,61.0 L430.7,60.7 L430.2,60.3 L429.7,59.9 L429.2,59.5 L428.7,58.9 L428.2,58.2 L427.8,57.5 L427.7,57.0 L427.6,56.0 L427.7,55.1 L427.9,54.5 L428.2,54.0 L428.7,53.5 L429.2,53.0 L429.9,52.5 L430.7,52.1 L431.2,51.8 L432.1,51.5 L432.7,51.3 L433.7,51.0 L434.2,50.9 L435.2,50.6 L435.7,50.5 L436.7,50.2 L437.5,50.0 L438.2,49.8 L439.2,49.5 L439.7,49.4 L440.7,49.1 L441.3,49.0 L442.2,48.8 L443.2,48.7 L444.2,48.7 L445.2,48.7 L446.2,48.8 L447.2,49.0 L447.7,49.1 L448.7,49.5 L449.2,49.7 L449.9,50.0 L450.7,50.5 L451.2,50.8 L451.7,51.1 L452.2,51.5 L452.8,52.0 L453.3,52.5 L453.8,53.0 L454.3,53.5 L454.7,54.0 L455.2,54.6 L455.7,55.3 L456.2,56.0 L456.5,56.5 L456.8,57.0 L457.2,57.6 L457.7,58.5 L458.0,59.0 L458.3,59.5 L458.7,60.3 L459.1,61.0 L459.3,61.5 L459.7,62.2 L460.1,63.0 L460.3,63.5 L460.7,64.3 L461.0,65.0 L461.2,65.5 L461.6,66.5 L461.8,67.0 L462.1,68.0 L462.3,68.5 L462.5,69.5 L462.7,70.2 L462.9,71.0 L463.1,72.0 L463.2,73.0 L463.2,73.5 L463.3,74.5 L463.3,75.5 L463.2,76.5 L463.1,77.0 L463.0,78.0 L462.7,79.0 L462.5,79.5 L462.2,80.2 L461.8,81.0 L461.4,81.5 L461.0,82.0 L460.4,82.5 L459.7,82.9 L459.2,83.1Z"/><path d="M458.7,82.1 L457.7,82.4 L456.7,82.4 L455.7,82.3 L454.7,82.0 L454.2,81.8 L453.5,81.5 L452.7,81.1 L452.2,80.8 L451.7,80.4 L451.2,80.0 L450.5,79.5 L450.0,79.0 L449.5,78.5 L449.0,78.0 L448.5,77.5 L448.1,77.0 L447.7,76.5 L447.2,75.9 L446.7,75.2 L446.2,74.5 L445.9,74.0 L445.5,73.5 L445.2,72.9 L444.7,72.1 L444.4,71.5 L444.1,71.0 L443.7,70.2 L443.4,69.5 L443.1,69.0 L442.7,68.2 L442.4,67.5 L442.1,67.0 L441.7,66.4 L441.2,65.7 L440.7,65.1 L440.2,64.6 L439.7,64.1 L439.2,63.8 L438.7,63.4 L437.9,63.0 L437.2,62.7 L436.7,62.5 L435.7,62.1 L435.2,61.9 L434.2,61.5 L433.7,61.3 L433.0,61.0 L432.2,60.6 L431.7,60.3 L431.2,60.0 L430.6,59.5 L430.1,59.0 L429.6,58.5 L429.2,57.8 L428.9,57.0 L428.8,56.0 L429.0,55.0 L429.3,54.5 L429.7,53.9 L430.2,53.5 L430.9,53.0 L431.7,52.6 L432.2,52.4 L433.2,52.0 L433.7,51.8 L434.7,51.6 L435.2,51.4 L436.2,51.2 L436.9,51.0 L437.7,50.8 L438.7,50.5 L439.2,50.4 L440.2,50.1 L440.7,50.0 L441.7,49.7 L442.7,49.5 L443.2,49.5 L444.2,49.4 L445.2,49.4 L445.8,49.5 L446.7,49.6 L447.7,49.9 L448.2,50.1 L449.2,50.5 L449.7,50.7 L450.2,51.0 L451.0,51.5 L451.7,52.0 L452.2,52.4 L452.7,52.8 L453.2,53.3 L453.7,53.9 L454.2,54.4 L454.6,55.0 L455.0,55.5 L455.4,56.0 L455.7,56.5 L456.2,57.3 L456.6,58.0 L456.9,58.5 L457.2,59.0 L457.7,59.8 L458.1,60.5 L458.3,61.0 L458.7,61.7 L459.1,62.5 L459.4,63.0 L459.7,63.7 L460.1,64.5 L460.3,65.0 L460.7,66.0 L460.9,66.5 L461.2,67.3 L461.4,68.0 L461.7,68.9 L461.9,69.5 L462.1,70.5 L462.2,71.0 L462.4,72.0 L462.5,73.0 L462.5,74.0 L462.5,75.0 L462.5,76.0 L462.3,77.0 L462.2,77.6 L461.9,78.5 L461.7,79.1 L461.2,80.0 L460.9,80.5 L460.4,81.0 L459.8,81.5 L459.2,81.9 L458.7,82.1Z"/><path d="M458.2,81.2 L457.2,81.4 L456.2,81.4 L455.2,81.2 L454.4,81.0 L453.7,80.7 L453.2,80.4 L452.4,80.0 L451.7,79.5 L451.2,79.1 L450.7,78.7 L450.2,78.3 L449.7,77.8 L449.2,77.3 L448.7,76.7 L448.2,76.1 L447.7,75.5 L447.3,75.0 L447.0,74.5 L446.6,74.0 L446.2,73.3 L445.7,72.5 L445.4,72.0 L445.2,71.5 L444.7,70.6 L444.4,70.0 L444.2,69.5 L443.7,68.5 L443.4,68.0 L443.2,67.5 L442.7,66.5 L442.4,66.0 L442.1,65.5 L441.7,64.9 L441.2,64.3 L440.7,63.8 L440.2,63.4 L439.7,63.0 L438.9,62.5 L438.2,62.2 L437.7,62.0 L436.7,61.6 L436.2,61.4 L435.2,61.0 L434.7,60.8 L433.9,60.5 L433.2,60.1 L432.7,59.9 L432.1,59.5 L431.5,59.0 L431.0,58.5 L430.6,58.0 L430.2,57.3 L430.0,56.5 L430.1,55.5 L430.3,55.0 L430.7,54.5 L431.2,54.0 L432.0,53.5 L432.7,53.1 L433.2,52.9 L434.2,52.6 L434.7,52.4 L435.7,52.1 L436.3,52.0 L437.2,51.8 L438.1,51.5 L438.7,51.3 L439.7,51.1 L440.2,50.9 L441.2,50.6 L441.8,50.5 L442.7,50.3 L443.7,50.2 L444.7,50.2 L445.7,50.2 L446.7,50.4 L447.3,50.5 L448.2,50.8 L448.7,51.0 L449.7,51.5 L450.2,51.8 L450.7,52.1 L451.3,52.5 L451.9,53.0 L452.4,53.5 L452.9,54.0 L453.4,54.5 L453.8,55.0 L454.2,55.5 L454.7,56.2 L455.2,56.9 L455.6,57.5 L455.9,58.0 L456.2,58.5 L456.7,59.4 L457.1,60.0 L457.3,60.5 L457.7,61.1 L458.2,62.0 L458.4,62.5 L458.7,63.0 L459.2,64.0 L459.4,64.5 L459.7,65.1 L460.1,66.0 L460.3,66.5 L460.6,67.5 L460.8,68.0 L461.1,69.0 L461.2,69.5 L461.5,70.5 L461.6,71.5 L461.7,72.0 L461.8,73.0 L461.8,74.0 L461.8,75.0 L461.7,76.0 L461.6,76.5 L461.4,77.5 L461.2,78.0 L460.7,79.0 L460.4,79.5 L460.0,80.0 L459.4,80.5 L458.7,81.0 L458.2,81.2Z"/><path d="M458.2,80.1 L457.2,80.4 L456.2,80.5 L455.2,80.3 L454.2,80.0 L453.7,79.8 L453.1,79.5 L452.2,79.0 L451.7,78.6 L451.2,78.2 L450.7,77.8 L450.2,77.4 L449.7,76.9 L449.2,76.3 L448.7,75.7 L448.2,75.1 L447.7,74.5 L447.4,74.0 L447.1,73.5 L446.7,72.9 L446.2,72.1 L445.9,71.5 L445.6,71.0 L445.2,70.2 L444.9,69.5 L444.7,69.0 L444.2,68.0 L444.0,67.5 L443.7,66.8 L443.3,66.0 L443.0,65.5 L442.7,64.9 L442.2,64.2 L441.7,63.6 L441.2,63.0 L440.7,62.6 L440.2,62.2 L439.7,61.9 L438.9,61.5 L438.2,61.2 L437.7,61.0 L436.7,60.6 L436.2,60.4 L435.2,60.1 L434.7,59.8 L434.0,59.5 L433.2,59.0 L432.7,58.7 L432.2,58.2 L431.7,57.5 L431.5,57.0 L431.4,56.0 L431.7,55.3 L432.2,54.7 L432.7,54.3 L433.2,54.0 L434.2,53.5 L434.7,53.4 L435.7,53.1 L436.2,52.9 L437.2,52.6 L437.7,52.5 L438.7,52.2 L439.4,52.0 L440.2,51.8 L441.2,51.5 L441.7,51.4 L442.7,51.1 L443.6,51.0 L444.2,50.9 L445.2,50.9 L446.0,51.0 L446.7,51.1 L447.7,51.4 L448.2,51.5 L449.2,52.0 L449.7,52.3 L450.2,52.6 L450.8,53.0 L451.4,53.5 L452.0,54.0 L452.5,54.5 L452.9,55.0 L453.3,55.5 L453.7,56.0 L454.2,56.6 L454.7,57.4 L455.1,58.0 L455.4,58.5 L455.7,59.0 L456.2,59.8 L456.6,60.5 L456.9,61.0 L457.2,61.5 L457.7,62.4 L458.0,63.0 L458.3,63.5 L458.7,64.3 L459.0,65.0 L459.2,65.5 L459.7,66.5 L459.8,67.0 L460.2,68.0 L460.3,68.5 L460.6,69.5 L460.7,70.0 L460.9,71.0 L461.1,72.0 L461.1,73.0 L461.2,74.0 L461.1,75.0 L460.9,76.0 L460.7,76.9 L460.5,77.5 L460.2,78.1 L459.7,78.8 L459.2,79.4 L458.7,79.8 L458.2,80.1Z"/><path d="M456.2,79.5 L455.7,79.5 L454.7,79.3 L453.8,79.0 L453.2,78.7 L452.7,78.4 L452.0,78.0 L451.4,77.5 L450.8,77.0 L450.2,76.5 L449.8,76.0 L449.3,75.5 L448.9,75.0 L448.5,74.5 L448.1,74.0 L447.7,73.4 L447.2,72.6 L446.9,72.0 L446.6,71.5 L446.2,70.8 L445.8,70.0 L445.6,69.5 L445.2,68.6 L444.9,68.0 L444.7,67.4 L444.3,66.5 L444.1,66.0 L443.7,65.1 L443.4,64.5 L443.1,64.0 L442.7,63.4 L442.2,62.8 L441.7,62.3 L441.2,61.8 L440.7,61.4 L440.0,61.0 L439.2,60.6 L438.7,60.3 L437.9,60.0 L437.2,59.7 L436.5,59.5 L435.7,59.1 L435.2,58.9 L434.5,58.5 L433.8,58.0 L433.4,57.5 L433.1,57.0 L433.1,56.0 L433.4,55.5 L434.0,55.0 L434.7,54.6 L435.2,54.3 L436.1,54.0 L436.7,53.8 L437.7,53.5 L438.2,53.4 L439.2,53.0 L439.7,52.9 L440.7,52.6 L441.2,52.4 L442.2,52.1 L442.7,52.0 L443.7,51.8 L444.7,51.7 L445.7,51.7 L446.7,51.9 L447.2,52.0 L448.2,52.3 L448.7,52.5 L449.5,53.0 L450.2,53.4 L450.7,53.8 L451.2,54.2 L451.7,54.7 L452.2,55.2 L452.7,55.8 L453.2,56.4 L453.6,57.0 L454.0,57.5 L454.3,58.0 L454.7,58.6 L455.2,59.3 L455.6,60.0 L455.9,60.5 L456.2,61.0 L456.7,61.8 L457.1,62.5 L457.4,63.0 L457.7,63.6 L458.1,64.5 L458.4,65.0 L458.7,65.7 L459.0,66.5 L459.2,67.0 L459.6,68.0 L459.7,68.5 L460.0,69.5 L460.2,70.4 L460.3,71.0 L460.4,72.0 L460.5,73.0 L460.5,74.0 L460.4,75.0 L460.2,75.8 L460.0,76.5 L459.7,77.2 L459.2,78.0 L458.7,78.5 L458.2,78.9 L457.7,79.2 L456.7,79.5 L456.2,79.5Z"/><path d="M456.2,78.6 L455.2,78.5 L454.7,78.4 L453.7,78.1 L453.2,77.9 L452.6,77.5 L451.8,77.0 L451.2,76.5 L450.7,76.1 L450.2,75.6 L449.7,75.0 L449.3,74.5 L448.9,74.0 L448.5,73.5 L448.2,73.0 L447.7,72.3 L447.3,71.5 L447.0,71.0 L446.7,70.4 L446.3,69.5 L446.1,69.0 L445.7,68.1 L445.5,67.5 L445.2,66.8 L444.9,66.0 L444.7,65.5 L444.2,64.5 L444.0,64.0 L443.7,63.4 L443.2,62.6 L442.7,62.0 L442.3,61.5 L441.8,61.0 L441.2,60.5 L440.7,60.1 L440.2,59.8 L439.6,59.5 L438.7,59.1 L438.2,58.8 L437.5,58.5 L436.7,58.1 L436.2,57.7 L435.7,57.2 L435.5,56.5 L435.7,56.0 L436.3,55.5 L437.2,55.0 L437.7,54.8 L438.5,54.5 L439.2,54.2 L439.8,54.0 L440.7,53.6 L441.2,53.5 L442.2,53.1 L442.7,53.0 L443.7,52.7 L444.7,52.6 L445.7,52.6 L446.7,52.7 L447.7,53.0 L448.2,53.2 L448.9,53.5 L449.7,54.0 L450.2,54.4 L450.7,54.8 L451.2,55.2 L451.7,55.7 L452.2,56.3 L452.7,56.9 L453.1,57.5 L453.5,58.0 L453.9,58.5 L454.2,59.0 L454.7,59.8 L455.2,60.5 L455.5,61.0 L455.8,61.5 L456.2,62.1 L456.7,63.0 L457.0,63.5 L457.3,64.0 L457.7,64.9 L458.0,65.5 L458.2,66.0 L458.6,67.0 L458.8,67.5 L459.1,68.5 L459.3,69.0 L459.5,70.0 L459.7,71.0 L459.8,71.5 L459.8,72.5 L459.8,73.5 L459.7,74.5 L459.6,75.0 L459.3,76.0 L459.1,76.5 L458.7,77.1 L458.2,77.7 L457.7,78.0 L456.7,78.5 L456.2,78.6Z"/><path d="M456.2,77.6 L455.2,77.6 L454.5,77.5 L453.7,77.2 L453.2,77.0 L452.3,76.5 L451.7,76.0 L451.2,75.6 L450.7,75.2 L450.2,74.6 L449.7,74.1 L449.3,73.5 L448.9,73.0 L448.6,72.5 L448.2,71.9 L447.7,71.0 L447.4,70.5 L447.2,70.0 L446.7,69.0 L446.5,68.5 L446.2,67.6 L446.0,67.0 L445.7,66.2 L445.5,65.5 L445.2,64.8 L444.9,64.0 L444.7,63.5 L444.2,62.5 L443.9,62.0 L443.6,61.5 L443.2,60.9 L442.7,60.3 L442.2,59.8 L441.7,59.3 L441.2,58.8 L440.7,58.4 L440.2,57.9 L439.7,57.3 L439.5,56.5 L439.8,56.0 L440.3,55.5 L441.1,55.0 L441.7,54.7 L442.2,54.4 L443.2,54.0 L443.7,53.8 L444.7,53.6 L445.7,53.6 L446.7,53.7 L447.7,53.9 L448.2,54.1 L448.9,54.5 L449.7,55.0 L450.2,55.4 L450.7,55.8 L451.2,56.3 L451.7,56.9 L452.2,57.5 L452.6,58.0 L453.0,58.5 L453.3,59.0 L453.7,59.5 L454.2,60.2 L454.7,60.9 L455.1,61.5 L455.4,62.0 L455.7,62.5 L456.2,63.3 L456.6,64.0 L456.9,64.5 L457.2,65.1 L457.6,66.0 L457.8,66.5 L458.2,67.5 L458.4,68.0 L458.7,69.0 L458.8,69.5 L459.0,70.5 L459.1,71.5 L459.2,72.5 L459.1,73.5 L458.9,74.5 L458.7,75.2 L458.3,76.0 L458.0,76.5 L457.4,77.0 L456.7,77.4 L456.2,77.6Z"/><path d="M455.7,76.6 L454.7,76.6 L454.1,76.5 L453.2,76.1 L452.7,75.9 L452.2,75.5 L451.5,75.0 L451.0,74.5 L450.5,74.0 L450.1,73.5 L449.7,73.0 L449.2,72.4 L448.7,71.6 L448.4,71.0 L448.1,70.5 L447.7,69.6 L447.4,69.0 L447.2,68.4 L446.9,67.5 L446.7,67.0 L446.4,66.0 L446.2,65.4 L445.9,64.5 L445.7,63.7 L445.5,63.0 L445.2,62.3 L444.9,61.5 L444.6,61.0 L444.2,60.2 L443.8,59.5 L443.5,59.0 L443.2,58.5 L442.8,57.5 L442.8,56.5 L443.2,55.9 L443.7,55.5 L444.7,55.0 L445.2,54.9 L446.2,54.8 L447.2,54.9 L447.7,55.1 L448.6,55.5 L449.2,55.9 L449.7,56.2 L450.2,56.6 L450.7,57.1 L451.2,57.6 L451.7,58.2 L452.2,58.8 L452.7,59.4 L453.2,60.0 L453.5,60.5 L453.9,61.0 L454.3,61.5 L454.7,62.1 L455.2,62.9 L455.6,63.5 L455.9,64.0 L456.2,64.5 L456.7,65.5 L457.0,66.0 L457.2,66.5 L457.6,67.5 L457.8,68.0 L458.1,69.0 L458.2,69.6 L458.4,70.5 L458.5,71.5 L458.5,72.5 L458.3,73.5 L458.2,74.1 L457.8,75.0 L457.5,75.5 L457.0,76.0 L456.2,76.5 L455.7,76.6Z"/><path d="M455.7,75.5 L454.7,75.6 L454.0,75.5 L453.2,75.2 L452.7,74.9 L452.1,74.5 L451.5,74.0 L451.0,73.5 L450.5,73.0 L450.1,72.5 L449.7,71.9 L449.2,71.1 L448.8,70.5 L448.6,70.0 L448.2,69.1 L447.9,68.5 L447.7,67.8 L447.4,67.0 L447.2,66.1 L447.1,65.5 L446.8,64.5 L446.7,64.0 L446.5,63.0 L446.3,62.0 L446.1,61.5 L445.9,60.5 L445.7,59.9 L445.5,59.0 L445.4,58.0 L445.7,57.2 L446.2,56.8 L447.2,56.7 L448.2,56.9 L448.7,57.1 L449.3,57.5 L450.0,58.0 L450.6,58.5 L451.1,59.0 L451.6,59.5 L452.0,60.0 L452.5,60.5 L452.9,61.0 L453.3,61.5 L453.7,62.0 L454.2,62.6 L454.7,63.3 L455.1,64.0 L455.4,64.5 L455.7,65.0 L456.2,65.9 L456.5,66.5 L456.7,67.0 L457.1,68.0 L457.3,68.5 L457.5,69.5 L457.7,70.5 L457.7,71.0 L457.7,72.0 L457.7,72.5 L457.5,73.5 L457.2,74.2 L456.7,74.9 L456.2,75.3 L455.7,75.5Z"/><path d="M454.7,74.5 L454.2,74.5 L453.2,74.2 L452.7,73.9 L452.1,73.5 L451.5,73.0 L451.0,72.5 L450.6,72.0 L450.2,71.4 L449.7,70.6 L449.4,70.0 L449.1,69.5 L448.7,68.5 L448.5,68.0 L448.2,67.0 L448.1,66.5 L447.9,65.5 L447.8,64.5 L447.7,63.7 L447.7,63.0 L447.6,62.0 L447.7,61.1 L447.8,60.5 L448.2,59.9 L449.2,59.7 L450.0,60.0 L450.7,60.4 L451.2,60.8 L451.7,61.2 L452.2,61.6 L452.7,62.1 L453.2,62.7 L453.7,63.3 L454.2,63.9 L454.6,64.5 L454.9,65.0 L455.2,65.5 L455.7,66.4 L456.0,67.0 L456.2,67.5 L456.5,68.5 L456.7,69.1 L456.9,70.0 L457.0,71.0 L456.9,72.0 L456.7,72.8 L456.4,73.5 L455.9,74.0 L455.2,74.4 L454.7,74.5Z"/><path d="M454.7,73.1 L453.7,73.2 L453.2,73.0 L452.4,72.5 L451.8,72.0 L451.3,71.5 L450.9,71.0 L450.6,70.5 L450.2,69.9 L449.8,69.0 L449.6,68.5 L449.3,67.5 L449.2,67.0 L449.0,66.0 L448.9,65.0 L449.0,64.0 L449.2,63.3 L449.7,62.5 L450.2,62.4 L451.0,62.5 L451.7,62.8 L452.2,63.2 L452.7,63.6 L453.2,64.1 L453.7,64.7 L454.2,65.4 L454.6,66.0 L454.9,66.5 L455.2,67.1 L455.6,68.0 L455.7,68.5 L456.0,69.5 L456.0,70.5 L455.9,71.5 L455.7,72.2 L455.2,72.9 L454.7,73.1Z"/><path d="M453.7,71.5 L453.2,71.4 L452.4,71.0 L451.9,70.5 L451.5,70.0 L451.2,69.5 L450.7,68.5 L450.6,68.0 L450.4,67.0 L450.4,66.0 L450.7,65.2 L451.2,64.8 L452.1,65.0 L452.7,65.4 L453.2,65.9 L453.7,66.5 L454.0,67.0 L454.3,67.5 L454.6,68.5 L454.8,69.0 L454.8,70.0 L454.7,70.7 L454.2,71.3 L453.7,71.5Z"/></g><rect x="53.5" y="20.7" width="107" height="107" fill="none" stroke="#a6a6a6" stroke-width="1.15"/><g stroke="#8e8e8e" stroke-width="0.6"><line x1="60.0" y1="127.7" x2="60.0" y2="131.0"/><line x1="50.2" y1="121.2" x2="53.5" y2="121.2"/><line x1="95.5" y1="127.7" x2="95.5" y2="131.0"/><line x1="50.2" y1="85.7" x2="53.5" y2="85.7"/><line x1="124.5" y1="127.7" x2="124.5" y2="131.0"/><line x1="50.2" y1="56.7" x2="53.5" y2="56.7"/><line x1="150.5" y1="127.7" x2="150.5" y2="131.0"/><line x1="50.2" y1="30.7" x2="53.5" y2="30.7"/><line x1="104.2" y1="127.7" x2="104.2" y2="129.9"/><line x1="51.3" y1="77.0" x2="53.5" y2="77.0"/><line x1="109.3" y1="127.7" x2="109.3" y2="129.9"/><line x1="51.3" y1="71.9" x2="53.5" y2="71.9"/><line x1="113.0" y1="127.7" x2="113.0" y2="129.9"/><line x1="51.3" y1="68.2" x2="53.5" y2="68.2"/><line x1="115.8" y1="127.7" x2="115.8" y2="129.9"/><line x1="51.3" y1="65.4" x2="53.5" y2="65.4"/><line x1="118.1" y1="127.7" x2="118.1" y2="129.9"/><line x1="51.3" y1="63.1" x2="53.5" y2="63.1"/><line x1="120.0" y1="127.7" x2="120.0" y2="129.9"/><line x1="51.3" y1="61.2" x2="53.5" y2="61.2"/><line x1="121.7" y1="127.7" x2="121.7" y2="129.9"/><line x1="51.3" y1="59.5" x2="53.5" y2="59.5"/><line x1="123.2" y1="127.7" x2="123.2" y2="129.9"/><line x1="51.3" y1="58.0" x2="53.5" y2="58.0"/><line x1="132.3" y1="127.7" x2="132.3" y2="129.9"/><line x1="51.3" y1="48.9" x2="53.5" y2="48.9"/><line x1="136.9" y1="127.7" x2="136.9" y2="129.9"/><line x1="51.3" y1="44.3" x2="53.5" y2="44.3"/><line x1="140.2" y1="127.7" x2="140.2" y2="129.9"/><line x1="51.3" y1="41.0" x2="53.5" y2="41.0"/><line x1="142.7" y1="127.7" x2="142.7" y2="129.9"/><line x1="51.3" y1="38.5" x2="53.5" y2="38.5"/><line x1="144.7" y1="127.7" x2="144.7" y2="129.9"/><line x1="51.3" y1="36.5" x2="53.5" y2="36.5"/><line x1="146.5" y1="127.7" x2="146.5" y2="129.9"/><line x1="51.3" y1="34.7" x2="53.5" y2="34.7"/><line x1="148.0" y1="127.7" x2="148.0" y2="129.9"/><line x1="51.3" y1="33.2" x2="53.5" y2="33.2"/><line x1="149.3" y1="127.7" x2="149.3" y2="129.9"/><line x1="51.3" y1="31.9" x2="53.5" y2="31.9"/><line x1="158.3" y1="127.7" x2="158.3" y2="129.9"/><line x1="51.3" y1="22.9" x2="53.5" y2="22.9"/><line x1="61.5" y1="127.7" x2="61.5" y2="129.9"/><line x1="51.3" y1="119.7" x2="53.5" y2="119.7"/><line x1="63.1" y1="127.7" x2="63.1" y2="129.9"/><line x1="51.3" y1="118.1" x2="53.5" y2="118.1"/><line x1="65.5" y1="127.7" x2="65.5" y2="129.9"/><line x1="51.3" y1="115.7" x2="53.5" y2="115.7"/><line x1="69.0" y1="127.7" x2="69.0" y2="129.9"/><line x1="51.3" y1="112.2" x2="53.5" y2="112.2"/><line x1="72.5" y1="127.7" x2="72.5" y2="129.9"/><line x1="51.3" y1="108.7" x2="53.5" y2="108.7"/><line x1="83.0" y1="127.7" x2="83.0" y2="129.9"/><line x1="51.3" y1="98.2" x2="53.5" y2="98.2"/><line x1="87.0" y1="127.7" x2="87.0" y2="129.9"/><line x1="51.3" y1="94.2" x2="53.5" y2="94.2"/><line x1="90.3" y1="127.7" x2="90.3" y2="129.9"/><line x1="51.3" y1="90.9" x2="53.5" y2="90.9"/><line x1="92.7" y1="127.7" x2="92.7" y2="129.9"/><line x1="51.3" y1="88.5" x2="53.5" y2="88.5"/><line x1="94.3" y1="127.7" x2="94.3" y2="129.9"/><line x1="51.3" y1="86.9" x2="53.5" y2="86.9"/></g><rect x="75.5" y="128.0" width="4.6" height="1.3" fill="#777"/><rect x="76.7" y="128.0" width="2.0" height="2.0" fill="#444"/><rect x="52.0" y="101.5" width="1.2" height="4.4" fill="#888"/><rect x="51.1" y="102.80000000000001" width="2.0" height="1.6" fill="#555"/><rect x="218.5" y="20.6" width="106.6" height="107.1" fill="none" stroke="#a6a6a6" stroke-width="1.15"/><g stroke="#8e8e8e" stroke-width="0.6"><line x1="225.0" y1="127.6" x2="225.0" y2="130.9"/><line x1="215.2" y1="121.1" x2="218.5" y2="121.1"/><line x1="260.5" y1="127.6" x2="260.5" y2="130.9"/><line x1="215.2" y1="85.6" x2="218.5" y2="85.6"/><line x1="289.5" y1="127.6" x2="289.5" y2="130.9"/><line x1="215.2" y1="56.6" x2="218.5" y2="56.6"/><line x1="315.5" y1="127.6" x2="315.5" y2="130.9"/><line x1="215.2" y1="30.6" x2="218.5" y2="30.6"/><line x1="269.2" y1="127.6" x2="269.2" y2="129.79999999999998"/><line x1="216.3" y1="76.9" x2="218.5" y2="76.9"/><line x1="274.3" y1="127.6" x2="274.3" y2="129.79999999999998"/><line x1="216.3" y1="71.8" x2="218.5" y2="71.8"/><line x1="278.0" y1="127.6" x2="278.0" y2="129.79999999999998"/><line x1="216.3" y1="68.1" x2="218.5" y2="68.1"/><line x1="280.8" y1="127.6" x2="280.8" y2="129.79999999999998"/><line x1="216.3" y1="65.3" x2="218.5" y2="65.3"/><line x1="283.1" y1="127.6" x2="283.1" y2="129.79999999999998"/><line x1="216.3" y1="63.0" x2="218.5" y2="63.0"/><line x1="285.0" y1="127.6" x2="285.0" y2="129.79999999999998"/><line x1="216.3" y1="61.1" x2="218.5" y2="61.1"/><line x1="286.7" y1="127.6" x2="286.7" y2="129.79999999999998"/><line x1="216.3" y1="59.4" x2="218.5" y2="59.4"/><line x1="288.2" y1="127.6" x2="288.2" y2="129.79999999999998"/><line x1="216.3" y1="57.9" x2="218.5" y2="57.9"/><line x1="297.3" y1="127.6" x2="297.3" y2="129.79999999999998"/><line x1="216.3" y1="48.8" x2="218.5" y2="48.8"/><line x1="301.9" y1="127.6" x2="301.9" y2="129.79999999999998"/><line x1="216.3" y1="44.2" x2="218.5" y2="44.2"/><line x1="305.2" y1="127.6" x2="305.2" y2="129.79999999999998"/><line x1="216.3" y1="40.9" x2="218.5" y2="40.9"/><line x1="307.7" y1="127.6" x2="307.7" y2="129.79999999999998"/><line x1="216.3" y1="38.4" x2="218.5" y2="38.4"/><line x1="309.7" y1="127.6" x2="309.7" y2="129.79999999999998"/><line x1="216.3" y1="36.4" x2="218.5" y2="36.4"/><line x1="311.5" y1="127.6" x2="311.5" y2="129.79999999999998"/><line x1="216.3" y1="34.6" x2="218.5" y2="34.6"/><line x1="313.0" y1="127.6" x2="313.0" y2="129.79999999999998"/><line x1="216.3" y1="33.1" x2="218.5" y2="33.1"/><line x1="314.3" y1="127.6" x2="314.3" y2="129.79999999999998"/><line x1="216.3" y1="31.8" x2="218.5" y2="31.8"/><line x1="323.3" y1="127.6" x2="323.3" y2="129.79999999999998"/><line x1="216.3" y1="22.8" x2="218.5" y2="22.8"/><line x1="226.5" y1="127.6" x2="226.5" y2="129.79999999999998"/><line x1="216.3" y1="119.6" x2="218.5" y2="119.6"/><line x1="228.1" y1="127.6" x2="228.1" y2="129.79999999999998"/><line x1="216.3" y1="118.0" x2="218.5" y2="118.0"/><line x1="230.5" y1="127.6" x2="230.5" y2="129.79999999999998"/><line x1="216.3" y1="115.6" x2="218.5" y2="115.6"/><line x1="234.0" y1="127.6" x2="234.0" y2="129.79999999999998"/><line x1="216.3" y1="112.1" x2="218.5" y2="112.1"/><line x1="237.5" y1="127.6" x2="237.5" y2="129.79999999999998"/><line x1="216.3" y1="108.6" x2="218.5" y2="108.6"/><line x1="248.0" y1="127.6" x2="248.0" y2="129.79999999999998"/><line x1="216.3" y1="98.1" x2="218.5" y2="98.1"/><line x1="252.0" y1="127.6" x2="252.0" y2="129.79999999999998"/><line x1="216.3" y1="94.1" x2="218.5" y2="94.1"/><line x1="255.3" y1="127.6" x2="255.3" y2="129.79999999999998"/><line x1="216.3" y1="90.8" x2="218.5" y2="90.8"/><line x1="257.7" y1="127.6" x2="257.7" y2="129.79999999999998"/><line x1="216.3" y1="88.4" x2="218.5" y2="88.4"/><line x1="259.3" y1="127.6" x2="259.3" y2="129.79999999999998"/><line x1="216.3" y1="86.8" x2="218.5" y2="86.8"/></g><rect x="240.5" y="127.89999999999999" width="4.6" height="1.3" fill="#777"/><rect x="241.7" y="127.89999999999999" width="2.0" height="2.0" fill="#444"/><rect x="217.0" y="101.39999999999999" width="1.2" height="4.4" fill="#888"/><rect x="216.1" y="102.69999999999999" width="2.0" height="1.6" fill="#555"/><rect x="385.7" y="19.5" width="107.1" height="107.2" fill="none" stroke="#a6a6a6" stroke-width="1.15"/><g stroke="#8e8e8e" stroke-width="0.6"><line x1="392.2" y1="126.5" x2="392.2" y2="129.8"/><line x1="382.4" y1="120.0" x2="385.7" y2="120.0"/><line x1="427.7" y1="126.5" x2="427.7" y2="129.8"/><line x1="382.4" y1="84.5" x2="385.7" y2="84.5"/><line x1="456.7" y1="126.5" x2="456.7" y2="129.8"/><line x1="382.4" y1="55.5" x2="385.7" y2="55.5"/><line x1="482.7" y1="126.5" x2="482.7" y2="129.8"/><line x1="382.4" y1="29.5" x2="385.7" y2="29.5"/><line x1="436.4" y1="126.5" x2="436.4" y2="128.7"/><line x1="383.5" y1="75.8" x2="385.7" y2="75.8"/><line x1="441.5" y1="126.5" x2="441.5" y2="128.7"/><line x1="383.5" y1="70.7" x2="385.7" y2="70.7"/><line x1="445.2" y1="126.5" x2="445.2" y2="128.7"/><line x1="383.5" y1="67.0" x2="385.7" y2="67.0"/><line x1="448.0" y1="126.5" x2="448.0" y2="128.7"/><line x1="383.5" y1="64.2" x2="385.7" y2="64.2"/><line x1="450.3" y1="126.5" x2="450.3" y2="128.7"/><line x1="383.5" y1="61.9" x2="385.7" y2="61.9"/><line x1="452.2" y1="126.5" x2="452.2" y2="128.7"/><line x1="383.5" y1="60.0" x2="385.7" y2="60.0"/><line x1="453.9" y1="126.5" x2="453.9" y2="128.7"/><line x1="383.5" y1="58.3" x2="385.7" y2="58.3"/><line x1="455.4" y1="126.5" x2="455.4" y2="128.7"/><line x1="383.5" y1="56.8" x2="385.7" y2="56.8"/><line x1="464.5" y1="126.5" x2="464.5" y2="128.7"/><line x1="383.5" y1="47.7" x2="385.7" y2="47.7"/><line x1="469.1" y1="126.5" x2="469.1" y2="128.7"/><line x1="383.5" y1="43.1" x2="385.7" y2="43.1"/><line x1="472.4" y1="126.5" x2="472.4" y2="128.7"/><line x1="383.5" y1="39.8" x2="385.7" y2="39.8"/><line x1="474.9" y1="126.5" x2="474.9" y2="128.7"/><line x1="383.5" y1="37.3" x2="385.7" y2="37.3"/><line x1="476.9" y1="126.5" x2="476.9" y2="128.7"/><line x1="383.5" y1="35.3" x2="385.7" y2="35.3"/><line x1="478.7" y1="126.5" x2="478.7" y2="128.7"/><line x1="383.5" y1="33.5" x2="385.7" y2="33.5"/><line x1="480.2" y1="126.5" x2="480.2" y2="128.7"/><line x1="383.5" y1="32.0" x2="385.7" y2="32.0"/><line x1="481.5" y1="126.5" x2="481.5" y2="128.7"/><line x1="383.5" y1="30.7" x2="385.7" y2="30.7"/><line x1="490.5" y1="126.5" x2="490.5" y2="128.7"/><line x1="383.5" y1="21.7" x2="385.7" y2="21.7"/><line x1="393.7" y1="126.5" x2="393.7" y2="128.7"/><line x1="383.5" y1="118.5" x2="385.7" y2="118.5"/><line x1="395.3" y1="126.5" x2="395.3" y2="128.7"/><line x1="383.5" y1="116.9" x2="385.7" y2="116.9"/><line x1="397.7" y1="126.5" x2="397.7" y2="128.7"/><line x1="383.5" y1="114.5" x2="385.7" y2="114.5"/><line x1="401.2" y1="126.5" x2="401.2" y2="128.7"/><line x1="383.5" y1="111.0" x2="385.7" y2="111.0"/><line x1="404.7" y1="126.5" x2="404.7" y2="128.7"/><line x1="383.5" y1="107.5" x2="385.7" y2="107.5"/><line x1="415.2" y1="126.5" x2="415.2" y2="128.7"/><line x1="383.5" y1="97.0" x2="385.7" y2="97.0"/><line x1="419.2" y1="126.5" x2="419.2" y2="128.7"/><line x1="383.5" y1="93.0" x2="385.7" y2="93.0"/><line x1="422.5" y1="126.5" x2="422.5" y2="128.7"/><line x1="383.5" y1="89.7" x2="385.7" y2="89.7"/><line x1="424.9" y1="126.5" x2="424.9" y2="128.7"/><line x1="383.5" y1="87.3" x2="385.7" y2="87.3"/><line x1="426.5" y1="126.5" x2="426.5" y2="128.7"/><line x1="383.5" y1="85.7" x2="385.7" y2="85.7"/></g><rect x="407.7" y="126.8" width="4.6" height="1.3" fill="#777"/><rect x="408.9" y="126.8" width="2.0" height="2.0" fill="#444"/><rect x="384.2" y="100.3" width="1.2" height="4.4" fill="#888"/><rect x="383.3" y="101.6" width="2.0" height="1.6" fill="#555"/><g fill="none" stroke="#222" stroke-width="1.1" stroke-linejoin="miter"><path d="M107.7,70.6 L76.0,70.6 L76.0,33.9 L129.4,33.9 L129.4,42.5 "/><path d="M130.0,43.2 L148.6,43.2 L148.6,103.0 L107.7,103.0 L107.7,70.6"/></g><path d="M107.7,70.89999999999999 L129.70000000000002,43.1" stroke="#000" stroke-width="1.55" fill="none" stroke-linecap="butt"/><g fill="none" stroke="#222" stroke-width="1.1" stroke-linejoin="miter"><path d="M272.2,70.6 L240.6,70.6 L240.6,33.9 L294.2,33.9 L294.2,42.5 "/><path d="M294.8,43.2 L313.0,43.2 L313.0,102.8 L272.2,102.8 L272.2,70.6"/></g><path d="M272.2,70.89999999999999 L294.5,43.1" stroke="#000" stroke-width="1.55" fill="none" stroke-linecap="butt"/><g fill="none" stroke="#222" stroke-width="1.1" stroke-linejoin="miter"><path d="M439.7,69.0 L407.6,69.0 L407.6,32.9 L461.0,32.9 L461.0,40.9 "/><path d="M461.6,41.6 L480.4,41.6 L480.4,102.0 L439.7,102.0 L439.7,69.0"/></g><path d="M439.7,69.3 L461.3,41.5" stroke="#000" stroke-width="1.55" fill="none" stroke-linecap="butt"/><path d="M33.8,129 L33.8,148.9 L53,148.9" fill="none" stroke="#000" stroke-width="1.25"/><path d="M33.8,123.2 L31.4,131.2 L36.2,131.2Z" fill="#000"/><path d="M59.0,148.9 L51.2,146.5 L51.2,151.3Z" fill="#000"/><path d="M43.0,201.15000000000003 L43.0,334.1 L241.3,334.1" fill="none" stroke="#000" stroke-width="1.7"/><line x1="38.9" y1="334.1" x2="43.0" y2="334.1" stroke="#000" stroke-width="1.5"/><line x1="38.9" y1="301.05" x2="43.0" y2="301.05" stroke="#000" stroke-width="1.5"/><line x1="38.9" y1="268.0" x2="43.0" y2="268.0" stroke="#000" stroke-width="1.5"/><line x1="38.9" y1="234.95" x2="43.0" y2="234.95" stroke="#000" stroke-width="1.5"/><line x1="38.9" y1="201.9" x2="43.0" y2="201.9" stroke="#000" stroke-width="1.5"/><line x1="142.0" y1="330.6" x2="142.0" y2="337.9" stroke="#000" stroke-width="1.5"/><line x1="62.2" y1="191.05" x2="122.3" y2="191.05" stroke="#000" stroke-width="1.5"/><line x1="91.9" y1="211.7" x2="122.3" y2="211.7" stroke="#000" stroke-width="1.5"/><line x1="161.3" y1="191.05" x2="220.8" y2="191.05" stroke="#000" stroke-width="1.5"/><line x1="191.3" y1="211.7" x2="220.8" y2="211.7" stroke="#000" stroke-width="1.5"/><line x1="56.4" y1="242.5" x2="74.6" y2="242.5" stroke="#949494" stroke-width="1.2"/><path d="M63.05,233.60 L67.65,233.60 L65.35,238.00Z" fill="#fff" stroke="#8c8c8c" stroke-width="1.45" stroke-linejoin="round"/><path d="M59.60,239.30 L64.20,239.30 L61.90,243.70Z" fill="#fff" stroke="#8c8c8c" stroke-width="1.45" stroke-linejoin="round"/><path d="M66.70,239.30 L71.30,239.30 L69.00,243.70Z" fill="#fff" stroke="#8c8c8c" stroke-width="1.45" stroke-linejoin="round"/><path d="M61.80,244.10 L66.40,244.10 L64.10,248.50Z" fill="#fff" stroke="#8c8c8c" stroke-width="1.45" stroke-linejoin="round"/><path d="M65.20,244.10 L69.80,244.10 L67.50,248.50Z" fill="#fff" stroke="#8c8c8c" stroke-width="1.45" stroke-linejoin="round"/><line x1="83.8" y1="243.2" x2="101.7" y2="243.2" stroke="#949494" stroke-width="1.2"/><path d="M85.80,238.70 L91.40,238.70 L88.60,233.50Z" fill="#949494"/><path d="M89.90,255.00 L95.50,255.00 L92.70,249.80Z" fill="#949494"/><path d="M87.80,245.60 L93.40,245.60 L90.60,240.40Z" fill="#949494"/><path d="M90.80,246.00 L96.40,246.00 L93.60,240.80Z" fill="#949494"/><path d="M93.50,245.30 L99.10,245.30 L96.30,240.10Z" fill="#949494"/><rect x="112.20" y="259.70" width="5.2" height="5.2" fill="#000"/><rect x="121.70" y="259.20" width="5.2" height="5.2" fill="#000"/><rect x="116.60" y="262.20" width="5.2" height="5.2" fill="#000"/><rect x="116.60" y="265.00" width="5.2" height="5.2" fill="#000"/><rect x="117.20" y="276.00" width="5.2" height="5.2" fill="#000"/><line x1="110.6" y1="266.5" x2="128.9" y2="266.5" stroke="#000" stroke-width="1.4"/><line x1="155.2" y1="267.1" x2="173.7" y2="267.1" stroke="#949494" stroke-width="1.2"/><path d="M158.00,261.00 L162.60,261.00 L160.30,265.40Z" fill="#fff" stroke="#8c8c8c" stroke-width="1.45" stroke-linejoin="round"/><path d="M156.10,263.80 L160.70,263.80 L158.40,268.20Z" fill="#fff" stroke="#8c8c8c" stroke-width="1.45" stroke-linejoin="round"/><path d="M166.00,261.00 L170.60,261.00 L168.30,265.40Z" fill="#fff" stroke="#8c8c8c" stroke-width="1.45" stroke-linejoin="round"/><path d="M167.70,264.60 L172.30,264.60 L170.00,269.00Z" fill="#fff" stroke="#8c8c8c" stroke-width="1.45" stroke-linejoin="round"/><path d="M162.10,271.10 L166.70,271.10 L164.40,275.50Z" fill="#fff" stroke="#8c8c8c" stroke-width="1.45" stroke-linejoin="round"/><line x1="182.6" y1="267.1" x2="200.8" y2="267.1" stroke="#949494" stroke-width="1.2"/><path d="M185.00,262.40 L190.60,262.40 L187.80,257.20Z" fill="#949494"/><path d="M183.90,269.00 L189.50,269.00 L186.70,263.80Z" fill="#949494"/><path d="M193.40,268.50 L199.00,268.50 L196.20,263.30Z" fill="#949494"/><path d="M188.90,276.40 L194.50,276.40 L191.70,271.20Z" fill="#949494"/><rect x="216.50" y="230.25" width="5.2" height="5.2" fill="#000"/><rect x="211.15" y="241.60" width="5.2" height="5.2" fill="#000"/><rect x="222.20" y="243.40" width="5.2" height="5.2" fill="#000"/><rect x="214.00" y="244.80" width="5.2" height="5.2" fill="#000"/><rect x="220.00" y="246.20" width="5.2" height="5.2" fill="#000"/><rect x="215.40" y="248.60" width="5.2" height="5.2" fill="#000"/><rect x="218.70" y="248.60" width="5.2" height="5.2" fill="#000"/><line x1="209.4" y1="245.7" x2="227.9" y2="245.7" stroke="#000" stroke-width="1.4"/><rect x="219.0" y="246.4" width="1.6" height="1.5" fill="#fff"/><path d="M321.6,201.2 L321.6,333.95 L520,333.95" fill="none" stroke="#000" stroke-width="1.7"/><line x1="317.5" y1="333.95" x2="321.6" y2="333.95" stroke="#000" stroke-width="1.5"/><line x1="317.5" y1="300.95" x2="321.6" y2="300.95" stroke="#000" stroke-width="1.5"/><line x1="317.5" y1="267.95" x2="321.6" y2="267.95" stroke="#000" stroke-width="1.5"/><line x1="317.5" y1="234.95" x2="321.6" y2="234.95" stroke="#000" stroke-width="1.5"/><line x1="317.5" y1="201.95" x2="321.6" y2="201.95" stroke="#000" stroke-width="1.5"/><line x1="420.9" y1="330.6" x2="420.9" y2="337.9" stroke="#000" stroke-width="1.5"/><line x1="335.9" y1="188.7" x2="398.9" y2="188.7" stroke="#000" stroke-width="1.5"/><line x1="336.6" y1="206.8" x2="366.5" y2="206.8" stroke="#000" stroke-width="1.5"/><line x1="371.1" y1="206.8" x2="400.8" y2="206.8" stroke="#000" stroke-width="1.5"/><line x1="437.1" y1="206.8" x2="466.7" y2="206.8" stroke="#000" stroke-width="1.5"/><line x1="471.3" y1="206.8" x2="500.9" y2="206.8" stroke="#000" stroke-width="1.5"/><line x1="335.1" y1="293.9" x2="353.2" y2="293.9" stroke="#949494" stroke-width="1.2"/><path d="M345.50,276.60 L350.60,276.60 L348.05,281.40Z" fill="#fff" stroke="#8c8c8c" stroke-width="1.5" stroke-linejoin="round"/><path d="M337.55,282.20 L342.65,282.20 L340.10,287.00Z" fill="#fff" stroke="#8c8c8c" stroke-width="1.5" stroke-linejoin="round"/><path d="M341.45,293.40 L346.55,293.40 L344.00,298.20Z" fill="#fff" stroke="#8c8c8c" stroke-width="1.5" stroke-linejoin="round"/><path d="M345.50,298.70 L350.60,298.70 L348.05,303.50Z" fill="#fff" stroke="#8c8c8c" stroke-width="1.5" stroke-linejoin="round"/><path d="M337.55,305.40 L342.65,305.40 L340.10,310.20Z" fill="#fff" stroke="#8c8c8c" stroke-width="1.5" stroke-linejoin="round"/><line x1="361.6" y1="244.9" x2="380.4" y2="244.9" stroke="#949494" stroke-width="1.2"/><path d="M363.95,222.15 L369.85,222.15 L366.90,216.65Z" fill="#949494"/><path d="M372.35,221.45 L378.25,221.45 L375.30,215.95Z" fill="#949494"/><path d="M364.15,253.85 L370.05,253.85 L367.10,248.35Z" fill="#949494"/><path d="M372.35,261.05 L378.25,261.05 L375.30,255.55Z" fill="#949494"/><path d="M368.35,280.95 L374.25,280.95 L371.30,275.45Z" fill="#949494"/><rect x="390.85" y="308.85" width="5.5" height="5.5" fill="#000"/><rect x="400.50" y="308.25" width="5.5" height="5.5" fill="#000"/><rect x="395.65" y="309.85" width="5.5" height="5.5" fill="#000"/><rect x="390.25" y="315.25" width="5.5" height="5.5" fill="#000"/><rect x="401.15" y="315.25" width="5.5" height="5.5" fill="#000"/><rect x="395.45" y="322.25" width="5.5" height="5.5" fill="#000"/><line x1="389.0" y1="315.8" x2="407.5" y2="315.8" stroke="#000" stroke-width="1.4"/><line x1="434.6" y1="304.4" x2="451.9" y2="304.4" stroke="#949494" stroke-width="1.2"/><path d="M440.85,287.50 L445.95,287.50 L443.40,292.30Z" fill="#fff" stroke="#8c8c8c" stroke-width="1.5" stroke-linejoin="round"/><path d="M440.85,296.90 L445.95,296.90 L443.40,301.70Z" fill="#fff" stroke="#8c8c8c" stroke-width="1.5" stroke-linejoin="round"/><path d="M436.80,304.10 L441.90,304.10 L439.35,308.90Z" fill="#fff" stroke="#8c8c8c" stroke-width="1.5" stroke-linejoin="round"/><path d="M444.85,304.70 L449.95,304.70 L447.40,309.50Z" fill="#fff" stroke="#8c8c8c" stroke-width="1.5" stroke-linejoin="round"/><path d="M440.85,315.40 L445.95,315.40 L443.40,320.20Z" fill="#fff" stroke="#8c8c8c" stroke-width="1.5" stroke-linejoin="round"/><line x1="460.9" y1="261.6" x2="479.7" y2="261.6" stroke="#949494" stroke-width="1.2"/><path d="M467.35,230.75 L473.25,230.75 L470.30,225.25Z" fill="#949494"/><path d="M471.45,254.25 L477.35,254.25 L474.40,248.75Z" fill="#949494"/><path d="M463.45,261.65 L469.35,261.65 L466.40,256.15Z" fill="#949494"/><path d="M467.35,280.85 L473.25,280.85 L470.30,275.35Z" fill="#949494"/><path d="M467.45,294.45 L473.35,294.45 L470.40,288.95Z" fill="#949494"/><rect x="487.15" y="304.95" width="5.5" height="5.5" fill="#000"/><rect x="499.65" y="303.65" width="5.5" height="5.5" fill="#000"/><rect x="489.35" y="308.25" width="5.5" height="5.5" fill="#000"/><rect x="495.05" y="304.95" width="5.5" height="5.5" fill="#000"/><rect x="500.95" y="309.75" width="5.5" height="5.5" fill="#000"/><rect x="494.75" y="314.15" width="5.5" height="5.5" fill="#000"/><rect x="497.75" y="310.75" width="5.5" height="5.5" fill="#000"/><rect x="491.25" y="306.75" width="5.5" height="5.5" fill="#000"/><line x1="487.1" y1="310.6" x2="506.9" y2="310.6" stroke="#000" stroke-width="1.4"/><rect x="495.9" y="312.0" width="3.3" height="1.6" fill="#fff"/><path d="M163.50,365.90 L169.50,365.90 L166.50,371.50Z" fill="#fff" stroke="#8c8c8c" stroke-width="2.0" stroke-linejoin="round"/><path d="M232.50,373.40 L240.50,373.40 L236.50,365.80Z" fill="#949494"/><rect x="324.20" y="365.80" width="7.2" height="7.2" fill="#000"/><g fill="#000" stroke="#000" stroke-width="0.42" text-rendering="geometricPrecision" style="filter:blur(0.3px)"><text x="-0.3" y="11.7" font-size="15.8" text-anchor="start" font-weight="normal" font-style="normal" >A</text><text x="0.0" y="177.9" font-size="15.8" text-anchor="start" font-weight="normal" font-style="normal" >B</text><text transform="translate(266.3,178.4) scale(0.9,1)" font-size="17.3">C</text><text x="93.0" y="14.8" font-size="9.9" text-anchor="start" font-weight="normal" font-style="italic" stroke-width="0.7">YY1<tspan font-size="5.7" dy="-2.8" dx="0.2" stroke-width="0.4">Fl/Fl</tspan></text><text x="254.3" y="14.7" font-size="9.9" text-anchor="start" font-weight="normal" font-style="italic" stroke-width="0.7">AID-Cre</text><text x="423.0" y="13.65" font-size="9.9" text-anchor="start" font-weight="normal" font-style="italic" stroke-width="0.7">YY1<tspan font-size="5.7" dy="-2.8" dx="0.2" stroke-width="0.4">CKO</tspan></text><text x="84.0" y="31.8" font-size="10.0" text-anchor="start" font-weight="normal" font-style="normal" >55.8</text><text x="58.6" y="53.7" font-size="10.0" text-anchor="start" font-weight="normal" font-style="normal" >DZ</text><text x="102.6" y="114.9" font-size="10.0" text-anchor="start" font-weight="normal" font-style="normal" >LZ</text><text x="130.1" y="114.8" font-size="9.8" text-anchor="start" font-weight="normal" font-style="normal" >41.1</text><text x="249.4" y="31.8" font-size="10.0" text-anchor="start" font-weight="normal" font-style="normal" >55.4</text><text x="294.4" y="114.2" font-size="9.7" text-anchor="start" font-weight="normal" font-style="normal" >41.1</text><text x="414.4" y="30.6" font-size="10.0" text-anchor="start" font-weight="normal" font-style="normal" >33.8</text><text x="461.7" y="113.3" font-size="10.0" text-anchor="start" font-weight="normal" font-style="normal" >61.2</text><text transform="translate(37.2,90.6) rotate(-90)" font-size="9.6" text-anchor="middle">CXCR4</text><text x="65.4" y="151.3" font-size="9.7" text-anchor="start" font-weight="normal" font-style="normal" >CD86</text><text x="215.3" y="153.1" font-size="9.9" text-anchor="start" font-weight="normal" font-style="normal" stroke-width="0.5">Gated on B220<tspan font-size="4.8" dy="-3.9" font-weight="bold">+</tspan><tspan dy="3.9">CD95</tspan><tspan font-size="4.8" dy="-3.9" font-weight="bold">+</tspan><tspan dy="3.9">GL7</tspan><tspan font-size="4.8" dy="-3.9" font-weight="bold">+</tspan></text><text x="36.0" y="337.7" font-size="10.0" text-anchor="end" font-weight="normal" font-style="normal" >0</text><text x="36.0" y="304.65" font-size="10.0" text-anchor="end" font-weight="normal" font-style="normal" >20</text><text x="36.0" y="271.6" font-size="10.0" text-anchor="end" font-weight="normal" font-style="normal" >40</text><text x="36.0" y="238.55" font-size="10.0" text-anchor="end" font-weight="normal" font-style="normal" >60</text><text x="36.0" y="205.5" font-size="10.0" text-anchor="end" font-weight="normal" font-style="normal" >80</text><text transform="translate(11.9,264.5) rotate(-90)" font-size="9.75" text-anchor="middle">% of GC B cells</text><text x="89.1" y="350.4" font-size="10.0" text-anchor="start" font-weight="normal" font-style="normal" >DZ</text><text x="187.6" y="350.4" font-size="10.0" text-anchor="start" font-weight="normal" font-style="normal" >LZ</text><text x="92.25" y="186.8" font-size="9.6" text-anchor="middle" font-weight="bold">***</text><text x="106.25" y="206.9" font-size="9.6" text-anchor="middle" font-weight="bold">***</text><text x="191.3" y="186.8" font-size="9.6" text-anchor="middle" font-weight="bold">***</text><text x="206.2" y="206.9" font-size="9.6" text-anchor="middle" font-weight="bold">***</text><text x="317.2" y="338.05" font-size="10.0" text-anchor="end" font-weight="normal" font-style="normal" >0</text><text x="292.0" y="304.75" font-size="9.5" text-anchor="start" font-weight="normal" font-style="normal" stroke-width="0.5">1x10<tspan font-size="5.6" dy="-5.3" dx="-0.7">6</tspan></text><text x="292.0" y="271.75" font-size="9.5" text-anchor="start" font-weight="normal" font-style="normal" stroke-width="0.5">2x10<tspan font-size="5.6" dy="-5.3" dx="-0.7">6</tspan></text><text x="292.0" y="238.75" font-size="9.5" text-anchor="start" font-weight="normal" font-style="normal" stroke-width="0.5">3x10<tspan font-size="5.6" dy="-5.3" dx="-0.7">6</tspan></text><text x="292.0" y="205.75" font-size="9.5" text-anchor="start" font-weight="normal" font-style="normal" stroke-width="0.5">4x10<tspan font-size="5.6" dy="-5.3" dx="-0.7">6</tspan></text><text transform="translate(283.0,263.0) rotate(-90)" font-size="9.75" text-anchor="middle"># of cells</text><text x="367.5" y="349.8" font-size="10.0" text-anchor="start" font-weight="normal" font-style="normal" >DZ</text><text x="465.3" y="349.8" font-size="10.0" text-anchor="start" font-weight="normal" font-style="normal" >LZ</text><text x="367.7" y="181.6" font-size="9.6" text-anchor="middle" font-weight="bold">***</text><text x="351.7" y="201.8" font-size="9.6" text-anchor="middle" font-weight="bold">***</text><text x="385.1" y="201.8" font-size="9.6" text-anchor="middle" font-weight="bold">***</text><text x="451.7" y="201.8" font-size="9.6" text-anchor="middle" font-weight="bold">***</text><text x="486.3" y="201.8" font-size="9.6" text-anchor="middle" font-weight="bold">***</text><text x="186.0" y="371.6" font-size="9.9" text-anchor="start" font-weight="normal" font-style="italic" stroke-width="0.7">YY1<tspan font-size="5.7" dy="-2.8" dx="0.2" stroke-width="0.4">Fl/Fl</tspan></text><text x="255.8" y="371.6" font-size="9.9" text-anchor="start" font-weight="normal" font-style="italic" stroke-width="0.7">AID-Cre</text><text x="347.2" y="371.6" font-size="9.9" text-anchor="start" font-weight="normal" font-style="italic" stroke-width="0.7">YY1<tspan font-size="5.7" dy="-2.8" dx="0.2" stroke-width="0.4">CKO</tspan></text></g></svg></body></html>
